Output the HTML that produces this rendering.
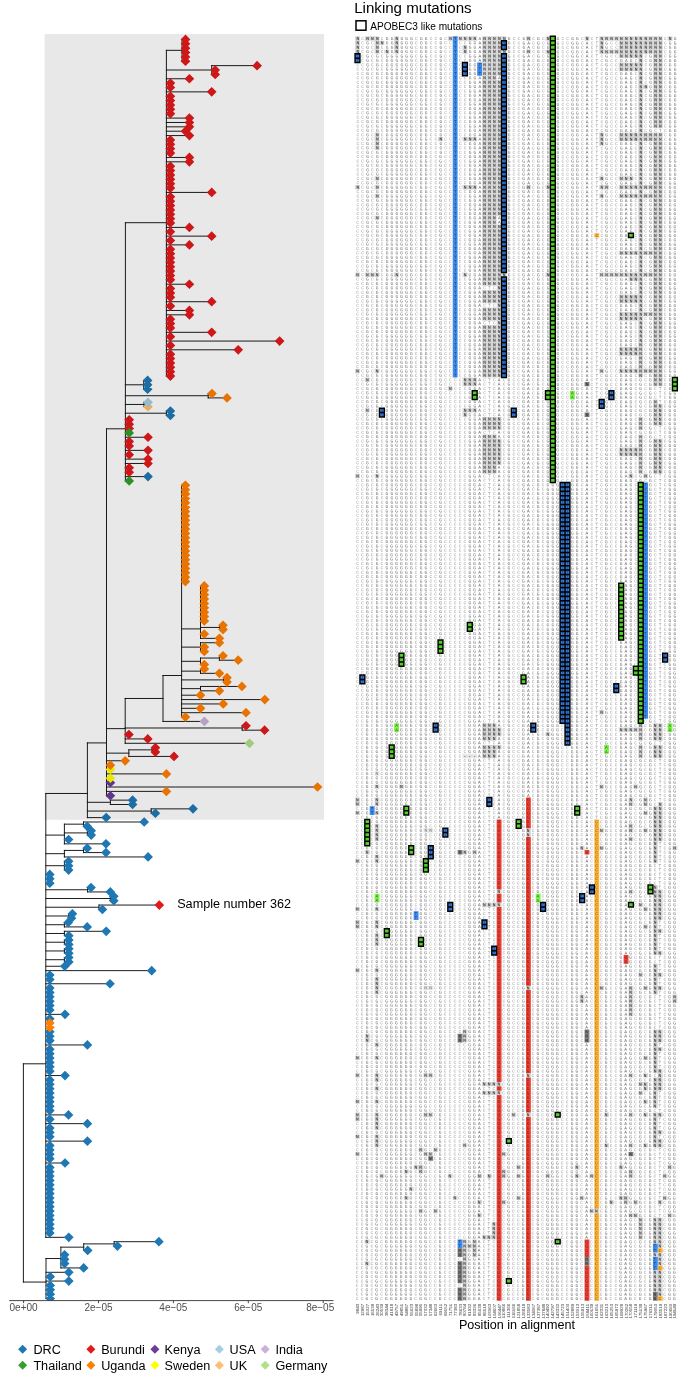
<!DOCTYPE html>
<html lang="en"><head><meta charset="utf-8"><title>Linking mutations</title>
<style>
html,body{margin:0;padding:0;background:#fff}
svg{display:block}
text{font-family:"Liberation Sans",Arial,sans-serif}
.ln{stroke:#111;stroke-width:.95;fill:none;stroke-linecap:square}
.ax{font-size:10px;fill:#4D4D4D;text-anchor:middle}
.lg{font-size:12.65px;fill:#000}
.m text{font-family:"Liberation Mono",monospace;font-size:4.5px;letter-spacing:2.18px;white-space:pre}
.b text{fill:#969696}
.b2 text{fill:#666}
.d text{fill:#333;stroke:#333;stroke-width:.09}
.e text{fill:#000;fill-opacity:.55}
.xl{font-size:4.4px;fill:#6a6a6a;stroke:#6a6a6a;stroke-width:.08;text-anchor:end}
.bc{stroke:#000;stroke-width:1.4}
</style></head><body>
<svg width="685" height="1382" viewBox="0 0 685 1382">
<rect width="685" height="1382" fill="#fff"/>
<g id="tree">
<path class="ln" d="M182 39.4V61.26M182 39.4H185.5M182 43.77H185.5M182 48.14H185.5M182 52.52H185.5M182 56.89H185.5M182 61.26H185.5M211.7 65.63V74.38M211.7 65.63H257.1M211.7 70H215.2M211.7 74.38H215.2M166.4 50.33V376.04M166.4 50.33H182M166.4 70H211.7M166.4 78.75H189.4M166.4 83.12H170.4M166.4 87.49H170.4M166.4 91.86H211.7M166.4 96.24H170.4M166.4 100.61H170.4M166.4 104.98H170.4M166.4 109.35H170.4M166.4 113.72H170.4M166.4 118.1H189.4M166.4 122.47H189.4M166.4 126.84H189.4M166.4 131.21H185.5M166.4 135.58H189.4M166.4 139.96H170.4M166.4 144.33H170.4M166.4 148.7H170.4M166.4 153.07H170.4M166.4 157.44H189.4M166.4 161.82H189.4M166.4 166.19H170.4M166.4 170.56H170.4M166.4 174.93H170.4M166.4 179.3H170.4M166.4 183.68H170.4M166.4 188.05H170.4M166.4 192.42H211.7M166.4 196.79H170.4M166.4 201.16H170.4M166.4 205.54H170.4M166.4 209.91H170.4M166.4 214.28H170.4M166.4 218.65H170.4M166.4 223.02H170.4M166.4 227.4H189.4M166.4 231.77H170.4M166.4 236.14H211.7M166.4 240.51H170.4M166.4 244.88H189.4M166.4 249.26H170.4M166.4 253.63H170.4M166.4 258H170.4M166.4 262.37H170.4M166.4 266.74H170.4M166.4 271.12H170.4M166.4 275.49H170.4M166.4 279.86H170.4M166.4 284.23H189.4M166.4 288.6H170.4M166.4 292.98H170.4M166.4 297.35H170.4M166.4 301.72H211.7M166.4 306.09H170.4M166.4 310.46H189.4M166.4 314.84H189.4M166.4 319.21H170.4M166.4 323.58H170.4M166.4 327.95H170.4M166.4 332.32H211.7M166.4 336.7H170.4M166.4 341.07H279.6M166.4 345.44H170.4M166.4 349.81H238.2M166.4 354.18H170.4M166.4 358.56H170.4M166.4 362.93H170.4M166.4 367.3H170.4M166.4 371.67H170.4M166.4 376.04H170.4M143.7 380.42V389.16M143.7 380.42H147.6M143.7 384.79H147.6M143.7 389.16H147.6M208.2 393.53V397.9M208.2 393.53H212M208.2 397.9H227M144 402.28V406.65M144 402.28H148M144 406.65H148M166.4 411.02V415.39M166.4 411.02H170.4M166.4 415.39H170.4M125.4 222.69V480.97M125.4 222.69H166.4M125.4 384.79H143.7M125.4 395.72H208.2M125.4 404.46H144M125.4 413.21H166.4M125.4 419.76H129.2M125.4 424.14H129.2M125.4 428.51H129.2M125.4 432.88H129.2M125.4 437.25H148M125.4 441.62H129.2M125.4 446H129.2M125.4 450.37H148M125.4 454.74H129.2M125.4 459.11H148M125.4 463.48H148M125.4 467.86H129.2M125.4 472.23H129.2M125.4 476.6H148M125.4 480.97H129.2M219.7 625.25V629.62M219.7 625.25H223M219.7 629.62H223M200.5 585.9V638.36M200.5 585.9H204.3M200.5 590.27H204.3M200.5 594.64H204.3M200.5 599.02H204.3M200.5 603.39H204.3M200.5 607.76H204.3M200.5 612.13H204.3M200.5 616.5H204.3M200.5 620.88H204.3M200.5 627.43H219.7M200.5 633.99H204.3M200.5 638.36H219.4M200.5 642.74V651.48M200.5 642.74H219.4M200.5 647.11H204.3M200.5 651.48H204.3M219.4 655.85V660.22M219.4 655.85H223M219.4 660.22H238.2M200.5 658.04V664.6M200.5 658.04H219.4M200.5 664.6H204.3M200.5 668.97V673.34M200.5 668.97H204.3M200.5 673.34H219.4M223.5 677.71V682.08M223.5 677.71H227M223.5 682.08H227M200.5 686.46V690.83M200.5 686.46H241.9M200.5 690.83H219.4M181.6 485.34V717.06M181.6 485.34H185.4M181.6 489.72H185.4M181.6 494.09H185.4M181.6 498.46H185.4M181.6 502.83H185.4M181.6 507.2H185.4M181.6 511.58H185.4M181.6 515.95H185.4M181.6 520.32H185.4M181.6 524.69H185.4M181.6 529.06H185.4M181.6 533.44H185.4M181.6 537.81H185.4M181.6 542.18H185.4M181.6 546.55H185.4M181.6 550.92H185.4M181.6 555.3H185.4M181.6 559.67H185.4M181.6 564.04H185.4M181.6 568.41H185.4M181.6 572.78H185.4M181.6 577.16H185.4M181.6 581.53H185.4M181.6 628.9H200.5M181.6 647.11H200.5M181.6 661.32H200.5M181.6 671.15H200.5M181.6 679.9H223.5M181.6 688.64H200.5M181.6 695.2H200.5M181.6 699.57H264.8M181.6 703.94H223.2M181.6 708.32H200.5M181.6 712.69H246M181.6 717.06H185.4M163 675.5V721.43M163 675.5H181.6M163 721.43H204.4M242.2 725.8V730.18M242.2 725.8H246M242.2 730.18H264.6M125.2 698.47V743.29M125.2 698.47H163M125.2 727.99H242.2M125.2 734.55H128.9M125.2 738.92H147.8M125.2 743.29H249.5M152.2 747.66V752.04M152.2 747.66H155.4M152.2 752.04H155.4M128.85 749.85V756.41M128.85 749.85H152.2M128.85 756.41H174M106.5 428.82V795.76M106.5 428.82H125.4M106.5 728.64H125.2M106.5 753.13H128.85M106.5 760.78H125.2M106.5 765.15H110.4M106.5 769.52H110.4M106.5 773.9H166.4M106.5 778.27H110.4M106.5 782.64H110.4M106.5 787.01H317.5M106.5 791.38H166.4M106.5 795.76H110.4M110.4 800.13V804.5M110.4 800.13H132.6M110.4 804.5H132.6M151.2 808.87V813.24M151.2 808.87H193M151.2 813.24H155.4M87.4 742.92V817.62M87.4 742.92H106.5M87.4 802.31H110.4M87.4 811.06H151.2M87.4 817.62H106.2M83.5 821.99V826.36M83.5 821.99H144.2M83.5 826.36H87.2M87.4 830.73V835.1M87.4 830.73H91.2M87.4 835.1H91.2M64.4 824.17V843.85M64.4 824.17H83.5M64.4 832.92H87.4M64.4 839.48H68.6M64.4 843.85H106M83.5 848.22V852.59M83.5 848.22H87.2M83.5 852.59H106M64.4 850.41V856.96M64.4 850.41H83.5M64.4 856.96H148.1M64.4 861.34V870.08M64.4 861.34H68.6M64.4 865.71H68.6M64.4 870.08H68.6M87.6 887.57V891.94M87.6 887.57H91M87.6 891.94H110.3M110.3 896.31V900.68M110.3 896.31H113.8M110.3 900.68H113.8M99 905.06V909.43M99 905.06H159.3M99 909.43H102.4M68.8 913.8V918.17M68.8 913.8H72.4M68.8 918.17H71.5M64.4 922.54V926.92M64.4 922.54H68.2M64.4 926.92H87.2M64.4 931.29V935.66M64.4 931.29H106.2M64.4 935.66H68.8M64.4 940.03V944.4M64.4 940.03H68.8M64.4 944.4H68.8M64.4 948.78V953.15M64.4 948.78H68.8M64.4 953.15H68.8M64.4 957.52V961.89M64.4 957.52H68.8M64.4 961.89H68.8M45.8 793.48V1237.33M45.8 793.48H87.4M45.8 835.1H64.4M45.8 853.68H64.4M45.8 865.71H64.4M45.8 874.45H49.8M45.8 878.82H49.8M45.8 883.2H49.8M45.8 889.75H87.6M45.8 898.5H110.3M45.8 907.24H99M45.8 915.99H68.8M45.8 924.73H64.4M45.8 933.47H64.4M45.8 942.22H64.4M45.8 950.96H64.4M45.8 959.71H64.4M45.8 966.26H64.8M45.8 970.64H151.7M45.8 975.01H49.8M45.8 979.38H49.8M45.8 983.75H110M45.8 988.12H49.8M45.8 992.5H49.8M45.8 996.87H49.8M45.8 1001.24H49.8M45.8 1005.61H49.8M45.8 1009.98H49.8M45.8 1014.36H65M45.8 1018.73H49.8M45.8 1023.1H49.8M45.8 1027.47H49.8M45.8 1031.84H49.8M45.8 1036.22H49.8M45.8 1040.59H49.8M45.8 1044.96H87.4M45.8 1049.33H49.8M45.8 1053.7H49.8M45.8 1058.08H49.8M45.8 1062.45H49.8M45.8 1066.82H49.8M45.8 1071.19H49.8M45.8 1075.56H65M45.8 1079.94H49.8M45.8 1084.31H49.8M45.8 1088.68H49.8M45.8 1093.05H49.8M45.8 1097.42H49.8M45.8 1101.8H49.8M45.8 1106.17H49.8M45.8 1110.54H49.8M45.8 1114.91H68.5M45.8 1119.28H49.8M45.8 1123.66H87.4M45.8 1128.03H49.8M45.8 1132.4H49.8M45.8 1136.77H49.8M45.8 1141.14H87.4M45.8 1145.52H49.8M45.8 1149.89H49.8M45.8 1154.26H49.8M45.8 1158.63H49.8M45.8 1163H65M45.8 1167.38H49.8M45.8 1171.75H49.8M45.8 1176.12H49.8M45.8 1180.49H49.8M45.8 1184.86H49.8M45.8 1189.24H49.8M45.8 1193.61H49.8M45.8 1197.98H49.8M45.8 1202.35H49.8M45.8 1206.72H49.8M45.8 1211.1H49.8M45.8 1215.47H49.8M45.8 1219.84H49.8M45.8 1224.21H49.8M45.8 1228.58H49.8M45.8 1232.96H49.8M45.8 1237.33H68.8M114.2 1241.7V1246.07M114.2 1241.7H158.9M114.2 1246.07H117.4M83.7 1243.89V1250.44M83.7 1243.89H114.2M83.7 1250.44H87.7M60.9 1247.16V1267.93M60.9 1247.16H83.7M60.9 1254.82H64.6M60.9 1259.19H64.6M60.9 1263.56H64.6M60.9 1267.93H83.7M46 1258.53V1298.54M46 1258.53H60.9M46 1272.3H68.8M46 1276.68H50.2M46 1281.05H68.8M46 1285.42H50.2M46 1289.79H50.2M46 1294.16H50.2M46 1298.54H50.2M23.4 1063.8V1282.06M23.4 1063.8H45.8M23.4 1282.06H46"/>
<clipPath id="cp"><rect x="0" y="0" width="685" height="1300.6"/></clipPath><g clip-path="url(#cp)">
<path fill="#1F78B4" d="M142.75 380.42l4.85 -4.85l4.85 4.85l-4.85 4.85zM142.75 384.79l4.85 -4.85l4.85 4.85l-4.85 4.85zM142.75 389.16l4.85 -4.85l4.85 4.85l-4.85 4.85zM165.55 411.02l4.85 -4.85l4.85 4.85l-4.85 4.85zM165.55 415.39l4.85 -4.85l4.85 4.85l-4.85 4.85zM143.15 476.6l4.85 -4.85l4.85 4.85l-4.85 4.85zM127.75 800.13l4.85 -4.85l4.85 4.85l-4.85 4.85zM127.75 804.5l4.85 -4.85l4.85 4.85l-4.85 4.85zM188.15 808.87l4.85 -4.85l4.85 4.85l-4.85 4.85zM150.55 813.24l4.85 -4.85l4.85 4.85l-4.85 4.85zM101.35 817.62l4.85 -4.85l4.85 4.85l-4.85 4.85zM139.35 821.99l4.85 -4.85l4.85 4.85l-4.85 4.85zM82.35 826.36l4.85 -4.85l4.85 4.85l-4.85 4.85zM86.35 830.73l4.85 -4.85l4.85 4.85l-4.85 4.85zM86.35 835.1l4.85 -4.85l4.85 4.85l-4.85 4.85zM63.75 839.48l4.85 -4.85l4.85 4.85l-4.85 4.85zM101.15 843.85l4.85 -4.85l4.85 4.85l-4.85 4.85zM82.35 848.22l4.85 -4.85l4.85 4.85l-4.85 4.85zM101.15 852.59l4.85 -4.85l4.85 4.85l-4.85 4.85zM143.25 856.96l4.85 -4.85l4.85 4.85l-4.85 4.85zM63.75 861.34l4.85 -4.85l4.85 4.85l-4.85 4.85zM63.75 865.71l4.85 -4.85l4.85 4.85l-4.85 4.85zM63.75 870.08l4.85 -4.85l4.85 4.85l-4.85 4.85zM44.95 874.45l4.85 -4.85l4.85 4.85l-4.85 4.85zM44.95 878.82l4.85 -4.85l4.85 4.85l-4.85 4.85zM44.95 883.2l4.85 -4.85l4.85 4.85l-4.85 4.85zM86.15 887.57l4.85 -4.85l4.85 4.85l-4.85 4.85zM105.45 891.94l4.85 -4.85l4.85 4.85l-4.85 4.85zM108.95 896.31l4.85 -4.85l4.85 4.85l-4.85 4.85zM108.95 900.68l4.85 -4.85l4.85 4.85l-4.85 4.85zM97.55 909.43l4.85 -4.85l4.85 4.85l-4.85 4.85zM67.55 913.8l4.85 -4.85l4.85 4.85l-4.85 4.85zM66.65 918.17l4.85 -4.85l4.85 4.85l-4.85 4.85zM63.35 922.54l4.85 -4.85l4.85 4.85l-4.85 4.85zM82.35 926.92l4.85 -4.85l4.85 4.85l-4.85 4.85zM101.35 931.29l4.85 -4.85l4.85 4.85l-4.85 4.85zM63.95 935.66l4.85 -4.85l4.85 4.85l-4.85 4.85zM63.95 940.03l4.85 -4.85l4.85 4.85l-4.85 4.85zM63.95 944.4l4.85 -4.85l4.85 4.85l-4.85 4.85zM63.95 948.78l4.85 -4.85l4.85 4.85l-4.85 4.85zM63.95 953.15l4.85 -4.85l4.85 4.85l-4.85 4.85zM63.95 957.52l4.85 -4.85l4.85 4.85l-4.85 4.85zM63.95 961.89l4.85 -4.85l4.85 4.85l-4.85 4.85zM59.95 966.26l4.85 -4.85l4.85 4.85l-4.85 4.85zM146.85 970.64l4.85 -4.85l4.85 4.85l-4.85 4.85zM44.95 975.01l4.85 -4.85l4.85 4.85l-4.85 4.85zM44.95 979.38l4.85 -4.85l4.85 4.85l-4.85 4.85zM105.15 983.75l4.85 -4.85l4.85 4.85l-4.85 4.85zM44.95 988.12l4.85 -4.85l4.85 4.85l-4.85 4.85zM44.95 992.5l4.85 -4.85l4.85 4.85l-4.85 4.85zM44.95 996.87l4.85 -4.85l4.85 4.85l-4.85 4.85zM44.95 1001.24l4.85 -4.85l4.85 4.85l-4.85 4.85zM44.95 1005.61l4.85 -4.85l4.85 4.85l-4.85 4.85zM44.95 1009.98l4.85 -4.85l4.85 4.85l-4.85 4.85zM60.15 1014.36l4.85 -4.85l4.85 4.85l-4.85 4.85zM44.95 1018.73l4.85 -4.85l4.85 4.85l-4.85 4.85zM44.95 1031.84l4.85 -4.85l4.85 4.85l-4.85 4.85zM44.95 1036.22l4.85 -4.85l4.85 4.85l-4.85 4.85zM44.95 1040.59l4.85 -4.85l4.85 4.85l-4.85 4.85zM82.55 1044.96l4.85 -4.85l4.85 4.85l-4.85 4.85zM44.95 1049.33l4.85 -4.85l4.85 4.85l-4.85 4.85zM44.95 1053.7l4.85 -4.85l4.85 4.85l-4.85 4.85zM44.95 1058.08l4.85 -4.85l4.85 4.85l-4.85 4.85zM44.95 1062.45l4.85 -4.85l4.85 4.85l-4.85 4.85zM44.95 1066.82l4.85 -4.85l4.85 4.85l-4.85 4.85zM44.95 1071.19l4.85 -4.85l4.85 4.85l-4.85 4.85zM60.15 1075.56l4.85 -4.85l4.85 4.85l-4.85 4.85zM44.95 1079.94l4.85 -4.85l4.85 4.85l-4.85 4.85zM44.95 1084.31l4.85 -4.85l4.85 4.85l-4.85 4.85zM44.95 1088.68l4.85 -4.85l4.85 4.85l-4.85 4.85zM44.95 1093.05l4.85 -4.85l4.85 4.85l-4.85 4.85zM44.95 1097.42l4.85 -4.85l4.85 4.85l-4.85 4.85zM44.95 1101.8l4.85 -4.85l4.85 4.85l-4.85 4.85zM44.95 1106.17l4.85 -4.85l4.85 4.85l-4.85 4.85zM44.95 1110.54l4.85 -4.85l4.85 4.85l-4.85 4.85zM63.65 1114.91l4.85 -4.85l4.85 4.85l-4.85 4.85zM44.95 1119.28l4.85 -4.85l4.85 4.85l-4.85 4.85zM82.55 1123.66l4.85 -4.85l4.85 4.85l-4.85 4.85zM44.95 1128.03l4.85 -4.85l4.85 4.85l-4.85 4.85zM44.95 1132.4l4.85 -4.85l4.85 4.85l-4.85 4.85zM44.95 1136.77l4.85 -4.85l4.85 4.85l-4.85 4.85zM82.55 1141.14l4.85 -4.85l4.85 4.85l-4.85 4.85zM44.95 1145.52l4.85 -4.85l4.85 4.85l-4.85 4.85zM44.95 1149.89l4.85 -4.85l4.85 4.85l-4.85 4.85zM44.95 1154.26l4.85 -4.85l4.85 4.85l-4.85 4.85zM44.95 1158.63l4.85 -4.85l4.85 4.85l-4.85 4.85zM60.15 1163l4.85 -4.85l4.85 4.85l-4.85 4.85zM44.95 1167.38l4.85 -4.85l4.85 4.85l-4.85 4.85zM44.95 1171.75l4.85 -4.85l4.85 4.85l-4.85 4.85zM44.95 1176.12l4.85 -4.85l4.85 4.85l-4.85 4.85zM44.95 1180.49l4.85 -4.85l4.85 4.85l-4.85 4.85zM44.95 1184.86l4.85 -4.85l4.85 4.85l-4.85 4.85zM44.95 1189.24l4.85 -4.85l4.85 4.85l-4.85 4.85zM44.95 1193.61l4.85 -4.85l4.85 4.85l-4.85 4.85zM44.95 1197.98l4.85 -4.85l4.85 4.85l-4.85 4.85zM44.95 1202.35l4.85 -4.85l4.85 4.85l-4.85 4.85zM44.95 1206.72l4.85 -4.85l4.85 4.85l-4.85 4.85zM44.95 1211.1l4.85 -4.85l4.85 4.85l-4.85 4.85zM44.95 1215.47l4.85 -4.85l4.85 4.85l-4.85 4.85zM44.95 1219.84l4.85 -4.85l4.85 4.85l-4.85 4.85zM44.95 1224.21l4.85 -4.85l4.85 4.85l-4.85 4.85zM44.95 1228.58l4.85 -4.85l4.85 4.85l-4.85 4.85zM44.95 1232.96l4.85 -4.85l4.85 4.85l-4.85 4.85zM63.95 1237.33l4.85 -4.85l4.85 4.85l-4.85 4.85zM154.05 1241.7l4.85 -4.85l4.85 4.85l-4.85 4.85zM112.55 1246.07l4.85 -4.85l4.85 4.85l-4.85 4.85zM82.85 1250.44l4.85 -4.85l4.85 4.85l-4.85 4.85zM59.75 1254.82l4.85 -4.85l4.85 4.85l-4.85 4.85zM59.75 1259.19l4.85 -4.85l4.85 4.85l-4.85 4.85zM59.75 1263.56l4.85 -4.85l4.85 4.85l-4.85 4.85zM78.85 1267.93l4.85 -4.85l4.85 4.85l-4.85 4.85zM63.95 1272.3l4.85 -4.85l4.85 4.85l-4.85 4.85zM45.35 1276.68l4.85 -4.85l4.85 4.85l-4.85 4.85zM63.95 1281.05l4.85 -4.85l4.85 4.85l-4.85 4.85zM45.35 1285.42l4.85 -4.85l4.85 4.85l-4.85 4.85zM45.35 1289.79l4.85 -4.85l4.85 4.85l-4.85 4.85zM45.35 1294.16l4.85 -4.85l4.85 4.85l-4.85 4.85zM45.35 1298.54l4.85 -4.85l4.85 4.85l-4.85 4.85z"/>
<path fill="#E31A1C" d="M180.65 39.4l4.85 -4.85l4.85 4.85l-4.85 4.85zM180.65 43.77l4.85 -4.85l4.85 4.85l-4.85 4.85zM180.65 48.14l4.85 -4.85l4.85 4.85l-4.85 4.85zM180.65 52.52l4.85 -4.85l4.85 4.85l-4.85 4.85zM180.65 56.89l4.85 -4.85l4.85 4.85l-4.85 4.85zM180.65 61.26l4.85 -4.85l4.85 4.85l-4.85 4.85zM252.25 65.63l4.85 -4.85l4.85 4.85l-4.85 4.85zM210.35 70l4.85 -4.85l4.85 4.85l-4.85 4.85zM210.35 74.38l4.85 -4.85l4.85 4.85l-4.85 4.85zM184.55 78.75l4.85 -4.85l4.85 4.85l-4.85 4.85zM165.55 83.12l4.85 -4.85l4.85 4.85l-4.85 4.85zM165.55 87.49l4.85 -4.85l4.85 4.85l-4.85 4.85zM206.85 91.86l4.85 -4.85l4.85 4.85l-4.85 4.85zM165.55 96.24l4.85 -4.85l4.85 4.85l-4.85 4.85zM165.55 100.61l4.85 -4.85l4.85 4.85l-4.85 4.85zM165.55 104.98l4.85 -4.85l4.85 4.85l-4.85 4.85zM165.55 109.35l4.85 -4.85l4.85 4.85l-4.85 4.85zM165.55 113.72l4.85 -4.85l4.85 4.85l-4.85 4.85zM184.55 118.1l4.85 -4.85l4.85 4.85l-4.85 4.85zM184.55 122.47l4.85 -4.85l4.85 4.85l-4.85 4.85zM184.55 126.84l4.85 -4.85l4.85 4.85l-4.85 4.85zM180.65 131.21l4.85 -4.85l4.85 4.85l-4.85 4.85zM184.55 135.58l4.85 -4.85l4.85 4.85l-4.85 4.85zM165.55 139.96l4.85 -4.85l4.85 4.85l-4.85 4.85zM165.55 144.33l4.85 -4.85l4.85 4.85l-4.85 4.85zM165.55 148.7l4.85 -4.85l4.85 4.85l-4.85 4.85zM165.55 153.07l4.85 -4.85l4.85 4.85l-4.85 4.85zM184.55 157.44l4.85 -4.85l4.85 4.85l-4.85 4.85zM184.55 161.82l4.85 -4.85l4.85 4.85l-4.85 4.85zM165.55 166.19l4.85 -4.85l4.85 4.85l-4.85 4.85zM165.55 170.56l4.85 -4.85l4.85 4.85l-4.85 4.85zM165.55 174.93l4.85 -4.85l4.85 4.85l-4.85 4.85zM165.55 179.3l4.85 -4.85l4.85 4.85l-4.85 4.85zM165.55 183.68l4.85 -4.85l4.85 4.85l-4.85 4.85zM165.55 188.05l4.85 -4.85l4.85 4.85l-4.85 4.85zM206.85 192.42l4.85 -4.85l4.85 4.85l-4.85 4.85zM165.55 196.79l4.85 -4.85l4.85 4.85l-4.85 4.85zM165.55 201.16l4.85 -4.85l4.85 4.85l-4.85 4.85zM165.55 205.54l4.85 -4.85l4.85 4.85l-4.85 4.85zM165.55 209.91l4.85 -4.85l4.85 4.85l-4.85 4.85zM165.55 214.28l4.85 -4.85l4.85 4.85l-4.85 4.85zM165.55 218.65l4.85 -4.85l4.85 4.85l-4.85 4.85zM165.55 223.02l4.85 -4.85l4.85 4.85l-4.85 4.85zM184.55 227.4l4.85 -4.85l4.85 4.85l-4.85 4.85zM165.55 231.77l4.85 -4.85l4.85 4.85l-4.85 4.85zM206.85 236.14l4.85 -4.85l4.85 4.85l-4.85 4.85zM165.55 240.51l4.85 -4.85l4.85 4.85l-4.85 4.85zM184.55 244.88l4.85 -4.85l4.85 4.85l-4.85 4.85zM165.55 249.26l4.85 -4.85l4.85 4.85l-4.85 4.85zM165.55 253.63l4.85 -4.85l4.85 4.85l-4.85 4.85zM165.55 258l4.85 -4.85l4.85 4.85l-4.85 4.85zM165.55 262.37l4.85 -4.85l4.85 4.85l-4.85 4.85zM165.55 266.74l4.85 -4.85l4.85 4.85l-4.85 4.85zM165.55 271.12l4.85 -4.85l4.85 4.85l-4.85 4.85zM165.55 275.49l4.85 -4.85l4.85 4.85l-4.85 4.85zM165.55 279.86l4.85 -4.85l4.85 4.85l-4.85 4.85zM184.55 284.23l4.85 -4.85l4.85 4.85l-4.85 4.85zM165.55 288.6l4.85 -4.85l4.85 4.85l-4.85 4.85zM165.55 292.98l4.85 -4.85l4.85 4.85l-4.85 4.85zM165.55 297.35l4.85 -4.85l4.85 4.85l-4.85 4.85zM206.85 301.72l4.85 -4.85l4.85 4.85l-4.85 4.85zM165.55 306.09l4.85 -4.85l4.85 4.85l-4.85 4.85zM184.55 310.46l4.85 -4.85l4.85 4.85l-4.85 4.85zM184.55 314.84l4.85 -4.85l4.85 4.85l-4.85 4.85zM165.55 319.21l4.85 -4.85l4.85 4.85l-4.85 4.85zM165.55 323.58l4.85 -4.85l4.85 4.85l-4.85 4.85zM165.55 327.95l4.85 -4.85l4.85 4.85l-4.85 4.85zM206.85 332.32l4.85 -4.85l4.85 4.85l-4.85 4.85zM165.55 336.7l4.85 -4.85l4.85 4.85l-4.85 4.85zM274.75 341.07l4.85 -4.85l4.85 4.85l-4.85 4.85zM165.55 345.44l4.85 -4.85l4.85 4.85l-4.85 4.85zM233.35 349.81l4.85 -4.85l4.85 4.85l-4.85 4.85zM165.55 354.18l4.85 -4.85l4.85 4.85l-4.85 4.85zM165.55 358.56l4.85 -4.85l4.85 4.85l-4.85 4.85zM165.55 362.93l4.85 -4.85l4.85 4.85l-4.85 4.85zM165.55 367.3l4.85 -4.85l4.85 4.85l-4.85 4.85zM165.55 371.67l4.85 -4.85l4.85 4.85l-4.85 4.85zM165.55 376.04l4.85 -4.85l4.85 4.85l-4.85 4.85zM124.35 419.76l4.85 -4.85l4.85 4.85l-4.85 4.85zM124.35 424.14l4.85 -4.85l4.85 4.85l-4.85 4.85zM124.35 428.51l4.85 -4.85l4.85 4.85l-4.85 4.85zM143.15 437.25l4.85 -4.85l4.85 4.85l-4.85 4.85zM124.35 441.62l4.85 -4.85l4.85 4.85l-4.85 4.85zM124.35 446l4.85 -4.85l4.85 4.85l-4.85 4.85zM143.15 450.37l4.85 -4.85l4.85 4.85l-4.85 4.85zM124.35 454.74l4.85 -4.85l4.85 4.85l-4.85 4.85zM143.15 459.11l4.85 -4.85l4.85 4.85l-4.85 4.85zM143.15 463.48l4.85 -4.85l4.85 4.85l-4.85 4.85zM124.35 467.86l4.85 -4.85l4.85 4.85l-4.85 4.85zM124.35 472.23l4.85 -4.85l4.85 4.85l-4.85 4.85zM241.15 725.8l4.85 -4.85l4.85 4.85l-4.85 4.85zM259.75 730.18l4.85 -4.85l4.85 4.85l-4.85 4.85zM124.05 734.55l4.85 -4.85l4.85 4.85l-4.85 4.85zM142.95 738.92l4.85 -4.85l4.85 4.85l-4.85 4.85zM150.55 747.66l4.85 -4.85l4.85 4.85l-4.85 4.85zM150.55 752.04l4.85 -4.85l4.85 4.85l-4.85 4.85zM169.15 756.41l4.85 -4.85l4.85 4.85l-4.85 4.85zM154.45 905.06l4.85 -4.85l4.85 4.85l-4.85 4.85z"/>
<path fill="#6A3D9A" d="M105.55 782.64l4.85 -4.85l4.85 4.85l-4.85 4.85zM105.55 795.76l4.85 -4.85l4.85 4.85l-4.85 4.85z"/>
<path fill="#FDBF6F" d="M143.15 406.65l4.85 -4.85l4.85 4.85l-4.85 4.85z"/>
<path fill="#FFFF00" d="M105.55 769.52l4.85 -4.85l4.85 4.85l-4.85 4.85zM105.55 778.27l4.85 -4.85l4.85 4.85l-4.85 4.85z"/>
<path fill="#A6CEE3" d="M143.15 402.28l4.85 -4.85l4.85 4.85l-4.85 4.85z"/>
<path fill="#CAB2D6" d="M199.55 721.43l4.85 -4.85l4.85 4.85l-4.85 4.85z"/>
<path fill="#B2DF8A" d="M244.65 743.29l4.85 -4.85l4.85 4.85l-4.85 4.85z"/>
<path fill="#33A02C" d="M124.35 432.88l4.85 -4.85l4.85 4.85l-4.85 4.85zM124.35 480.97l4.85 -4.85l4.85 4.85l-4.85 4.85z"/>
<path fill="#FF7F00" d="M207.15 393.53l4.85 -4.85l4.85 4.85l-4.85 4.85zM222.15 397.9l4.85 -4.85l4.85 4.85l-4.85 4.85zM180.55 485.34l4.85 -4.85l4.85 4.85l-4.85 4.85zM180.55 489.72l4.85 -4.85l4.85 4.85l-4.85 4.85zM180.55 494.09l4.85 -4.85l4.85 4.85l-4.85 4.85zM180.55 498.46l4.85 -4.85l4.85 4.85l-4.85 4.85zM180.55 502.83l4.85 -4.85l4.85 4.85l-4.85 4.85zM180.55 507.2l4.85 -4.85l4.85 4.85l-4.85 4.85zM180.55 511.58l4.85 -4.85l4.85 4.85l-4.85 4.85zM180.55 515.95l4.85 -4.85l4.85 4.85l-4.85 4.85zM180.55 520.32l4.85 -4.85l4.85 4.85l-4.85 4.85zM180.55 524.69l4.85 -4.85l4.85 4.85l-4.85 4.85zM180.55 529.06l4.85 -4.85l4.85 4.85l-4.85 4.85zM180.55 533.44l4.85 -4.85l4.85 4.85l-4.85 4.85zM180.55 537.81l4.85 -4.85l4.85 4.85l-4.85 4.85zM180.55 542.18l4.85 -4.85l4.85 4.85l-4.85 4.85zM180.55 546.55l4.85 -4.85l4.85 4.85l-4.85 4.85zM180.55 550.92l4.85 -4.85l4.85 4.85l-4.85 4.85zM180.55 555.3l4.85 -4.85l4.85 4.85l-4.85 4.85zM180.55 559.67l4.85 -4.85l4.85 4.85l-4.85 4.85zM180.55 564.04l4.85 -4.85l4.85 4.85l-4.85 4.85zM180.55 568.41l4.85 -4.85l4.85 4.85l-4.85 4.85zM180.55 572.78l4.85 -4.85l4.85 4.85l-4.85 4.85zM180.55 577.16l4.85 -4.85l4.85 4.85l-4.85 4.85zM180.55 581.53l4.85 -4.85l4.85 4.85l-4.85 4.85zM199.45 585.9l4.85 -4.85l4.85 4.85l-4.85 4.85zM199.45 590.27l4.85 -4.85l4.85 4.85l-4.85 4.85zM199.45 594.64l4.85 -4.85l4.85 4.85l-4.85 4.85zM199.45 599.02l4.85 -4.85l4.85 4.85l-4.85 4.85zM199.45 603.39l4.85 -4.85l4.85 4.85l-4.85 4.85zM199.45 607.76l4.85 -4.85l4.85 4.85l-4.85 4.85zM199.45 612.13l4.85 -4.85l4.85 4.85l-4.85 4.85zM199.45 616.5l4.85 -4.85l4.85 4.85l-4.85 4.85zM199.45 620.88l4.85 -4.85l4.85 4.85l-4.85 4.85zM218.15 625.25l4.85 -4.85l4.85 4.85l-4.85 4.85zM218.15 629.62l4.85 -4.85l4.85 4.85l-4.85 4.85zM199.45 633.99l4.85 -4.85l4.85 4.85l-4.85 4.85zM214.55 638.36l4.85 -4.85l4.85 4.85l-4.85 4.85zM214.55 642.74l4.85 -4.85l4.85 4.85l-4.85 4.85zM199.45 647.11l4.85 -4.85l4.85 4.85l-4.85 4.85zM199.45 651.48l4.85 -4.85l4.85 4.85l-4.85 4.85zM218.15 655.85l4.85 -4.85l4.85 4.85l-4.85 4.85zM233.35 660.22l4.85 -4.85l4.85 4.85l-4.85 4.85zM199.45 664.6l4.85 -4.85l4.85 4.85l-4.85 4.85zM199.45 668.97l4.85 -4.85l4.85 4.85l-4.85 4.85zM214.55 673.34l4.85 -4.85l4.85 4.85l-4.85 4.85zM222.15 677.71l4.85 -4.85l4.85 4.85l-4.85 4.85zM222.15 682.08l4.85 -4.85l4.85 4.85l-4.85 4.85zM237.05 686.46l4.85 -4.85l4.85 4.85l-4.85 4.85zM214.55 690.83l4.85 -4.85l4.85 4.85l-4.85 4.85zM195.65 695.2l4.85 -4.85l4.85 4.85l-4.85 4.85zM259.95 699.57l4.85 -4.85l4.85 4.85l-4.85 4.85zM218.35 703.94l4.85 -4.85l4.85 4.85l-4.85 4.85zM195.65 708.32l4.85 -4.85l4.85 4.85l-4.85 4.85zM241.15 712.69l4.85 -4.85l4.85 4.85l-4.85 4.85zM180.55 717.06l4.85 -4.85l4.85 4.85l-4.85 4.85zM120.35 760.78l4.85 -4.85l4.85 4.85l-4.85 4.85zM105.55 765.15l4.85 -4.85l4.85 4.85l-4.85 4.85zM161.55 773.9l4.85 -4.85l4.85 4.85l-4.85 4.85zM312.65 787.01l4.85 -4.85l4.85 4.85l-4.85 4.85zM161.55 791.38l4.85 -4.85l4.85 4.85l-4.85 4.85zM44.95 1023.1l4.85 -4.85l4.85 4.85l-4.85 4.85zM44.95 1027.47l4.85 -4.85l4.85 4.85l-4.85 4.85z"/>
</g>
<rect x="44.6" y="34" width="279.4" height="785.8" fill="#000" fill-opacity=".09"/>
<path d="M9.2 1300.6H333.5" stroke="#333" stroke-width=".9" fill="none"/>
<path d="M23.6 1300.6v2.6M98.5 1300.6v2.6M173.4 1300.6v2.6M248.3 1300.6v2.6M323.2 1300.6v2.6" stroke="#333" stroke-width=".9" fill="none"/>
<text class="ax" x="23.6" y="1311.3">0e+00</text>
<text class="ax" x="98.5" y="1311.3">2e−05</text>
<text class="ax" x="173.4" y="1311.3">4e−05</text>
<text class="ax" x="248.3" y="1311.3">6e−05</text>
<text class="ax" x="320.2" y="1311.3">8e−05</text>
<text class="lg" x="177.2" y="908.4">Sample number 362</text>
<path fill="#1F78B4" d="M18.1 1349.2l4.5 -4.5l4.5 4.5l-4.5 4.5z"/><text class="lg" x="33.4" y="1353.7">DRC</text>
<path fill="#E31A1C" d="M86.4 1349.2l4.5 -4.5l4.5 4.5l-4.5 4.5z"/><text class="lg" x="101.2" y="1353.7">Burundi</text>
<path fill="#6A3D9A" d="M150.4 1349.2l4.5 -4.5l4.5 4.5l-4.5 4.5z"/><text class="lg" x="164.6" y="1353.7">Kenya</text>
<path fill="#A6CEE3" d="M214.9 1349.2l4.5 -4.5l4.5 4.5l-4.5 4.5z"/><text class="lg" x="229.6" y="1353.7">USA</text>
<path fill="#CAB2D6" d="M260.7 1349.2l4.5 -4.5l4.5 4.5l-4.5 4.5z"/><text class="lg" x="275.4" y="1353.7">India</text>
<path fill="#33A02C" d="M18.1 1365.3l4.5 -4.5l4.5 4.5l-4.5 4.5z"/><text class="lg" x="33.4" y="1369.6">Thailand</text>
<path fill="#FF7F00" d="M86.4 1365.3l4.5 -4.5l4.5 4.5l-4.5 4.5z"/><text class="lg" x="101.2" y="1369.6">Uganda</text>
<path fill="#FFFF00" d="M150.4 1365.3l4.5 -4.5l4.5 4.5l-4.5 4.5z"/><text class="lg" x="164.6" y="1369.6">Sweden</text>
<path fill="#FDBF6F" d="M214.9 1365.3l4.5 -4.5l4.5 4.5l-4.5 4.5z"/><text class="lg" x="229.6" y="1369.6">UK</text>
<path fill="#B2DF8A" d="M260.7 1365.3l4.5 -4.5l4.5 4.5l-4.5 4.5z"/><text class="lg" x="275.4" y="1369.6">Germany</text>
</g>
<g id="aln">
<path fill="#D8D8D8" d="M355.06 36.31h4.88v17.5h-4.88zM355.06 185.06h4.88v4.38h-4.88zM355.06 272.56h4.88v4.38h-4.88zM355.06 368.81h4.88v4.38h-4.88zM355.06 473.81h4.88v4.38h-4.88zM355.06 797.56h4.88v8.75h-4.88zM355.06 810.69h4.88v4.38h-4.88zM355.06 858.81h4.88v4.38h-4.88zM355.06 906.94h4.88v4.38h-4.88zM355.06 920.06h4.88v8.75h-4.88zM355.06 968.19h4.88v4.38h-4.88zM355.06 1055.69h4.88v4.38h-4.88zM355.06 1073.19h4.88v4.38h-4.88zM355.06 1099.44h4.88v4.38h-4.88zM355.06 1112.56h4.88v8.75h-4.88zM355.06 1134.44h4.88v4.38h-4.88zM355.06 1151.94h4.88v4.38h-4.88zM364.82 36.31h4.88v4.38h-4.88zM364.82 272.56h4.88v4.38h-4.88zM364.82 377.56h4.88v4.38h-4.88zM364.82 408.19h4.88v4.38h-4.88zM364.82 850.06h4.88v4.38h-4.88zM364.82 1033.81h4.88v8.75h-4.88zM364.82 1239.44h4.88v4.38h-4.88zM364.82 1261.31h4.88v4.38h-4.88zM369.71 36.31h4.88v4.38h-4.88zM369.71 272.56h4.88v4.38h-4.88zM374.59 36.31h4.88v17.5h-4.88zM374.59 132.56h4.88v17.5h-4.88zM374.59 176.31h4.88v4.38h-4.88zM374.59 185.06h4.88v4.38h-4.88zM374.59 193.81h4.88v4.38h-4.88zM374.59 215.69h4.88v4.38h-4.88zM374.59 272.56h4.88v4.38h-4.88zM374.59 368.81h4.88v4.38h-4.88zM374.59 473.81h4.88v4.38h-4.88zM374.59 784.44h4.88v4.38h-4.88zM374.59 797.56h4.88v8.75h-4.88zM374.59 810.69h4.88v4.38h-4.88zM374.59 823.81h4.88v17.5h-4.88zM374.59 854.44h4.88v8.75h-4.88zM374.59 906.94h4.88v4.38h-4.88zM374.59 920.06h4.88v8.75h-4.88zM374.59 933.19h4.88v13.12h-4.88zM374.59 968.19h4.88v4.38h-4.88zM374.59 976.94h4.88v17.5h-4.88zM374.59 1042.56h4.88v4.38h-4.88zM374.59 1055.69h4.88v4.38h-4.88zM374.59 1073.19h4.88v8.75h-4.88zM374.59 1086.31h4.88v4.38h-4.88zM374.59 1099.44h4.88v4.38h-4.88zM374.59 1112.56h4.88v17.5h-4.88zM374.59 1134.44h4.88v13.12h-4.88zM379.47 40.69h4.88v4.38h-4.88zM379.47 1173.81h4.88v4.38h-4.88zM384.36 49.44h4.88v4.38h-4.88zM394.12 36.31h4.88v17.5h-4.88zM394.12 272.56h4.88v4.38h-4.88zM399.01 784.44h4.88v4.38h-4.88zM403.89 1169.44h4.88v4.38h-4.88zM403.89 1195.69h4.88v4.38h-4.88zM408.77 1186.94h4.88v4.38h-4.88zM413.65 1165.06h4.88v4.38h-4.88zM418.54 1147.56h4.88v4.38h-4.88zM418.54 1165.06h4.88v8.75h-4.88zM418.54 1208.81h4.88v4.38h-4.88zM423.42 1073.19h4.88v4.38h-4.88zM423.42 1112.56h4.88v4.38h-4.88zM423.42 1151.94h4.88v4.38h-4.88zM428.3 1073.19h4.88v4.38h-4.88zM428.3 1112.56h4.88v4.38h-4.88zM428.3 1151.94h4.88v4.38h-4.88zM433.19 1147.56h4.88v4.38h-4.88zM433.19 1208.81h4.88v4.38h-4.88zM438.07 136.94h4.88v4.38h-4.88zM447.84 36.31h4.88v4.38h-4.88zM447.84 386.31h4.88v4.38h-4.88zM447.84 1173.81h4.88v4.38h-4.88zM452.72 1195.69h4.88v4.38h-4.88zM457.6 36.31h4.88v4.38h-4.88zM462.48 36.31h4.88v4.38h-4.88zM462.48 45.06h4.88v8.75h-4.88zM462.48 136.94h4.88v4.38h-4.88zM462.48 185.06h4.88v4.38h-4.88zM462.48 272.56h4.88v4.38h-4.88zM462.48 377.56h4.88v8.75h-4.88zM462.48 408.19h4.88v8.75h-4.88zM462.48 850.06h4.88v4.38h-4.88zM462.48 1029.44h4.88v13.12h-4.88zM462.48 1143.19h4.88v4.38h-4.88zM462.48 1239.44h4.88v61.25h-4.88zM467.37 36.31h4.88v4.38h-4.88zM467.37 136.94h4.88v4.38h-4.88zM467.37 185.06h4.88v4.38h-4.88zM467.37 377.56h4.88v8.75h-4.88zM467.37 408.19h4.88v4.38h-4.88zM467.37 1243.81h4.88v4.38h-4.88zM472.25 36.31h4.88v4.38h-4.88zM472.25 136.94h4.88v4.38h-4.88zM472.25 185.06h4.88v4.38h-4.88zM472.25 377.56h4.88v8.75h-4.88zM472.25 408.19h4.88v4.38h-4.88zM472.25 850.06h4.88v4.38h-4.88zM472.25 1239.44h4.88v17.5h-4.88zM477.13 1173.81h4.88v4.38h-4.88zM477.13 1200.06h4.88v4.38h-4.88zM477.13 1213.19h4.88v4.38h-4.88zM482.02 36.31h4.88v249.38h-4.88zM482.02 290.06h4.88v13.12h-4.88zM482.02 307.56h4.88v13.12h-4.88zM482.02 325.06h4.88v52.5h-4.88zM482.02 416.94h4.88v13.12h-4.88zM482.02 434.44h4.88v39.38h-4.88zM482.02 723.19h4.88v17.5h-4.88zM482.02 745.06h4.88v13.12h-4.88zM482.02 902.56h4.88v4.38h-4.88zM482.02 1081.94h4.88v4.38h-4.88zM482.02 1090.69h4.88v4.38h-4.88zM482.02 1235.06h4.88v4.38h-4.88zM486.9 36.31h4.88v249.38h-4.88zM486.9 290.06h4.88v13.12h-4.88zM486.9 307.56h4.88v13.12h-4.88zM486.9 325.06h4.88v52.5h-4.88zM486.9 416.94h4.88v13.12h-4.88zM486.9 434.44h4.88v39.38h-4.88zM486.9 723.19h4.88v17.5h-4.88zM486.9 745.06h4.88v13.12h-4.88zM486.9 902.56h4.88v4.38h-4.88zM486.9 1081.94h4.88v4.38h-4.88zM486.9 1090.69h4.88v4.38h-4.88zM486.9 1173.81h4.88v4.38h-4.88zM486.9 1235.06h4.88v4.38h-4.88zM491.78 36.31h4.88v249.38h-4.88zM491.78 290.06h4.88v13.12h-4.88zM491.78 307.56h4.88v13.12h-4.88zM491.78 325.06h4.88v52.5h-4.88zM491.78 416.94h4.88v13.12h-4.88zM491.78 434.44h4.88v39.38h-4.88zM491.78 723.19h4.88v17.5h-4.88zM491.78 745.06h4.88v13.12h-4.88zM491.78 902.56h4.88v4.38h-4.88zM491.78 1081.94h4.88v4.38h-4.88zM491.78 1090.69h4.88v4.38h-4.88zM491.78 1221.94h4.88v17.5h-4.88zM496.67 36.31h4.88v39.38h-4.88zM496.67 80.06h4.88v135.62h-4.88zM496.67 224.44h4.88v153.12h-4.88zM496.67 416.94h4.88v13.12h-4.88zM496.67 438.81h4.88v26.25h-4.88zM496.67 727.56h4.88v8.75h-4.88zM496.67 745.06h4.88v4.38h-4.88zM496.67 889.44h4.88v4.38h-4.88zM496.67 902.56h4.88v4.38h-4.88zM496.67 1081.94h4.88v4.38h-4.88zM496.67 1090.69h4.88v4.38h-4.88zM501.55 36.31h4.88v4.38h-4.88zM501.55 49.44h4.88v4.38h-4.88zM501.55 272.56h4.88v4.38h-4.88zM501.55 1151.94h4.88v4.38h-4.88zM501.55 1169.44h4.88v8.75h-4.88zM501.55 1200.06h4.88v4.38h-4.88zM511.31 1112.56h4.88v4.38h-4.88zM516.2 1165.06h4.88v4.38h-4.88zM516.2 1173.81h4.88v4.38h-4.88zM516.2 1195.69h4.88v4.38h-4.88zM525.96 36.31h4.88v4.38h-4.88zM525.96 49.44h4.88v4.38h-4.88zM525.96 185.06h4.88v4.38h-4.88zM525.96 828.19h4.88v8.75h-4.88zM525.96 985.69h4.88v4.38h-4.88zM525.96 1073.19h4.88v4.38h-4.88zM525.96 1112.56h4.88v4.38h-4.88zM545.5 36.31h4.88v4.38h-4.88zM545.5 49.44h4.88v4.38h-4.88zM545.5 185.06h4.88v4.38h-4.88zM545.5 272.56h4.88v4.38h-4.88zM545.5 731.94h4.88v4.38h-4.88zM545.5 1173.81h4.88v4.38h-4.88zM574.79 1165.06h4.88v4.38h-4.88zM574.79 1173.81h4.88v4.38h-4.88zM579.68 845.69h4.88v4.38h-4.88zM579.68 994.44h4.88v8.75h-4.88zM579.68 1195.69h4.88v4.38h-4.88zM584.56 36.31h4.88v4.38h-4.88zM589.44 1173.81h4.88v4.38h-4.88zM589.44 1208.81h4.88v4.38h-4.88zM594.33 1208.81h4.88v4.38h-4.88zM599.21 36.31h4.88v17.5h-4.88zM599.21 132.56h4.88v13.12h-4.88zM599.21 176.31h4.88v4.38h-4.88zM599.21 185.06h4.88v4.38h-4.88zM599.21 193.81h4.88v4.38h-4.88zM599.21 272.56h4.88v4.38h-4.88zM599.21 368.81h4.88v4.38h-4.88zM599.21 710.06h4.88v4.38h-4.88zM599.21 784.44h4.88v4.38h-4.88zM599.21 828.19h4.88v4.38h-4.88zM599.21 845.69h4.88v4.38h-4.88zM599.21 985.69h4.88v4.38h-4.88zM604.09 36.31h4.88v4.38h-4.88zM604.09 49.44h4.88v4.38h-4.88zM604.09 185.06h4.88v4.38h-4.88zM604.09 272.56h4.88v4.38h-4.88zM604.09 1112.56h4.88v4.38h-4.88zM604.09 1143.19h4.88v4.38h-4.88zM608.97 36.31h4.88v4.38h-4.88zM608.97 49.44h4.88v4.38h-4.88zM608.97 272.56h4.88v4.38h-4.88zM608.97 1200.06h4.88v4.38h-4.88zM613.86 36.31h4.88v4.38h-4.88zM613.86 49.44h4.88v4.38h-4.88zM613.86 272.56h4.88v4.38h-4.88zM618.74 36.31h4.88v21.88h-4.88zM618.74 62.56h4.88v8.75h-4.88zM618.74 132.56h4.88v8.75h-4.88zM618.74 176.31h4.88v4.38h-4.88zM618.74 185.06h4.88v4.38h-4.88zM618.74 193.81h4.88v4.38h-4.88zM618.74 250.69h4.88v4.38h-4.88zM618.74 272.56h4.88v4.38h-4.88zM618.74 294.44h4.88v8.75h-4.88zM618.74 311.94h4.88v8.75h-4.88zM618.74 346.94h4.88v8.75h-4.88zM618.74 368.81h4.88v4.38h-4.88zM618.74 447.56h4.88v8.75h-4.88zM618.74 727.56h4.88v4.38h-4.88zM618.74 1165.06h4.88v4.38h-4.88zM618.74 1195.69h4.88v4.38h-4.88zM623.62 36.31h4.88v21.88h-4.88zM623.62 62.56h4.88v8.75h-4.88zM623.62 132.56h4.88v8.75h-4.88zM623.62 176.31h4.88v4.38h-4.88zM623.62 185.06h4.88v4.38h-4.88zM623.62 193.81h4.88v4.38h-4.88zM623.62 250.69h4.88v4.38h-4.88zM623.62 272.56h4.88v4.38h-4.88zM623.62 294.44h4.88v8.75h-4.88zM623.62 311.94h4.88v8.75h-4.88zM623.62 346.94h4.88v8.75h-4.88zM623.62 368.81h4.88v4.38h-4.88zM623.62 447.56h4.88v8.75h-4.88zM623.62 727.56h4.88v4.38h-4.88zM623.62 1195.69h4.88v8.75h-4.88zM628.51 36.31h4.88v21.88h-4.88zM628.51 62.56h4.88v8.75h-4.88zM628.51 132.56h4.88v8.75h-4.88zM628.51 176.31h4.88v4.38h-4.88zM628.51 185.06h4.88v4.38h-4.88zM628.51 193.81h4.88v4.38h-4.88zM628.51 250.69h4.88v4.38h-4.88zM628.51 272.56h4.88v8.75h-4.88zM628.51 294.44h4.88v8.75h-4.88zM628.51 311.94h4.88v8.75h-4.88zM628.51 346.94h4.88v8.75h-4.88zM628.51 368.81h4.88v4.38h-4.88zM628.51 447.56h4.88v8.75h-4.88zM628.51 473.81h4.88v4.38h-4.88zM628.51 727.56h4.88v4.38h-4.88zM628.51 797.56h4.88v8.75h-4.88zM628.51 823.81h4.88v8.75h-4.88zM628.51 836.94h4.88v4.38h-4.88zM628.51 889.44h4.88v4.38h-4.88zM628.51 985.69h4.88v30.62h-4.88zM628.51 1073.19h4.88v4.38h-4.88zM628.51 1112.56h4.88v4.38h-4.88zM628.51 1143.19h4.88v4.38h-4.88zM628.51 1169.44h4.88v8.75h-4.88zM628.51 1213.19h4.88v4.38h-4.88zM633.39 36.31h4.88v21.88h-4.88zM633.39 62.56h4.88v8.75h-4.88zM633.39 132.56h4.88v8.75h-4.88zM633.39 185.06h4.88v4.38h-4.88zM633.39 193.81h4.88v4.38h-4.88zM633.39 250.69h4.88v4.38h-4.88zM633.39 272.56h4.88v8.75h-4.88zM633.39 294.44h4.88v8.75h-4.88zM633.39 311.94h4.88v8.75h-4.88zM633.39 346.94h4.88v8.75h-4.88zM633.39 368.81h4.88v4.38h-4.88zM633.39 447.56h4.88v8.75h-4.88zM633.39 727.56h4.88v4.38h-4.88zM633.39 784.44h4.88v4.38h-4.88zM633.39 1200.06h4.88v4.38h-4.88zM633.39 1213.19h4.88v4.38h-4.88zM638.27 36.31h4.88v341.25h-4.88zM638.27 416.94h4.88v13.12h-4.88zM638.27 434.44h4.88v39.38h-4.88zM638.27 723.19h4.88v17.5h-4.88zM638.27 745.06h4.88v13.12h-4.88zM638.27 902.56h4.88v4.38h-4.88zM638.27 972.56h4.88v4.38h-4.88zM638.27 1081.94h4.88v4.38h-4.88zM638.27 1090.69h4.88v4.38h-4.88zM638.27 1217.56h4.88v21.88h-4.88zM643.16 36.31h4.88v17.5h-4.88zM643.16 84.44h4.88v4.38h-4.88zM643.16 132.56h4.88v8.75h-4.88zM643.16 185.06h4.88v4.38h-4.88zM643.16 193.81h4.88v4.38h-4.88zM643.16 250.69h4.88v4.38h-4.88zM643.16 272.56h4.88v4.38h-4.88zM643.16 311.94h4.88v4.38h-4.88zM643.16 368.81h4.88v4.38h-4.88zM643.16 473.81h4.88v4.38h-4.88zM643.16 797.56h4.88v8.75h-4.88zM643.16 810.69h4.88v4.38h-4.88zM643.16 828.19h4.88v4.38h-4.88zM643.16 906.94h4.88v4.38h-4.88zM643.16 924.44h4.88v4.38h-4.88zM643.16 985.69h4.88v4.38h-4.88zM643.16 1055.69h4.88v4.38h-4.88zM643.16 1073.19h4.88v4.38h-4.88zM643.16 1081.94h4.88v8.75h-4.88zM643.16 1099.44h4.88v4.38h-4.88zM643.16 1112.56h4.88v4.38h-4.88zM643.16 1143.19h4.88v4.38h-4.88zM648.04 36.31h4.88v17.5h-4.88zM648.04 132.56h4.88v8.75h-4.88zM648.04 185.06h4.88v4.38h-4.88zM648.04 193.81h4.88v4.38h-4.88zM648.04 250.69h4.88v4.38h-4.88zM648.04 272.56h4.88v4.38h-4.88zM648.04 311.94h4.88v4.38h-4.88zM648.04 368.81h4.88v4.38h-4.88zM652.92 36.31h4.88v91.88h-4.88zM652.92 132.56h4.88v253.75h-4.88zM652.92 399.44h4.88v26.25h-4.88zM652.92 438.81h4.88v35h-4.88zM652.92 723.19h4.88v17.5h-4.88zM652.92 745.06h4.88v13.12h-4.88zM652.92 806.31h4.88v56.88h-4.88zM652.92 885.06h4.88v70h-4.88zM652.92 963.81h4.88v30.62h-4.88zM652.92 1029.44h4.88v43.75h-4.88zM652.92 1077.56h4.88v30.62h-4.88zM652.92 1112.56h4.88v35h-4.88zM652.92 1217.56h4.88v26.25h-4.88zM652.92 1252.56h4.88v4.38h-4.88zM652.92 1270.06h4.88v21.88h-4.88zM657.8 36.31h4.88v91.88h-4.88zM657.8 132.56h4.88v253.75h-4.88zM657.8 403.81h4.88v21.88h-4.88zM657.8 438.81h4.88v35h-4.88zM657.8 723.19h4.88v17.5h-4.88zM657.8 745.06h4.88v13.12h-4.88zM657.8 801.94h4.88v39.38h-4.88zM657.8 889.44h4.88v30.62h-4.88zM657.8 928.81h4.88v4.38h-4.88zM657.8 950.69h4.88v4.38h-4.88zM657.8 972.56h4.88v4.38h-4.88zM657.8 985.69h4.88v4.38h-4.88zM657.8 1029.44h4.88v13.12h-4.88zM657.8 1046.94h4.88v4.38h-4.88zM657.8 1068.81h4.88v21.88h-4.88zM657.8 1112.56h4.88v4.38h-4.88zM657.8 1130.06h4.88v4.38h-4.88zM657.8 1138.81h4.88v8.75h-4.88zM657.8 1200.06h4.88v4.38h-4.88zM657.8 1217.56h4.88v30.62h-4.88zM657.8 1252.56h4.88v13.12h-4.88zM657.8 1270.06h4.88v26.25h-4.88zM662.69 1173.81h4.88v4.38h-4.88zM662.69 1195.69h4.88v4.38h-4.88zM667.57 36.31h4.88v4.38h-4.88zM667.57 1165.06h4.88v4.38h-4.88zM667.57 1213.19h4.88v4.38h-4.88zM672.45 845.69h4.88v4.38h-4.88zM672.45 994.44h4.88v8.75h-4.88z"/>
<path fill="#E6E6E6" d="M374.59 771.31h4.88v4.38h-4.88zM423.42 828.19h4.88v4.38h-4.88zM423.42 985.69h4.88v4.38h-4.88zM428.3 828.19h4.88v4.38h-4.88zM428.3 985.69h4.88v4.38h-4.88zM462.48 753.81h4.88v4.38h-4.88zM467.37 753.81h4.88v4.38h-4.88zM472.25 753.81h4.88v4.38h-4.88z"/>
<path fill="#808080" d="M428.3 1156.31h4.88v4.38h-4.88zM457.6 850.06h4.88v4.38h-4.88zM457.6 1033.81h4.88v8.75h-4.88zM457.6 1248.19h4.88v8.75h-4.88zM457.6 1261.31h4.88v21.88h-4.88zM457.6 1287.56h4.88v13.12h-4.88zM584.56 381.94h4.88v4.38h-4.88zM584.56 412.56h4.88v4.38h-4.88zM584.56 1029.44h4.88v13.12h-4.88zM584.56 1256.94h4.88v8.75h-4.88zM628.51 1151.94h4.88v4.38h-4.88zM652.92 1291.94h4.88v8.75h-4.88z"/>
<path fill="#3E8BEF" d="M369.71 806.31h4.88v8.75h-4.88zM413.65 911.31h4.88v8.75h-4.88zM452.72 36.31h4.88v341.25h-4.88zM457.6 1239.44h4.88v8.75h-4.88zM477.13 62.56h4.88v13.12h-4.88zM643.16 482.56h4.88v236.25h-4.88zM652.92 1243.81h4.88v8.75h-4.88zM652.92 1256.94h4.88v13.12h-4.88z"/>
<path fill="#7CF24A" d="M374.59 893.81h4.88v8.75h-4.88zM394.12 723.19h4.88v8.75h-4.88zM535.73 893.81h4.88v8.75h-4.88zM569.91 390.69h4.88v8.75h-4.88zM604.09 745.06h4.88v8.75h-4.88zM667.57 723.19h4.88v8.75h-4.88z"/>
<path fill="#EE4035" d="M496.67 819.44h4.88v70h-4.88zM496.67 893.81h4.88v8.75h-4.88zM496.67 906.94h4.88v175h-4.88zM496.67 1086.31h4.88v4.38h-4.88zM496.67 1095.06h4.88v205.62h-4.88zM525.96 797.56h4.88v30.62h-4.88zM525.96 836.94h4.88v148.75h-4.88zM525.96 990.06h4.88v83.12h-4.88zM525.96 1077.56h4.88v35h-4.88zM525.96 1116.94h4.88v183.75h-4.88zM584.56 850.06h4.88v4.38h-4.88zM584.56 1239.44h4.88v17.5h-4.88zM584.56 1265.69h4.88v35h-4.88zM623.62 955.06h4.88v8.75h-4.88z"/>
<path fill="#FDB338" d="M594.33 233.19h4.88v4.38h-4.88zM594.33 819.44h4.88v389.38h-4.88zM594.33 1213.19h4.88v87.5h-4.88zM657.8 1248.19h4.88v4.38h-4.88zM657.8 1265.69h4.88v4.38h-4.88zM657.8 1296.31h4.88v4.38h-4.88z"/>
<path class="bc" fill="#4FD022" d="M550.38 36.31h4.88v4.38h-4.88zM550.38 40.69h4.88v4.38h-4.88zM550.38 45.06h4.88v4.38h-4.88zM550.38 49.44h4.88v4.38h-4.88zM550.38 53.81h4.88v4.38h-4.88zM550.38 58.19h4.88v4.38h-4.88zM550.38 62.56h4.88v4.38h-4.88zM550.38 66.94h4.88v4.38h-4.88zM550.38 71.31h4.88v4.38h-4.88zM550.38 75.69h4.88v4.38h-4.88zM550.38 80.06h4.88v4.38h-4.88zM550.38 84.44h4.88v4.38h-4.88zM550.38 88.81h4.88v4.38h-4.88zM550.38 93.19h4.88v4.38h-4.88zM550.38 97.56h4.88v4.38h-4.88zM550.38 101.94h4.88v4.38h-4.88zM550.38 106.31h4.88v4.38h-4.88zM550.38 110.69h4.88v4.38h-4.88zM550.38 115.06h4.88v4.38h-4.88zM550.38 119.44h4.88v4.38h-4.88zM550.38 123.81h4.88v4.38h-4.88zM550.38 128.19h4.88v4.38h-4.88zM550.38 132.56h4.88v4.38h-4.88zM550.38 136.94h4.88v4.38h-4.88zM550.38 141.31h4.88v4.38h-4.88zM550.38 145.69h4.88v4.38h-4.88zM550.38 150.06h4.88v4.38h-4.88zM550.38 154.44h4.88v4.38h-4.88zM550.38 158.81h4.88v4.38h-4.88zM550.38 163.19h4.88v4.38h-4.88zM550.38 167.56h4.88v4.38h-4.88zM550.38 171.94h4.88v4.38h-4.88zM550.38 176.31h4.88v4.38h-4.88zM550.38 180.69h4.88v4.38h-4.88zM550.38 185.06h4.88v4.38h-4.88zM550.38 189.44h4.88v4.38h-4.88zM550.38 193.81h4.88v4.38h-4.88zM550.38 198.19h4.88v4.38h-4.88zM550.38 202.56h4.88v4.38h-4.88zM550.38 206.94h4.88v4.38h-4.88zM550.38 211.31h4.88v4.38h-4.88zM550.38 215.69h4.88v4.38h-4.88zM550.38 220.06h4.88v4.38h-4.88zM550.38 224.44h4.88v4.38h-4.88zM550.38 228.81h4.88v4.38h-4.88zM550.38 233.19h4.88v4.38h-4.88zM628.51 233.19h4.88v4.38h-4.88zM550.38 237.56h4.88v4.38h-4.88zM550.38 241.94h4.88v4.38h-4.88zM550.38 246.31h4.88v4.38h-4.88zM550.38 250.69h4.88v4.38h-4.88zM550.38 255.06h4.88v4.38h-4.88zM550.38 259.44h4.88v4.38h-4.88zM550.38 263.81h4.88v4.38h-4.88zM550.38 268.19h4.88v4.38h-4.88zM550.38 272.56h4.88v4.38h-4.88zM550.38 276.94h4.88v4.38h-4.88zM550.38 281.31h4.88v4.38h-4.88zM550.38 285.69h4.88v4.38h-4.88zM550.38 290.06h4.88v4.38h-4.88zM550.38 294.44h4.88v4.38h-4.88zM550.38 298.81h4.88v4.38h-4.88zM550.38 303.19h4.88v4.38h-4.88zM550.38 307.56h4.88v4.38h-4.88zM550.38 311.94h4.88v4.38h-4.88zM550.38 316.31h4.88v4.38h-4.88zM550.38 320.69h4.88v4.38h-4.88zM550.38 325.06h4.88v4.38h-4.88zM550.38 329.44h4.88v4.38h-4.88zM550.38 333.81h4.88v4.38h-4.88zM550.38 338.19h4.88v4.38h-4.88zM550.38 342.56h4.88v4.38h-4.88zM550.38 346.94h4.88v4.38h-4.88zM550.38 351.31h4.88v4.38h-4.88zM550.38 355.69h4.88v4.38h-4.88zM550.38 360.06h4.88v4.38h-4.88zM550.38 364.44h4.88v4.38h-4.88zM550.38 368.81h4.88v4.38h-4.88zM550.38 373.19h4.88v4.38h-4.88zM550.38 377.56h4.88v4.38h-4.88zM672.45 377.56h4.88v4.38h-4.88zM550.38 381.94h4.88v4.38h-4.88zM672.45 381.94h4.88v4.38h-4.88zM550.38 386.31h4.88v4.38h-4.88zM672.45 386.31h4.88v4.38h-4.88zM472.25 390.69h4.88v4.38h-4.88zM545.5 390.69h4.88v4.38h-4.88zM550.38 390.69h4.88v4.38h-4.88zM472.25 395.06h4.88v4.38h-4.88zM545.5 395.06h4.88v4.38h-4.88zM550.38 395.06h4.88v4.38h-4.88zM550.38 399.44h4.88v4.38h-4.88zM550.38 403.81h4.88v4.38h-4.88zM550.38 408.19h4.88v4.38h-4.88zM550.38 412.56h4.88v4.38h-4.88zM550.38 416.94h4.88v4.38h-4.88zM550.38 421.31h4.88v4.38h-4.88zM550.38 425.69h4.88v4.38h-4.88zM550.38 430.06h4.88v4.38h-4.88zM550.38 434.44h4.88v4.38h-4.88zM550.38 438.81h4.88v4.38h-4.88zM550.38 443.19h4.88v4.38h-4.88zM550.38 447.56h4.88v4.38h-4.88zM550.38 451.94h4.88v4.38h-4.88zM550.38 456.31h4.88v4.38h-4.88zM550.38 460.69h4.88v4.38h-4.88zM550.38 465.06h4.88v4.38h-4.88zM550.38 469.44h4.88v4.38h-4.88zM550.38 473.81h4.88v4.38h-4.88zM550.38 478.19h4.88v4.38h-4.88zM638.27 482.56h4.88v4.38h-4.88zM638.27 486.94h4.88v4.38h-4.88zM638.27 491.31h4.88v4.38h-4.88zM638.27 495.69h4.88v4.38h-4.88zM638.27 500.06h4.88v4.38h-4.88zM638.27 504.44h4.88v4.38h-4.88zM638.27 508.81h4.88v4.38h-4.88zM638.27 513.19h4.88v4.38h-4.88zM638.27 517.56h4.88v4.38h-4.88zM638.27 521.94h4.88v4.38h-4.88zM638.27 526.31h4.88v4.38h-4.88zM638.27 530.69h4.88v4.38h-4.88zM638.27 535.06h4.88v4.38h-4.88zM638.27 539.44h4.88v4.38h-4.88zM638.27 543.81h4.88v4.38h-4.88zM638.27 548.19h4.88v4.38h-4.88zM638.27 552.56h4.88v4.38h-4.88zM638.27 556.94h4.88v4.38h-4.88zM638.27 561.31h4.88v4.38h-4.88zM638.27 565.69h4.88v4.38h-4.88zM638.27 570.06h4.88v4.38h-4.88zM638.27 574.44h4.88v4.38h-4.88zM638.27 578.81h4.88v4.38h-4.88zM618.74 583.19h4.88v4.38h-4.88zM638.27 583.19h4.88v4.38h-4.88zM618.74 587.56h4.88v4.38h-4.88zM638.27 587.56h4.88v4.38h-4.88zM618.74 591.94h4.88v4.38h-4.88zM638.27 591.94h4.88v4.38h-4.88zM618.74 596.31h4.88v4.38h-4.88zM638.27 596.31h4.88v4.38h-4.88zM618.74 600.69h4.88v4.38h-4.88zM638.27 600.69h4.88v4.38h-4.88zM618.74 605.06h4.88v4.38h-4.88zM638.27 605.06h4.88v4.38h-4.88zM618.74 609.44h4.88v4.38h-4.88zM638.27 609.44h4.88v4.38h-4.88zM618.74 613.81h4.88v4.38h-4.88zM638.27 613.81h4.88v4.38h-4.88zM618.74 618.19h4.88v4.38h-4.88zM638.27 618.19h4.88v4.38h-4.88zM467.37 622.56h4.88v4.38h-4.88zM618.74 622.56h4.88v4.38h-4.88zM638.27 622.56h4.88v4.38h-4.88zM467.37 626.94h4.88v4.38h-4.88zM618.74 626.94h4.88v4.38h-4.88zM638.27 626.94h4.88v4.38h-4.88zM618.74 631.31h4.88v4.38h-4.88zM638.27 631.31h4.88v4.38h-4.88zM618.74 635.69h4.88v4.38h-4.88zM638.27 635.69h4.88v4.38h-4.88zM438.07 640.06h4.88v4.38h-4.88zM638.27 640.06h4.88v4.38h-4.88zM438.07 644.44h4.88v4.38h-4.88zM638.27 644.44h4.88v4.38h-4.88zM438.07 648.81h4.88v4.38h-4.88zM638.27 648.81h4.88v4.38h-4.88zM399.01 653.19h4.88v4.38h-4.88zM638.27 653.19h4.88v4.38h-4.88zM399.01 657.56h4.88v4.38h-4.88zM638.27 657.56h4.88v4.38h-4.88zM399.01 661.94h4.88v4.38h-4.88zM638.27 661.94h4.88v4.38h-4.88zM633.39 666.31h4.88v4.38h-4.88zM638.27 666.31h4.88v4.38h-4.88zM633.39 670.69h4.88v4.38h-4.88zM638.27 670.69h4.88v4.38h-4.88zM521.08 675.06h4.88v4.38h-4.88zM638.27 675.06h4.88v4.38h-4.88zM521.08 679.44h4.88v4.38h-4.88zM638.27 679.44h4.88v4.38h-4.88zM638.27 683.81h4.88v4.38h-4.88zM638.27 688.19h4.88v4.38h-4.88zM638.27 692.56h4.88v4.38h-4.88zM638.27 696.94h4.88v4.38h-4.88zM638.27 701.31h4.88v4.38h-4.88zM638.27 705.69h4.88v4.38h-4.88zM638.27 710.06h4.88v4.38h-4.88zM638.27 714.44h4.88v4.38h-4.88zM638.27 718.81h4.88v4.38h-4.88zM389.24 745.06h4.88v4.38h-4.88zM389.24 749.44h4.88v4.38h-4.88zM389.24 753.81h4.88v4.38h-4.88zM403.89 806.31h4.88v4.38h-4.88zM574.79 806.31h4.88v4.38h-4.88zM403.89 810.69h4.88v4.38h-4.88zM574.79 810.69h4.88v4.38h-4.88zM364.82 819.44h4.88v4.38h-4.88zM516.2 819.44h4.88v4.38h-4.88zM364.82 823.81h4.88v4.38h-4.88zM516.2 823.81h4.88v4.38h-4.88zM364.82 828.19h4.88v4.38h-4.88zM364.82 832.56h4.88v4.38h-4.88zM364.82 836.94h4.88v4.38h-4.88zM364.82 841.31h4.88v4.38h-4.88zM408.77 845.69h4.88v4.38h-4.88zM408.77 850.06h4.88v4.38h-4.88zM423.42 858.81h4.88v4.38h-4.88zM423.42 863.19h4.88v4.38h-4.88zM423.42 867.56h4.88v4.38h-4.88zM648.04 885.06h4.88v4.38h-4.88zM648.04 889.44h4.88v4.38h-4.88zM628.51 902.56h4.88v4.38h-4.88zM384.36 928.81h4.88v4.38h-4.88zM384.36 933.19h4.88v4.38h-4.88zM418.54 937.56h4.88v4.38h-4.88zM418.54 941.94h4.88v4.38h-4.88zM555.26 1112.56h4.88v4.38h-4.88zM506.43 1138.81h4.88v4.38h-4.88zM555.26 1239.44h4.88v4.38h-4.88zM506.43 1278.81h4.88v4.38h-4.88z"/>
<path class="bc" fill="#3079DE" d="M501.55 40.69h4.88v4.38h-4.88zM501.55 45.06h4.88v4.38h-4.88zM355.06 53.81h4.88v4.38h-4.88zM501.55 53.81h4.88v4.38h-4.88zM355.06 58.19h4.88v4.38h-4.88zM501.55 58.19h4.88v4.38h-4.88zM462.48 62.56h4.88v4.38h-4.88zM501.55 62.56h4.88v4.38h-4.88zM462.48 66.94h4.88v4.38h-4.88zM501.55 66.94h4.88v4.38h-4.88zM462.48 71.31h4.88v4.38h-4.88zM501.55 71.31h4.88v4.38h-4.88zM501.55 75.69h4.88v4.38h-4.88zM501.55 80.06h4.88v4.38h-4.88zM501.55 84.44h4.88v4.38h-4.88zM501.55 88.81h4.88v4.38h-4.88zM501.55 93.19h4.88v4.38h-4.88zM501.55 97.56h4.88v4.38h-4.88zM501.55 101.94h4.88v4.38h-4.88zM501.55 106.31h4.88v4.38h-4.88zM501.55 110.69h4.88v4.38h-4.88zM501.55 115.06h4.88v4.38h-4.88zM501.55 119.44h4.88v4.38h-4.88zM501.55 123.81h4.88v4.38h-4.88zM501.55 128.19h4.88v4.38h-4.88zM501.55 132.56h4.88v4.38h-4.88zM501.55 136.94h4.88v4.38h-4.88zM501.55 141.31h4.88v4.38h-4.88zM501.55 145.69h4.88v4.38h-4.88zM501.55 150.06h4.88v4.38h-4.88zM501.55 154.44h4.88v4.38h-4.88zM501.55 158.81h4.88v4.38h-4.88zM501.55 163.19h4.88v4.38h-4.88zM501.55 167.56h4.88v4.38h-4.88zM501.55 171.94h4.88v4.38h-4.88zM501.55 176.31h4.88v4.38h-4.88zM501.55 180.69h4.88v4.38h-4.88zM501.55 185.06h4.88v4.38h-4.88zM501.55 189.44h4.88v4.38h-4.88zM501.55 193.81h4.88v4.38h-4.88zM501.55 198.19h4.88v4.38h-4.88zM501.55 202.56h4.88v4.38h-4.88zM501.55 206.94h4.88v4.38h-4.88zM501.55 211.31h4.88v4.38h-4.88zM501.55 215.69h4.88v4.38h-4.88zM501.55 220.06h4.88v4.38h-4.88zM501.55 224.44h4.88v4.38h-4.88zM501.55 228.81h4.88v4.38h-4.88zM501.55 233.19h4.88v4.38h-4.88zM501.55 237.56h4.88v4.38h-4.88zM501.55 241.94h4.88v4.38h-4.88zM501.55 246.31h4.88v4.38h-4.88zM501.55 250.69h4.88v4.38h-4.88zM501.55 255.06h4.88v4.38h-4.88zM501.55 259.44h4.88v4.38h-4.88zM501.55 263.81h4.88v4.38h-4.88zM501.55 268.19h4.88v4.38h-4.88zM501.55 276.94h4.88v4.38h-4.88zM501.55 281.31h4.88v4.38h-4.88zM501.55 285.69h4.88v4.38h-4.88zM501.55 290.06h4.88v4.38h-4.88zM501.55 294.44h4.88v4.38h-4.88zM501.55 298.81h4.88v4.38h-4.88zM501.55 303.19h4.88v4.38h-4.88zM501.55 307.56h4.88v4.38h-4.88zM501.55 311.94h4.88v4.38h-4.88zM501.55 316.31h4.88v4.38h-4.88zM501.55 320.69h4.88v4.38h-4.88zM501.55 325.06h4.88v4.38h-4.88zM501.55 329.44h4.88v4.38h-4.88zM501.55 333.81h4.88v4.38h-4.88zM501.55 338.19h4.88v4.38h-4.88zM501.55 342.56h4.88v4.38h-4.88zM501.55 346.94h4.88v4.38h-4.88zM501.55 351.31h4.88v4.38h-4.88zM501.55 355.69h4.88v4.38h-4.88zM501.55 360.06h4.88v4.38h-4.88zM501.55 364.44h4.88v4.38h-4.88zM501.55 368.81h4.88v4.38h-4.88zM501.55 373.19h4.88v4.38h-4.88zM608.97 390.69h4.88v4.38h-4.88zM608.97 395.06h4.88v4.38h-4.88zM599.21 399.44h4.88v4.38h-4.88zM599.21 403.81h4.88v4.38h-4.88zM379.47 408.19h4.88v4.38h-4.88zM511.31 408.19h4.88v4.38h-4.88zM379.47 412.56h4.88v4.38h-4.88zM511.31 412.56h4.88v4.38h-4.88zM560.14 482.56h4.88v4.38h-4.88zM565.03 482.56h4.88v4.38h-4.88zM560.14 486.94h4.88v4.38h-4.88zM565.03 486.94h4.88v4.38h-4.88zM560.14 491.31h4.88v4.38h-4.88zM565.03 491.31h4.88v4.38h-4.88zM560.14 495.69h4.88v4.38h-4.88zM565.03 495.69h4.88v4.38h-4.88zM560.14 500.06h4.88v4.38h-4.88zM565.03 500.06h4.88v4.38h-4.88zM560.14 504.44h4.88v4.38h-4.88zM565.03 504.44h4.88v4.38h-4.88zM560.14 508.81h4.88v4.38h-4.88zM565.03 508.81h4.88v4.38h-4.88zM560.14 513.19h4.88v4.38h-4.88zM565.03 513.19h4.88v4.38h-4.88zM560.14 517.56h4.88v4.38h-4.88zM565.03 517.56h4.88v4.38h-4.88zM560.14 521.94h4.88v4.38h-4.88zM565.03 521.94h4.88v4.38h-4.88zM560.14 526.31h4.88v4.38h-4.88zM565.03 526.31h4.88v4.38h-4.88zM560.14 530.69h4.88v4.38h-4.88zM565.03 530.69h4.88v4.38h-4.88zM560.14 535.06h4.88v4.38h-4.88zM565.03 535.06h4.88v4.38h-4.88zM560.14 539.44h4.88v4.38h-4.88zM565.03 539.44h4.88v4.38h-4.88zM560.14 543.81h4.88v4.38h-4.88zM565.03 543.81h4.88v4.38h-4.88zM560.14 548.19h4.88v4.38h-4.88zM565.03 548.19h4.88v4.38h-4.88zM560.14 552.56h4.88v4.38h-4.88zM565.03 552.56h4.88v4.38h-4.88zM560.14 556.94h4.88v4.38h-4.88zM565.03 556.94h4.88v4.38h-4.88zM560.14 561.31h4.88v4.38h-4.88zM565.03 561.31h4.88v4.38h-4.88zM560.14 565.69h4.88v4.38h-4.88zM565.03 565.69h4.88v4.38h-4.88zM560.14 570.06h4.88v4.38h-4.88zM565.03 570.06h4.88v4.38h-4.88zM560.14 574.44h4.88v4.38h-4.88zM565.03 574.44h4.88v4.38h-4.88zM560.14 578.81h4.88v4.38h-4.88zM565.03 578.81h4.88v4.38h-4.88zM560.14 583.19h4.88v4.38h-4.88zM565.03 583.19h4.88v4.38h-4.88zM560.14 587.56h4.88v4.38h-4.88zM565.03 587.56h4.88v4.38h-4.88zM560.14 591.94h4.88v4.38h-4.88zM565.03 591.94h4.88v4.38h-4.88zM560.14 596.31h4.88v4.38h-4.88zM565.03 596.31h4.88v4.38h-4.88zM560.14 600.69h4.88v4.38h-4.88zM565.03 600.69h4.88v4.38h-4.88zM560.14 605.06h4.88v4.38h-4.88zM565.03 605.06h4.88v4.38h-4.88zM560.14 609.44h4.88v4.38h-4.88zM565.03 609.44h4.88v4.38h-4.88zM560.14 613.81h4.88v4.38h-4.88zM565.03 613.81h4.88v4.38h-4.88zM560.14 618.19h4.88v4.38h-4.88zM565.03 618.19h4.88v4.38h-4.88zM560.14 622.56h4.88v4.38h-4.88zM565.03 622.56h4.88v4.38h-4.88zM560.14 626.94h4.88v4.38h-4.88zM565.03 626.94h4.88v4.38h-4.88zM560.14 631.31h4.88v4.38h-4.88zM565.03 631.31h4.88v4.38h-4.88zM560.14 635.69h4.88v4.38h-4.88zM565.03 635.69h4.88v4.38h-4.88zM560.14 640.06h4.88v4.38h-4.88zM565.03 640.06h4.88v4.38h-4.88zM560.14 644.44h4.88v4.38h-4.88zM565.03 644.44h4.88v4.38h-4.88zM560.14 648.81h4.88v4.38h-4.88zM565.03 648.81h4.88v4.38h-4.88zM560.14 653.19h4.88v4.38h-4.88zM565.03 653.19h4.88v4.38h-4.88zM662.69 653.19h4.88v4.38h-4.88zM560.14 657.56h4.88v4.38h-4.88zM565.03 657.56h4.88v4.38h-4.88zM662.69 657.56h4.88v4.38h-4.88zM560.14 661.94h4.88v4.38h-4.88zM565.03 661.94h4.88v4.38h-4.88zM560.14 666.31h4.88v4.38h-4.88zM565.03 666.31h4.88v4.38h-4.88zM560.14 670.69h4.88v4.38h-4.88zM565.03 670.69h4.88v4.38h-4.88zM359.94 675.06h4.88v4.38h-4.88zM560.14 675.06h4.88v4.38h-4.88zM565.03 675.06h4.88v4.38h-4.88zM359.94 679.44h4.88v4.38h-4.88zM560.14 679.44h4.88v4.38h-4.88zM565.03 679.44h4.88v4.38h-4.88zM560.14 683.81h4.88v4.38h-4.88zM565.03 683.81h4.88v4.38h-4.88zM613.86 683.81h4.88v4.38h-4.88zM560.14 688.19h4.88v4.38h-4.88zM565.03 688.19h4.88v4.38h-4.88zM613.86 688.19h4.88v4.38h-4.88zM560.14 692.56h4.88v4.38h-4.88zM565.03 692.56h4.88v4.38h-4.88zM560.14 696.94h4.88v4.38h-4.88zM565.03 696.94h4.88v4.38h-4.88zM560.14 701.31h4.88v4.38h-4.88zM565.03 701.31h4.88v4.38h-4.88zM560.14 705.69h4.88v4.38h-4.88zM565.03 705.69h4.88v4.38h-4.88zM560.14 710.06h4.88v4.38h-4.88zM565.03 710.06h4.88v4.38h-4.88zM560.14 714.44h4.88v4.38h-4.88zM565.03 714.44h4.88v4.38h-4.88zM560.14 718.81h4.88v4.38h-4.88zM565.03 718.81h4.88v4.38h-4.88zM433.19 723.19h4.88v4.38h-4.88zM530.85 723.19h4.88v4.38h-4.88zM565.03 723.19h4.88v4.38h-4.88zM433.19 727.56h4.88v4.38h-4.88zM530.85 727.56h4.88v4.38h-4.88zM565.03 727.56h4.88v4.38h-4.88zM565.03 731.94h4.88v4.38h-4.88zM565.03 736.31h4.88v4.38h-4.88zM565.03 740.69h4.88v4.38h-4.88zM486.9 797.56h4.88v4.38h-4.88zM486.9 801.94h4.88v4.38h-4.88zM442.95 828.19h4.88v4.38h-4.88zM442.95 832.56h4.88v4.38h-4.88zM428.3 845.69h4.88v4.38h-4.88zM428.3 850.06h4.88v4.38h-4.88zM428.3 854.44h4.88v4.38h-4.88zM589.44 885.06h4.88v4.38h-4.88zM589.44 889.44h4.88v4.38h-4.88zM579.68 893.81h4.88v4.38h-4.88zM579.68 898.19h4.88v4.38h-4.88zM447.84 902.56h4.88v4.38h-4.88zM540.61 902.56h4.88v4.38h-4.88zM447.84 906.94h4.88v4.38h-4.88zM540.61 906.94h4.88v4.38h-4.88zM482.02 920.06h4.88v4.38h-4.88zM482.02 924.44h4.88v4.38h-4.88zM491.78 946.31h4.88v4.38h-4.88zM491.78 950.69h4.88v4.38h-4.88z"/>
<g class="m b" transform="rotate(0.03 516 668)">
<text x="356.15" y="40"> C   C      C  CC C             CC  C C   CC  C CT             C</text>
<text x="356.15" y="44.38"> C C        C  CC CC CC         CC  C C   CC  C CT  CC         C</text>
<text x="356.15" y="48.75"> C C C      C  CC CC C          CC  C C   CC  C CT  CC         C</text>
<text x="356.15" y="53.12"> C C C      C  CC CC C          CC  C C   CC  C CT             C</text>
<text x="356.15" y="57.5"> C C C      C  CC CC CC         CC  C C   CC  C CTC CC     C   C</text>
<text x="356.15" y="61.88"> C C C      C  CC CC CC         CC  C C   CC  C CTC CC   C C   C</text>
<text x="356.15" y="66.25">CC C C      C  CC CC C          CC  C C   CC  C CTC CC     C   C</text>
<text x="356.15" y="70.62">CC C C      C  CC CC C          CC  C C   CC  C CTC CC     C   C</text>
<text x="356.15" y="75">CC C C      C  CC CC C          CC  C C   CC  C CTC CC   C C   C</text>
<text x="356.15" y="79.38">CC C C      C  CC CC CC         CC  C C   CC  C CTC CC   C C   C</text>
<text x="356.15" y="83.75">CC C C      C  CC CC CC         CC  C C   CC  C CTC CC   C C   C</text>
<text x="356.15" y="88.12">CC C C      C  CC CC CC         CC  C C   CC  C CTC CC   C     C</text>
<text x="356.15" y="92.5">CC C C      C  CC CC CC         CC  C C   CC  C CTC CC   C C   C</text>
<text x="356.15" y="96.88">CC C C      C  CC CC CC         CC  C C   CC  C CTC CC   C C   C</text>
<text x="356.15" y="101.25">CC C C      C  CC CC CC         CC  C C   CC  C CTC CC   C C   C</text>
<text x="356.15" y="105.62">CC C C      C  CC CC CC         CC  C C   CC  C CTC CC   C C   C</text>
<text x="356.15" y="110">CC C C      C  CC CC CC         CC  C C   CC  C CTC CC   C C   C</text>
<text x="356.15" y="114.38">CC C C      C  CC CC CC         CC  C C   CC  C CTC CC   C C   C</text>
<text x="356.15" y="118.75">CC C C      C  CC CC CC         CC  C C   CC  C CTC CC   C C   C</text>
<text x="356.15" y="123.12">CC C C      C  CC CC CC         CC  C C   CC  C CTC CC   C C   C</text>
<text x="356.15" y="127.5">CC C C      C  CC CC CC         CC  C C   CC  C CTC CC   C C   C</text>
<text x="356.15" y="131.88">CC C C      C  CC CC CC         CC  C C   CC  C CTC CC   C C CTC</text>
<text x="356.15" y="136.25">CC C C      C  CC CC CC         CC  C C   CC  C CT  CC         C</text>
<text x="356.15" y="140.62">CC C C      C  CC CC C          CC  C C   CC  C CT  CC         C</text>
<text x="356.15" y="145">CC C C      C  CC CC CC         CC  C C   CC  C CT  CC   C C   C</text>
<text x="356.15" y="149.38">CC C C      C  CC CC CC         CC  C C   CC  C CTC CC   C C   C</text>
<text x="356.15" y="153.75">CC C C      C  CC CC CC         CC  C C   CC  C CTC CC   C C   C</text>
<text x="356.15" y="158.12">CC C C      C  CC CC CC         CC  C C   CC  C CTC CC   C C   C</text>
<text x="356.15" y="162.5">CC C C      C  CC CC CC         CC  C C   CC  C CTC CC   C C   C</text>
<text x="356.15" y="166.88">CC C C      C  CC CC CC         CC  C C   CC  C CTC CC   C C   C</text>
<text x="356.15" y="171.25">CC C C      C  CC CC CC         CC  C C   CC  C CTC CC   C C   C</text>
<text x="356.15" y="175.62">CC C C      C  CC CC CC         CC  C C   CC  C CTC CC   C C   C</text>
<text x="356.15" y="180">CC C C      C  CC CC CC         CC  C C   CC  C CT  CC   C C   C</text>
<text x="356.15" y="184.38">CC C C      C  CC CC CC         CC  C C   CC  C CTC CC   C C   C</text>
<text x="356.15" y="188.75"> C C C      C  CC CC C          CC  C C   CC  C CT  CC         C</text>
<text x="356.15" y="193.12">CC C C      C  CC CC CC         CC  C C   CC  C CTC CC   C C   C</text>
<text x="356.15" y="197.5">CC C C      C  CC CC CC         CC  C C   CC  C CT  CC         C</text>
<text x="356.15" y="201.88">CC C C      C  CC CC CC         CC  C C   CC  C CTC CC   C C   C</text>
<text x="356.15" y="206.25">CC C C      C  CC CC CC         CC  C C   CC  C CTC CC   C C   C</text>
<text x="356.15" y="210.62">CC C C      C  CC CC CC         CC  C C   CC  C CTC CC   C C   C</text>
<text x="356.15" y="215">CC C C      C  CC CC CC         CC  C C   CC  C CTC CC   C C   C</text>
<text x="356.15" y="219.38">CC C C      C  CC CC CC         CC  C C   CC  C CTC CC   C C   C</text>
<text x="356.15" y="223.75">CC C C      C  CC CC CC         CC  C C   CC  C CTC CC   C C   C</text>
<text x="356.15" y="228.12">CC C C      C  CC CC CC         CC  C C   CC  C CTC CC   C C   C</text>
<text x="356.15" y="232.5">CC C C      C  CC CC CC         CC  C C   CC  C CTC CC   C C   C</text>
<text x="356.15" y="236.88">CC C C      C  CC CC CC         CC  C C   CC  C C C CC   C C   C</text>
<text x="356.15" y="241.25">CC C C      C  CC CC CC         CC  C C   CC  C CTC CC   C C   C</text>
<text x="356.15" y="245.62">CC C C      C  CC CC CC         CC  C C   CC  C CTC CC   C C   C</text>
<text x="356.15" y="250">CC C C      C  CC CC CC         CC  C C   CC  C CTC CC   C C   C</text>
<text x="356.15" y="254.38">CC C C      C  CC CC CC         CC  C C   CC  C CTC CC         C</text>
<text x="356.15" y="258.75">CC C C      C  CC CC CC         CC  C C   CC  C CTC CC   C C   C</text>
<text x="356.15" y="263.12">CC C C      C  CC CC CC         CC  C C   CC  C CTC CC   C C   C</text>
<text x="356.15" y="267.5">CC C C      C  CC CC CC         CC  C C   CC  C CTC CC   C C   C</text>
<text x="356.15" y="271.88">CC C C      C  CC CC CC         CC  C C   CC  C CTC CC   C C   C</text>
<text x="356.15" y="276.25"> C   C      C  CC CC C          CC  C C   CC  C CT             C</text>
<text x="356.15" y="280.62">CC C C      C  CC CC CC         CC  C C   CC  C CTC CC     C   C</text>
<text x="356.15" y="285">CC C C      C  CC CC CC         CC  C C   CC  C CTC CC   C C   C</text>
<text x="356.15" y="289.38">CC C C      C  CC CC CC   CTC   CC  C C   CC  C CTC CC   C C   C</text>
<text x="356.15" y="293.75">CC C C      C  CC CC CC         CC  C C   CC  C CTC CC   C C   C</text>
<text x="356.15" y="298.12">CC C C      C  CC CC CC         CC  C C   CC  C CTC CC     C   C</text>
<text x="356.15" y="302.5">CC C C      C  CC CC CC         CC  C C   CC  C CTC CC     C   C</text>
<text x="356.15" y="306.88">CC C C      C  CC CC CC   CTC   CC  C C   CC  C CTC CC   C C   C</text>
<text x="356.15" y="311.25">CC C C      C  CC CC CC         CC  C C   CC  C CTC CC   C C   C</text>
<text x="356.15" y="315.62">CC C C      C  CC CC CC         CC  C C   CC  C CTC CC         C</text>
<text x="356.15" y="320">CC C C      C  CC CC CC         CC  C C   CC  C CTC CC     C   C</text>
<text x="356.15" y="324.38">CC C C      C  CC CC CC   CTC   CC  C C   CC  C CTC CC   C C   C</text>
<text x="356.15" y="328.75">CC C C      C  CC CC CC         CC  C C   CC  C CTC CC   C C   C</text>
<text x="356.15" y="333.12">CC C C      C  CC CC CC         CC  C C   CC  C CTC CC   C C   C</text>
<text x="356.15" y="337.5">CC C C      C  CC CC CC         CC  C C   CC  C CTC CC   C C   C</text>
<text x="356.15" y="341.88">CC C C      C  CC CC CC         CC  C C   CC  C CTC CC   C C   C</text>
<text x="356.15" y="346.25">CC C C      C  CC CC CC         CC  C C   CC  C CTC CC   C C   C</text>
<text x="356.15" y="350.62">CC C C      C  CC CC CC         CC  C C   CC  C CTC CC     C   C</text>
<text x="356.15" y="355">CC C C      C  CC CC CC         CC  C C   CC  C CTC CC     C   C</text>
<text x="356.15" y="359.38">CC C C      C  CC CC CC         CC  C C   CC  C CTC CC   C C   C</text>
<text x="356.15" y="363.75">CC C C      C  CC CC CC         CC  C C   CC  C CTC CC   C C   C</text>
<text x="356.15" y="368.12">CC C C      C  CC CC CC         CC  C C   CC  C CTC CC   C C   C</text>
<text x="356.15" y="372.5"> C C C      C  CC CC CC         CC  C C   CC  C CT  CC         C</text>
<text x="356.15" y="376.88">CC C C      C  CC CC CC         CC  C C   CC  C CTC CC   C C   C</text>
<text x="356.15" y="381.25">CC C C      C  CC CCCC    CTC C CC  C C   CC  C CTC CC   C C   C</text>
<text x="356.15" y="385.62">CC C C      C  CC CCCC    CTC C CC  C C   CC  C CTC CC   C C   C</text>
<text x="356.15" y="390">CC C C      C  CC C CCC   CTC C CC  C C   CC  C CTC CC   C C CTC</text>
<text x="356.15" y="394.38">CC C C      C  CC CCCCC   CTC C CC  C C   CC  C CTC  C   C C CTC</text>
<text x="356.15" y="398.75">CC C C      C  CC CCCCC   CTC C CC  C C   CC  C CTC  C   C C CTC</text>
<text x="356.15" y="403.12">CC C C      C  CC CCCCC   CTC C CC  C C   CC  C CT  CC   C C  TC</text>
<text x="356.15" y="407.5">CC C C      C  CC CCCCC   CTC C CC  C C   CC  C CT  CC   C C   C</text>
<text x="356.15" y="411.88">CC C        C  CC CCCC    CTC C  C  C C   CC  C CTC CC   C C   C</text>
<text x="356.15" y="416.25">CC C        C  CC CCCC    CTC C  C  C C   CC  C CTC CC   C C   C</text>
<text x="356.15" y="420.62">CC C C      C  CC CCCCC       C CC  C C   CC  C CTC CC   C C   C</text>
<text x="356.15" y="425">CC C C      C  CC CCCCC       C CC  C C   CC  C CTC CC   C C   C</text>
<text x="356.15" y="429.38">CC C C      C  CC CCCCC       C CC  C C   CC  C CTC CC   C C CTC</text>
<text x="356.15" y="433.75">CC C C      C  CC CCCCC   CTC C CC  C C   CC  C CTC CC   C C CTC</text>
<text x="356.15" y="438.12">CC C C      C  CC CCCCC       C CC  C C   CC  C CTC CC   C C CTC</text>
<text x="356.15" y="442.5">CC C C      C  CC CCCCC       C CC  C C   CC  C CTC CC   C C   C</text>
<text x="356.15" y="446.88">CC C C      C  CC CCCCC       C CC  C C   CC  C CTC CC   C C   C</text>
<text x="356.15" y="451.25">CC C C      C  CC CCCCC       C CC  C C   CC  C CTC CC     C   C</text>
<text x="356.15" y="455.62">CC C C      C  CC CCCCC       C CC  C C   CC  C CTC CC     C   C</text>
<text x="356.15" y="460">CC C C      C  CC CCCCC       C CC  C C   CC  C CTC CC   C C   C</text>
<text x="356.15" y="464.38">CC C C      C  CC CCCCC       C CC  C C   CC  C CTC CC   C C   C</text>
<text x="356.15" y="468.75">CC C C      C  CC CCCCC       C CC  C C   CC  C CTC CC   C C   C</text>
<text x="356.15" y="473.12">CC C C      C  CC CCCCC       C CC  C C   CC  C CTC CC   C C   C</text>
<text x="356.15" y="477.5"> C C C      C  CC CCCCC   CTC C CC  C C   CC  C CTC CC   C   CTC</text>
<text x="356.15" y="481.88">CC C C      C  CC CCCCC   CTC C CC  C C   CC  C CTC CC   C C CTC</text>
<text x="356.15" y="486.25">CC C C      C  CC CCCCC   CTC C CC  C C       C CTC CC   C   CTC</text>
<text x="356.15" y="490.62">CC C C      C  CC CCCCC   CTC C CC  C C       C CTC CC   C   CTC</text>
<text x="356.15" y="495">CC C C      C  CC CCCCC   CTC C CC  C C       C CTC CC   C   CTC</text>
<text x="356.15" y="499.38">CC C C      C  CC CCCCC   CTC C CC  C C       C CTC CC   C   CTC</text>
<text x="356.15" y="503.75">CC C C      C  CC CCCCC   CTC C CC  C C       C CTC CC   C   CTC</text>
<text x="356.15" y="508.12">CC C C      C  CC CCCCC   CTC C CC  C C       C CTC CC   C   CTC</text>
<text x="356.15" y="512.5">CC C C      C  CC CCCCC   CTC C CC  C C       C CTC CC   C   CTC</text>
<text x="356.15" y="516.88">CC C C      C  CC CCCCC   CTC C CC  C C       C CTC CC   C   CTC</text>
<text x="356.15" y="521.25">CC C C      C  CC CCCCC   CTC C CC  C C       C CTC CC   C   CTC</text>
<text x="356.15" y="525.62">CC C C      C  CC CCCCC   CTC C CC  C C       C CTC CC   C   CTC</text>
<text x="356.15" y="530">CC C C      C  CC CCCCC   CTC C CC  C C       C CTC CC   C   CTC</text>
<text x="356.15" y="534.38">CC C C      C  CC CCCCC   CTC C CC  C C       C CTC CC   C   CTC</text>
<text x="356.15" y="538.75">CC C C      C  CC CCCCC   CTC C CC  C C       C CTC CC   C   CTC</text>
<text x="356.15" y="543.12">CC C C      C  CC CCCCC   CTC C CC  C C       C CTC CC   C   CTC</text>
<text x="356.15" y="547.5">CC C C      C  CC CCCCC   CTC C CC  C C       C CTC CC   C   CTC</text>
<text x="356.15" y="551.88">CC C C      C  CC CCCCC   CTC C CC  C C       C CTC CC   C   CTC</text>
<text x="356.15" y="556.25">CC C C      C  CC CCCCC   CTC C CC  C C       C CTC CC   C   CTC</text>
<text x="356.15" y="560.62">CC C C      C  CC CCCCC   CTC C CC  C C       C CTC CC   C   CTC</text>
<text x="356.15" y="565">CC C C      C  CC CCCCC   CTC C CC  C C       C CTC CC   C   CTC</text>
<text x="356.15" y="569.38">CC C C      C  CC CCCCC   CTC C CC  C C       C CTC CC   C   CTC</text>
<text x="356.15" y="573.75">CC C C      C  CC CCCCC   CTC C CC  C C       C CTC CC   C   CTC</text>
<text x="356.15" y="578.12">CC C C      C  CC CCCCC   CTC C CC  C C       C CTC CC   C   CTC</text>
<text x="356.15" y="582.5">CC C C      C  CC CCCCC   CTC C CC  C C       C CTC CC   C   CTC</text>
<text x="356.15" y="586.88">CC C C      C  CC CCCCC   CTC C CC  C C       C CTC CC   C   CTC</text>
<text x="356.15" y="591.25">CC C C      C  CC CCCCC   CTC C CC  C C       C CTC CC   C   CTC</text>
<text x="356.15" y="595.62">CC C C      C  CC CCCCC   CTC C CC  C C       C CTC CC   C   CTC</text>
<text x="356.15" y="600">CC C C      C  CC CCCCC   CTC C CC  C C       C CTC CC   C   CTC</text>
<text x="356.15" y="604.38">CC C C      C  CC CCCCC   CTC C CC  C C       C CTC CC   C   CTC</text>
<text x="356.15" y="608.75">CC C C      C  CC CCCCC   CTC C CC  C C       C CTC CC   C   CTC</text>
<text x="356.15" y="613.12">CC C C      C  CC CCCCC   CTC C CC  C C       C CTC CC   C   CTC</text>
<text x="356.15" y="617.5">CC C C      C  CC CCCCC   CTC C CC  C C       C CTC CC   C   CTC</text>
<text x="356.15" y="621.88">CC C C      C  CC CCCCC   CTC C CC  C C       C CTC CC   C   CTC</text>
<text x="356.15" y="626.25">CC C C      C  CC CCCCC   CTC C CC  C C       C CTC CC   C   CTC</text>
<text x="356.15" y="630.62">CC C C      C  CC CCCCC   CTC C CC  C C       C CTC CC   C   CTC</text>
<text x="356.15" y="635">CC C C      C  CC CCCCC   CTC C CC  C C       C CTC CC   C   CTC</text>
<text x="356.15" y="639.38">CC C C      C  CC CCCCC   CTC C CC  C C       C CTC CC   C   CTC</text>
<text x="356.15" y="643.75">CC C C      C  CC CCCCC   CTC C CC  C C       C CTC CC   C   CTC</text>
<text x="356.15" y="648.12">CC C C      C  CC CCCCC   CTC C CC  C C       C CTC CC   C   CTC</text>
<text x="356.15" y="652.5">CC C C      C  CC CCCCC   CTC C CC  C C       C CTC CC   C   CTC</text>
<text x="356.15" y="656.88">CC C C      C  CC CCCCC   CTC C CC  C C       C CTC CC   C   CT</text>
<text x="356.15" y="661.25">CC C C      C  CC CCCCC   CTC C CC  C C       C CTC CC   C   CT</text>
<text x="356.15" y="665.62">CC C C      C  CC CCCCC   CTC C CC  C C       C CTC CC   C   CTC</text>
<text x="356.15" y="670">CC C C      C  CC CCCCC   CTC C CC  C C       C CTC CC       CTC</text>
<text x="356.15" y="674.38">CC C C      C  CC CCCCC   CTC C CC  C C       C CTC CC       CTC</text>
<text x="356.15" y="678.75">C  C C      C  CC CCCCC   CTC C CC  C C       C CTC CC   C   CTC</text>
<text x="356.15" y="683.12">C  C C      C  CC CCCCC   CTC C CC  C C       C CTC CC   C   CTC</text>
<text x="356.15" y="687.5">CC C C      C  CC CCCCC   CTC C CC  C C       C CTC C    C   CTC</text>
<text x="356.15" y="691.88">CC C C      C  CC CCCCC   CTC C CC  C C       C CTC C    C   CTC</text>
<text x="356.15" y="696.25">CC C C      C  CC CCCCC   CTC C CC  C C       C CTC CC   C   CTC</text>
<text x="356.15" y="700.62">CC C C      C  CC CCCCC   CTC C CC  C C       C CTC CC   C   CTC</text>
<text x="356.15" y="705">CC C C      C  CC CCCCC   CTC C CC  C C       C CTC CC   C   CTC</text>
<text x="356.15" y="709.38">CC C C      C  CC CCCCC   CTC C CC  C C       C CTC CC   C   CTC</text>
<text x="356.15" y="713.75">CC C C      C  CC CCCCC   CTC C CC  C C       C CT  CC   C   CTC</text>
<text x="356.15" y="718.12">CC C C      C  CC CCCCC   CTC C CC  C C       C CTC CC   C   CTC</text>
<text x="356.15" y="722.5">CC C C      C  CC CCCCC   CTC C CC  C C       C CTC CC   C C CTC</text>
<text x="356.15" y="726.88">CC C C      C  C  CCCCC       C CC    C   C   C CTC CC   C C   C</text>
<text x="356.15" y="731.25">CC C C      C  C  CCCCC       C CC    C   C   C CTC CC     C   C</text>
<text x="356.15" y="735.62">CC C C      C  CC CCCCC       C CC  C C   C   C CTC CC   C C   C</text>
<text x="356.15" y="740">CC C C      C  CC CCCCC       C CC  C C   C   C CTC CC   C C   C</text>
<text x="356.15" y="744.38">CC C C      C  CC CCCCC   CTC C CC  C C   C   C CTC CC   C C CTC</text>
<text x="356.15" y="748.75">CC C C      C  CC CCCCC       C CC  C C   CC  C CTC CC   C C   C</text>
<text x="356.15" y="753.12">CC C C      C  CC CCCCC       C CC  C C   CC  C CTC CC   C C   C</text>
<text x="356.15" y="757.5">CC C C      C  CC CCCC        C CC  C C   CC  C CTC CC   C C   C</text>
<text x="356.15" y="761.88">CC C C      C  CC CCCCC   CTC C CC  C C   CC  C CTC CC   C C CTC</text>
<text x="356.15" y="766.25">CC C C      C  CC CCCCC   CTC C CC  C C   CC  C CTC CC   C C CTC</text>
<text x="356.15" y="770.62">CC C C      C  CC CCCCC   CTC C CC  C C   CC  C CTC CC   C C CTC</text>
<text x="356.15" y="775">CC C C      C  CC CCCCC   CTC C CC  C C   CC  C CTC CC   C C CTC</text>
<text x="356.15" y="779.38">CC C C      C  CC CCCCC   CTC C CC  C C   CC  C CTC CC   C C CTC</text>
<text x="356.15" y="783.75">CC C C      C  CC CCCCC   CTC C CC  C C   CC  C CTC CC   C C CTC</text>
<text x="356.15" y="788.12">CC C C      C  CC CCCCC   CTC C CC  C C   CC  C CT  CC     C CTC</text>
<text x="356.15" y="792.5">CC C C      C  CC CCCCC   CTC C CC  C C   CC  C CTC CC   C C CTC</text>
<text x="356.15" y="796.88">CC C C      C  CC CCCCC   CTC C CC  C C   CC  C CTC CC   C C CTC</text>
<text x="356.15" y="801.25"> C C C      C  CC CCCCC   C C C CC  C C   CC  C CTC CC   C   CTC</text>
<text x="356.15" y="805.62"> C C C      C  CC CCCCC   C C C CC  C C   CC  C CTC CC   C   C C</text>
<text x="356.15" y="810">CC   C      C  CC CCCCC   CTC C CC  C C   CC  C CTC CC   C C   C</text>
<text x="356.15" y="814.38"> C   C      C  CC CCCCC   CTC C CC  C C   CC  C CTC CC   C     C</text>
<text x="356.15" y="818.75">CC C C      C  CC CCCCC   CTC C CC  C C   CC  C CTC CC   C C   C</text>
<text x="356.15" y="823.12">CC C C      C  CC CCCCC   CTC C C   C C   CC  C C C CC   C C   C</text>
<text x="356.15" y="827.5">CC C C      C  CC CCCCC   CTC C C   C C   CC  C C C CC   C C   C</text>
<text x="356.15" y="831.88">CC C C      C   C  CCCC   CTC C CC  C C   CC  C C   CC   C     C</text>
<text x="356.15" y="836.25">CC C C      C  CC  CCCC   CTC C CC  C C   CC  C C C CC   C C   C</text>
<text x="356.15" y="840.62">CC C C      C  CC CCCCC   CTC C CC  C C   CC  C C C CC   C C   C</text>
<text x="356.15" y="845">CC C C      C  CC CCCCC   CTC C CC  C C   CC  C C C CC   C C  TC</text>
<text x="356.15" y="849.38">CC C C      C   C CCCCC   CTC C CC  C C   CC    C   CC   C C  TC</text>
<text x="356.15" y="853.75">CC C C      C   C CCC     CTC C CC  C C   CC  C C C CC   C C  TC</text>
<text x="356.15" y="858.12">CC C C      C   C CCCCC   CTC C CC  C C   CC  C C C CC   C C  TC</text>
<text x="356.15" y="862.5"> C C C      C  CC CCCCC   CTC C CC  C C   CC  C C C CC   C C  TC</text>
<text x="356.15" y="866.88">CC C C      C  CC CCCCC   CTC C CC  C C   CC  C C C CC   C C CTC</text>
<text x="356.15" y="871.25">CC C C      C  CC CCCCC   CTC C CC  C C   CC  C C C CC   C C CTC</text>
<text x="356.15" y="875.62">CC C C      C  CC CCCCC   CTC C CC  C C   CC  C C C CC   C C CTC</text>
<text x="356.15" y="880">CC C C      C  CC CCCCC   CTC C CC  C C   CC  C C C CC   C C CTC</text>
<text x="356.15" y="884.38">CC C C      C  CC CCCCC   CTC C CC  C C   CC  C C C CC   C C CTC</text>
<text x="356.15" y="888.75">CC C C      C  CC CCCCC   CTC C CC  C C   CC  C   C CC   C C  TC</text>
<text x="356.15" y="893.12">CC C C      C  CC CCCCC   CTC C CC  C C   CC  C   C CC   C C   C</text>
<text x="356.15" y="897.5">CC C C      C  CC CCCCC   CTC C CC  C C   CC    C C CC   C C   C</text>
<text x="356.15" y="901.88">CC C C      C  CC CCCCC   CTC C CC  C C   CC    C C CC   C C   C</text>
<text x="356.15" y="906.25">CC C C      C  CC C CCC       C CC  C     CC  C C C CC   C C   C</text>
<text x="356.15" y="910.62"> C C C      C  CC C CCC   CTC C CC  C     CC  C C C CC   C     C</text>
<text x="356.15" y="915">CC C C         CC CCCCC   CTC C CC  C C   CC  C C C CC   C C   C</text>
<text x="356.15" y="919.38">CC C C         CC CCCCC   CTC C CC  C C   CC  C C C CC   C C   C</text>
<text x="356.15" y="923.75"> C C C      C  CC CCCCC    TC C CC  C C   CC  C C C CC   C C  TC</text>
<text x="356.15" y="928.12"> C C C      C  CC CCCCC    TC C CC  C C   CC  C C C CC   C    TC</text>
<text x="356.15" y="932.5">CC C C      C  CC CCCCC   CTC C CC  C C   CC  C C C CC   C C   C</text>
<text x="356.15" y="936.88">CC C C      C  CC CCCCC   CTC C CC  C C   CC  C C C CC   C C  TC</text>
<text x="356.15" y="941.25">CC C C      C  CC CCCCC   CTC C CC  C C   CC  C C C CC   C C  TC</text>
<text x="356.15" y="945.62">CC C C      C  CC CCCCC   CTC C CC  C C   CC  C C C CC   C C  TC</text>
<text x="356.15" y="950">CC C C      C  CC CCCCC   CT  C CC  C C   CC  C C C CC   C C  TC</text>
<text x="356.15" y="954.38">CC C C      C  CC CCCCC   CT  C CC  C C   CC  C C C CC   C C   C</text>
<text x="356.15" y="958.75">CC C C      C  CC CCCCC   CTC C CC  C C   CC  C C C CC   C C CTC</text>
<text x="356.15" y="963.12">CC C C      C  CC CCCCC   CTC C CC  C C   CC  C C C CC   C C CTC</text>
<text x="356.15" y="967.5">CC C C      C  CC CCCCC   CTC C CC  C C   CC  C C C CC   C C  TC</text>
<text x="356.15" y="971.88"> C C C      C  CC CCCCC   CTC C CC  C C   CC  C C C CC   C C  TC</text>
<text x="356.15" y="976.25">CC C C      C  CC CCCCC   CTC C CC  C C   CC  C C C CC   C C   C</text>
<text x="356.15" y="980.62">CC C C      C  CC CCCCC   CTC C CC  C C   CC  C C C CC   C C  TC</text>
<text x="356.15" y="985">CC C C      C  CC CCCCC   CTC C CC  C C   CC  C C C CC   C C  TC</text>
<text x="356.15" y="989.38">CC C C      C   C CCCCC   CTC C CC  C C   CC  C C   CC   C     C</text>
<text x="356.15" y="993.75">CC C C      C  CC CCCCC   CTC C CC  C C   CC  C C C CC   C C  TC</text>
<text x="356.15" y="998.12">CC C C      C  CC CCCCC   CTC C CC  C C   CC    C C CC   C C CTC</text>
<text x="356.15" y="1002.5">CC C C      C  CC CCCCC   CTC C CC  C C   CC    C C CC   C C CTC</text>
<text x="356.15" y="1006.88">CC C C      C  CC CCCCC   CTC C CC  C C   CC  C C C CC   C C CTC</text>
<text x="356.15" y="1011.25">CC C C      C  CC CCCCC   CTC C CC  C C   CC  C C C CC   C C CTC</text>
<text x="356.15" y="1015.62">CC C C      C  CC CCCCC   CTC C CC  C C   CC  C C C CC   C C CTC</text>
<text x="356.15" y="1020">CC C C      C  CC CCCCC   CTC C CC  C C   CC  C C C CC   C C CTC</text>
<text x="356.15" y="1024.38">CC C C      C  CC CCCCC   CTC C CC  C C   CC  C C C CC   C C CTC</text>
<text x="356.15" y="1028.75">CC C C      C  CC CCCCC   CTC C CC  C C   CC  C C C CC   C C CTC</text>
<text x="356.15" y="1033.12">CC C C      C  CC CCCC    CTC C CC  C C   CC  C C C CC   C C   C</text>
<text x="356.15" y="1037.5">CC C C      C  CC CCC     CTC C CC  C C   CC  C C C CC   C C   C</text>
<text x="356.15" y="1041.88">CC C C      C  CC CCC     CTC C CC  C C   CC  C C C CC   C C   C</text>
<text x="356.15" y="1046.25">CC C C      C  CC CCCCC   CTC C CC  C C   CC  C C C CC   C C  TC</text>
<text x="356.15" y="1050.62">CC C C      C  CC CCCCC   CTC C CC  C C   CC  C C C CC   C C   C</text>
<text x="356.15" y="1055">CC C C      C  CC CCCCC   CTC C CC  C C   CC  C C C CC   C C  TC</text>
<text x="356.15" y="1059.38"> C C C      C  CC CCCCC   CTC C CC  C C   CC  C C C CC   C    TC</text>
<text x="356.15" y="1063.75">CC C C      C  CC CCCCC   CTC C CC  C C   CC  C C C CC   C C  TC</text>
<text x="356.15" y="1068.12">CC C C      C  CC CCCCC   CTC C CC  C C   CC  C C C CC   C C  TC</text>
<text x="356.15" y="1072.5">CC C C      C  CC CCCCC   CTC C CC  C C   CC  C C C CC   C C   C</text>
<text x="356.15" y="1076.88"> C C C      C   C CCCCC   CTC C CC  C C   CC  C C C CC   C   C C</text>
<text x="356.15" y="1081.25">CC C C      C  CC CCCCC   CTC C CC  C C   CC  C C C CC   C C   C</text>
<text x="356.15" y="1085.62">CC C C      C  CC CCCCC       C CC  C C   CC  C C C CC   C     C</text>
<text x="356.15" y="1090">CC C C      C  CC CCCCC   CTC C CC  C C   CC  C C C CC   C     C</text>
<text x="356.15" y="1094.38">CC C C      C  CC CCCCC       C CC  C C   CC  C C C CC   C C  TC</text>
<text x="356.15" y="1098.75">CC C C      C  CC CCCCC   CTC C CC  C C   CC  C C C CC   C C  TC</text>
<text x="356.15" y="1103.12"> C C C      C  CC CCCCC   CTC C CC  C C   CC  C C C CC   C    TC</text>
<text x="356.15" y="1107.5">CC C C      C  CC CCCCC   CTC C CC  C C   CC  C C C CC   C C  TC</text>
<text x="356.15" y="1111.88">CC C C      C  CC CCCCC   CTC C CC  C C   CC  C C C CC   C C CTC</text>
<text x="356.15" y="1116.25"> C C C      C   C CCCCC   CTC C  C  C C   CC  C C C CC   C     C</text>
<text x="356.15" y="1120.62"> C C C      C  CC CCCCC   CTC C CC  C C   CC  C C C CC   C C  TC</text>
<text x="356.15" y="1125">CC C C      C  CC CCCCC   CTC C CC  C C   CC  C C C CC   C C  TC</text>
<text x="356.15" y="1129.38">CC C C      C  CC CCCCC   CTC C CC  C C   CC  C C C CC   C C  TC</text>
<text x="356.15" y="1133.75">CC C C      C  CC CCCCC   CTC C CC  C C   CC  C C C CC   C C   C</text>
<text x="356.15" y="1138.12"> C C C      C  CC CCCCC   CTC C CC  C C   CC  C C C CC   C C  TC</text>
<text x="356.15" y="1142.5">CC C C      C  CC CCCCC   CTC C CC  C C   CC  C C C CC   C C   C</text>
<text x="356.15" y="1146.88">CC C C      C  CC CCCC    CTC C CC  C C   CC  C C C CC   C     C</text>
<text x="356.15" y="1151.25">CC C C      C  C  CCCCC   CTC C CC  C C   CC  C C C CC   C C CTC</text>
<text x="356.15" y="1155.62"> C C C      C   C CCCCC   CTC   CC  C C   CC  C C C CC   C C CTC</text>
<text x="356.15" y="1160">CC C C      C   C CCCCC   CTC C CC  C C   CC  C C C CC   C C CTC</text>
<text x="356.15" y="1164.38">CC C C      C  CC CCCCC   CTC C CC  C C   CC  C C C CC   C C CTC</text>
<text x="356.15" y="1168.75">CC C C         CC CCCCC   CTC C C   C C   CC  C C C CC   C C CTC</text>
<text x="356.15" y="1173.12">CC C C      C  CC CCCCC   CTC   CC  C C   CC  C C C CC   C C CTC</text>
<text x="356.15" y="1177.5">CC C        C  CC C CCC   C C   C   C C   CC  C   C CC   C C CT</text>
<text x="356.15" y="1181.88">CC C C      C  CC CCCCC   CTC C CC  C C   CC  C C C CC   C C CTC</text>
<text x="356.15" y="1186.25">CC C C      C  CC CCCCC   CTC C CC  C C   CC  C C C CC   C C CTC</text>
<text x="356.15" y="1190.62">CC C C      C  CC CCCCC   CTC C CC  C C   CC  C C C CC   C C CTC</text>
<text x="356.15" y="1195">CC C C      C  CC CCCCC   CTC C CC  C C   CC  C C C CC   C C CTC</text>
<text x="356.15" y="1199.38">CC C C      C  CC CC CC   CTC C C   C C   CC    C C CC   C C CT</text>
<text x="356.15" y="1203.75">CC C C      C  CC CCCCC   CTC   CC  C C   CC  C C C  C     C C C</text>
<text x="356.15" y="1208.12">CC C C      C  CC CCCCC   CTC C CC  C C   CC  C C C CC   C C CTC</text>
<text x="356.15" y="1212.5">CC C C      C  C  CCCCC   CTC C CC  C C   CC  C   C CC   C C CTC</text>
<text x="356.15" y="1216.88">CC C C      C  CC CCCCC   CTC C CC  C C   CC  C C C CC     C CTC</text>
<text x="356.15" y="1221.25">CC C C      C  CC CCCCC   CTC C CC  C C   CC  C C C CC   C C   C</text>
<text x="356.15" y="1225.62">CC C C      C  CC CCCCC   CT  C CC  C C   CC  C C C CC   C C   C</text>
<text x="356.15" y="1230">CC C C      C  CC CCCCC   CT  C CC  C C   CC  C C C CC   C C   C</text>
<text x="356.15" y="1234.38">CC C C      C  CC CCCCC   CT  C CC  C C   CC  C C C CC   C C   C</text>
<text x="356.15" y="1238.75">CC C C      C  CC CCCCC       C CC  C C   CC  C C C CC   C C   C</text>
<text x="356.15" y="1243.12">CC C C      C  CC CCC     CTC C CC  C C   CC  C C C CC   C C   C</text>
<text x="356.15" y="1247.5">CC C C      C  CC CCC     CTC C CC  C C   CC  C C C CC   C C   C</text>
<text x="356.15" y="1251.88">CC C C      C  CC CCC     CTC C CC  C C   CC  C C C CC   C C   C</text>
<text x="356.15" y="1256.25">CC C C      C  CC CCC     CTC C CC  C C   CC  C C C CC   C C   C</text>
<text x="356.15" y="1260.62">CC C C      C  CC CCCC    CTC C CC  C C   CC  C C C CC   C C   C</text>
<text x="356.15" y="1265">CC C C      C  CC CCC     CTC C CC  C C   CC  C C C CC   C C   C</text>
<text x="356.15" y="1269.38">CC C C      C  CC CCC     CTC C CC  C C   CC  C C C CC   C C   C</text>
<text x="356.15" y="1273.75">CC C C      C  CC CCC     CTC C CC  C C   CC  C C C CC   C C   C</text>
<text x="356.15" y="1278.12">CC C C      C  CC CCC     CTC C CC  C C   CC  C C C CC   C C   C</text>
<text x="356.15" y="1282.5">CC C C      C  CC CCC     CTC C CC  C C   CC  C C C CC   C C   C</text>
<text x="356.15" y="1286.88">CC C C      C  CC CCCC    CTC C CC  C C   CC  C C C CC   C C   C</text>
<text x="356.15" y="1291.25">CC C C      C  CC CCC     CTC C CC  C C   CC  C C C CC   C C   C</text>
<text x="356.15" y="1295.62">CC C C      C  CC CCC     CTC C CC  C C   CC  C C C CC   C C   C</text>
<text x="356.15" y="1300">CC C C      C  CC CCC     CTC C CC  C C   CC  C C C CC   C C   C</text>
</g>
<g class="m b2" transform="rotate(0.03 516 668)">
<text x="356.15" y="40">      GG GGG GG  G       A     G  G  G   G  GG                   G</text>
<text x="356.15" y="44.38">  G   GG GGG GG  G     GGA     G  GA G G G  GG A   G            GG</text>
<text x="356.15" y="48.75">  G   GG GGG GG  G     GGA     G  GA G G G  GG A   G            GG</text>
<text x="356.15" y="53.12">  G    G GGG GG  G     GGA     G  G  G   G  GG A                GG</text>
<text x="356.15" y="57.5">  G G GGGGGG GG  G     GGA     G  GA G G G  GG A   G        G   GG</text>
<text x="356.15" y="61.88">  G G GGGGGG GG  G     GGA     G  GA G G G  GG A   G  GAG   G   GG</text>
<text x="356.15" y="66.25">  G G GGGGGG GG  G     GG      G  GA G G G  GG A   G        G   GG</text>
<text x="356.15" y="70.62">  G G GGGGGG GG  G     GG      G  GA G G G  GG A   G        G   GG</text>
<text x="356.15" y="75">  G G GGGGGG GG  G     GG      G  GA G G G  GG A   G  GAG   G   GG</text>
<text x="356.15" y="79.38">  G G GGGGGG GG  G     GGA   A G  GA G G G  GG A   G  GAG   G   GG</text>
<text x="356.15" y="83.75">  G G GGGGGG GG  G     GGA     G  GA G G G  GG A   G  GAG   G   GG</text>
<text x="356.15" y="88.12">  G G GGGGGG GG  G     GGA     G  GA G G G  GG A   G  GAG   G   GG</text>
<text x="356.15" y="92.5">  G G GGGGGG GG  G     GGA     G  GA G G G  GG A   G  GAG   G   GG</text>
<text x="356.15" y="96.88">  G G GGGGGG GG  G     GGA     G  GA G G G  GG A   G  GAG   G   GG</text>
<text x="356.15" y="101.25">  G G GGGGGG GG  G     GGA     G  GA G G G  GG A   G  GAG   G   GG</text>
<text x="356.15" y="105.62">  G G GGGGGG GG  G     GGA     G  GA G G G  GG A   G  GAG   G   GG</text>
<text x="356.15" y="110">  G G GGGGGG GG  G     GGA     G  GA G G G  GG A   G  GAG   G   GG</text>
<text x="356.15" y="114.38">  G G GGGGGG GG  G     GGA     G  GA G G G  GG A   G  GAG   G   GG</text>
<text x="356.15" y="118.75">  G G GGGGGG GG  G     GGA     G  GA G G G  GG A   G  GAG   G   GG</text>
<text x="356.15" y="123.12">  G G GGGGGG GG  G     GGA     G  GA G G G  GG A   G  GAG   G   GG</text>
<text x="356.15" y="127.5">  G G GGGGGG GG  G     GGA     G  GA G G G  GG A   G  GAG   G   GG</text>
<text x="356.15" y="131.88">  G G GGGGGG GG  G     GGA     G  GA G G G  GG A   G  GAG   G   GG</text>
<text x="356.15" y="136.25">  G   GGGGGG GG  G     GGA     G  GA G G G  GG A   G            GG</text>
<text x="356.15" y="140.62">  G   GGGGGG GG          A     G  GA G G G  GG A   G            GG</text>
<text x="356.15" y="145">  G   GGGGGG GG  G     GGA     G  GA G G G  GG A   G  GAG   G   GG</text>
<text x="356.15" y="149.38">  G   GGGGGG GG  G     GGA     G  GA G G G  GG A   G  GAG   G   GG</text>
<text x="356.15" y="153.75">  G G GGGGGG GG  G     GGA     G  GA G G G  GG A   G  GAG   G   GG</text>
<text x="356.15" y="158.12">  G G GGGGGG GG  G     GGA     G  GA G G G  GG A   G  GAG   G   GG</text>
<text x="356.15" y="162.5">  G G GGGGGG GG  G     GGA     G  GA G G G  GG A   G  GAG   G   GG</text>
<text x="356.15" y="166.88">  G G GGGGGG GG  G     GGA     G  GA G G G  GG A   G  GAG   G   GG</text>
<text x="356.15" y="171.25">  G G GGGGGG GG  G     GGA     G  GA G G G  GG A   G  GAG   G   GG</text>
<text x="356.15" y="175.62">  G G GGGGGG GG  G     GGA     G  GA G G G  GG A   G  GAG   G   GG</text>
<text x="356.15" y="180">  G   GGGGGG GG  G     GGA     G  GA G G G  GG A   G        G   GG</text>
<text x="356.15" y="184.38">  G G GGGGGG GG  G     GGA     G  GA G G G  GG A   G  GAG   G   GG</text>
<text x="356.15" y="188.75">  G   GGGGGG GG  G       A     G  G  G   G  GG A                GG</text>
<text x="356.15" y="193.12">  G G GGGGGG GG  G     GGA     G  GA G G G  GG A   G  GAG   G   GG</text>
<text x="356.15" y="197.5">  G   GGGGGG GG  G     GGA     G  GA G G G  GG A   G            GG</text>
<text x="356.15" y="201.88">  G G GGGGGG GG  G     GGA     G  GA G G G  GG A   G  GAG   G   GG</text>
<text x="356.15" y="206.25">  G G GGGGGG GG  G     GGA     G  GA G G G  GG A   G  GAG   G   GG</text>
<text x="356.15" y="210.62">  G G GGGGGG GG  G     GGA     G  GA G G G  GG A   G  GAG   G   GG</text>
<text x="356.15" y="215">  G G GGGGGG GG  G     GGA     G  GA G G G  GG A   G  GAG   G   GG</text>
<text x="356.15" y="219.38">  G   GGGGGG GG  G     GGA   A G  GA G G G  GG A   G  GAG   G   GG</text>
<text x="356.15" y="223.75">  G G GGGGGG GG  G     GGA   A G  GA G G G  GG A   G  GAG   G   GG</text>
<text x="356.15" y="228.12">  G G GGGGGG GG  G     GGA     G  GA G G G  GG A   G  GAG   G   GG</text>
<text x="356.15" y="232.5">  G G GGGGGG GG  G     GGA     G  GA G G G  GG A   G  GAG   G   GG</text>
<text x="356.15" y="236.88">  G G GGGGGG GG  G     GGA     G  GA G G G  GG A   G  GA    G   GG</text>
<text x="356.15" y="241.25">  G G GGGGGG GG  G     GGA     G  GA G G G  GG A   G  GAG   G   GG</text>
<text x="356.15" y="245.62">  G G GGGGGG GG  G     GGA     G  GA G G G  GG A   G  GAG   G   GG</text>
<text x="356.15" y="250">  G G GGGGGG GG  G     GGA     G  GA G G G  GG A   G  GAG   G   GG</text>
<text x="356.15" y="254.38">  G G GGGGGG GG  G     GGA     G  GA G G G  GG A   G            GG</text>
<text x="356.15" y="258.75">  G G GGGGGG GG  G     GGA     G  GA G G G  GG A   G  GAG   G   GG</text>
<text x="356.15" y="263.12">  G G GGGGGG GG  G     GGA     G  GA G G G  GG A   G  GAG   G   GG</text>
<text x="356.15" y="267.5">  G G GGGGGG GG  G     GGA     G  GA G G G  GG A   G  GAG   G   GG</text>
<text x="356.15" y="271.88">  G G GGGGGG GG  G     GGA     G  GA G G G  GG A   G  GAG   G   GG</text>
<text x="356.15" y="276.25">      GG GGG GG  G     GGA     G  GA G   G  GG A                GG</text>
<text x="356.15" y="280.62">  G G GGGGGG GG  G     GGA     G  GA G G G  GG A   G  GA    G   GG</text>
<text x="356.15" y="285">  G G GGGGGG GG  G     GGA     G  GA G G G  GG A   G  GAG   G   GG</text>
<text x="356.15" y="289.38">  G G GGGGGG GG  G     GGA     G  GA G G G  GG A   G  GAG   G   GG</text>
<text x="356.15" y="293.75">  G G GGGGGG GG  G     GGA     G  GA G G G  GG A   G  GAG   G   GG</text>
<text x="356.15" y="298.12">  G G GGGGGG GG  G     GGA     G  GA G G G  GG A   G        G   GG</text>
<text x="356.15" y="302.5">  G G GGGGGG GG  G     GGA     G  GA G G G  GG A   G        G   GG</text>
<text x="356.15" y="306.88">  G G GGGGGG GG  G     GGA     G  GA G G G  GG A   G  GAG   G   GG</text>
<text x="356.15" y="311.25">  G G GGGGGG GG  G     GGA     G  GA G G G  GG A   G  GAG   G   GG</text>
<text x="356.15" y="315.62">  G G GGGGGG GG  G     GGA     G  GA G G G  GG A   G            GG</text>
<text x="356.15" y="320">  G G GGGGGG GG  G     GGA     G  GA G G G  GG A   G        G   GG</text>
<text x="356.15" y="324.38">  G G GGGGGG GG  G     GGA     G  GA G G G  GG A   G  GAG   G   GG</text>
<text x="356.15" y="328.75">  G G GGGGGG GG  G     GGA     G  GA G G G  GG A   G  GAG   G   GG</text>
<text x="356.15" y="333.12">  G G GGGGGG GG  G     GGA     G  GA G G G  GG A   G  GAG   G   GG</text>
<text x="356.15" y="337.5">  G G GGGGGG GG  G     GGA     G  GA G G G  GG A   G  GAG   G   GG</text>
<text x="356.15" y="341.88">  G G GGGGGG GG  G     GGA     G  GA G G G  GG A   G  GAG   G   GG</text>
<text x="356.15" y="346.25">  G G GGGGGG GG  G     GGA     G  GA G G G  GG A   G  GAG   G   GG</text>
<text x="356.15" y="350.62">  G G GGGGGG GG  G     GGA     G  GA G G G  GG A   G        G   GG</text>
<text x="356.15" y="355">  G G GGGGGG GG  G     GGA     G  GA G G G  GG A   G        G   GG</text>
<text x="356.15" y="359.38">  G G GGGGGG GG  G     GGA     G  GA G G G  GG A   G  GAG   G   GG</text>
<text x="356.15" y="363.75">  G G GGGGGG GG  G     GGA     G  GA G G G  GG A   G  GAG   G   GG</text>
<text x="356.15" y="368.12">  G G GGGGGG GG  G     GGA     G  GA G G G  GG A   G  GAG   G   GG</text>
<text x="356.15" y="372.5">  G   GGGGGG GG  G     GGA     G  GA G G G  GG A   G            GG</text>
<text x="356.15" y="376.88">  G G GGGGGG GG  G     GGA     G  GA G G G  GG A   G  GAG   G   GG</text>
<text x="356.15" y="381.25">    G GGGGGG GG  G       A   A G  GA G G G  GG A   G  GAG G G   G</text>
<text x="356.15" y="385.62">  G G GGGGGG GG  G       A   A G  GA G G G  GG     G  GAG G G   G</text>
<text x="356.15" y="390">  G G GGGGGG GG  G     GGA   A G  GA G G G  GG A   G  GAG G G   G</text>
<text x="356.15" y="394.38">  G G GGGGGG GG  G     G A   A G  GA G   G   G A   G  GAG G G   GG</text>
<text x="356.15" y="398.75">  G G GGGGGG GG  G     G A   A G  GA G   G   G A   G  GAG G G   GG</text>
<text x="356.15" y="403.12">  G G GGGGGG GG  G     GGA   A G  GA G G G  GG A   G  GAG G G   GG</text>
<text x="356.15" y="407.5">  G G GGGGGG GG  G     GGA   A G  GA G G G  GG A   G  GAG G G   GG</text>
<text x="356.15" y="411.88">    G GGGGGG GG  G       A   A G  GA G G G  GG A   G  GAG G G   GG</text>
<text x="356.15" y="416.25">  G G GGGGGG GG  G     GGA   A G  GA G G G  GG     G  GAG G G   GG</text>
<text x="356.15" y="420.62">  G G GGGGGG GG  G     GGA     G  GA G G G  GG A   G  GAG   G   GG</text>
<text x="356.15" y="425">  G G GGGGGG GG  G     GGA     G  GA G G G  GG A   G  GAG   G   GG</text>
<text x="356.15" y="429.38">  G G GGGGGG GG  G     GGA     G  GA G G G  GG A   G  GAG   G   GG</text>
<text x="356.15" y="433.75">  G G GGGGGG GG  G     GGA   A G  GA G G G  GG A   G  GAG G G   GG</text>
<text x="356.15" y="438.12">  G G GGGGGG GG  G     GGA   A G  GA G G G  GG A   G  GAG   G   GG</text>
<text x="356.15" y="442.5">  G G GGGGGG GG  G     GGA     G  GA G G G  GG A   G  GAG   G   GG</text>
<text x="356.15" y="446.88">  G G GGGGGG GG  G     GGA     G  GA G G G  GG A   G  GAG   G   GG</text>
<text x="356.15" y="451.25">  G G GGGGGG GG  G     GGA     G  GA G G G  GG A   G        G   GG</text>
<text x="356.15" y="455.62">  G G GGGGGG GG  G     GGA     G  GA G G G  GG A   G        G   GG</text>
<text x="356.15" y="460">  G G GGGGGG GG  G     GGA     G  GA G G G  GG A   G  GAG   G   GG</text>
<text x="356.15" y="464.38">  G G GGGGGG GG  G     GGA     G  GA G G G  GG A   G  GAG   G   GG</text>
<text x="356.15" y="468.75">  G G GGGGGG GG  G     GGA   A G  GA G G G  GG A   G  GAG   G   GG</text>
<text x="356.15" y="473.12">  G G GGGGGG GG  G     GGA   A G  GA G G G  GG A   G  GAG   G   GG</text>
<text x="356.15" y="477.5">  G   GGGGGG GG  G     GGA   A G  GA G G G  GG A   G  GA  G G   GG</text>
<text x="356.15" y="481.88">  G G GGGGGG GG  G     GGA   A G  GA G G G  GG A   G  GAG G G   GG</text>
<text x="356.15" y="486.25">  G G GGGGGG GG  G     GGA   A G  GA G GGG  GG A   G  GAG   G   GG</text>
<text x="356.15" y="490.62">  G G GGGGGG GG  G     GGA   A G  GA G GGG  GG A   G  GAG   G   GG</text>
<text x="356.15" y="495">  G G GGGGGG GG  G     GGA   A G  GA G GGG  GG A   G  GAG   G   GG</text>
<text x="356.15" y="499.38">  G G GGGGGG GG  G     GGA   A G  GA G GGG  GG A   G  GAG   G   GG</text>
<text x="356.15" y="503.75">  G G GGGGGG GG  G     GGA   A G  GA G GGG  GG A   G  GAG   G   GG</text>
<text x="356.15" y="508.12">  G G GGGGGG GG  G     GGA   A G  GA G GGG  GG A   G  GAG   G   GG</text>
<text x="356.15" y="512.5">  G G GGGGGG GG  G     GGA   A G  GA G GGG  GG A   G  GAG   G   GG</text>
<text x="356.15" y="516.88">  G G GGGGGG GG  G     GGA   A G  GA G GGG  GG A   G  GAG   G   GG</text>
<text x="356.15" y="521.25">  G G GGGGGG GG  G     GGA   A G  GA G GGG  GG A   G  GAG   G   GG</text>
<text x="356.15" y="525.62">  G G GGGGGG GG  G     GGA   A G  GA G GGG  GG A   G  GAG   G   GG</text>
<text x="356.15" y="530">  G G GGGGGG GG  G     GGA   A G  GA G GGG  GG A   G  GAG   G   GG</text>
<text x="356.15" y="534.38">  G G GGGGGG GG  G     GGA   A G  GA G GGG  GG A   G  GAG   G   GG</text>
<text x="356.15" y="538.75">  G G GGGGGG GG  G     GGA   A G  GA G GGG  GG A   G  GAG   G   GG</text>
<text x="356.15" y="543.12">  G G GGGGGG GG  G     GGA   A G  GA G GGG  GG A   G  GAG   G   GG</text>
<text x="356.15" y="547.5">  G G GGGGGG GG  G     GGA   A G  GA G GGG  GG A   G  GAG   G   GG</text>
<text x="356.15" y="551.88">  G G GGGGGG GG  G     GGA   A G  GA G GGG  GG A   G  GAG   G   GG</text>
<text x="356.15" y="556.25">  G G GGGGGG GG  G     GGA   A G  GA G GGG  GG A   G  GAG   G   GG</text>
<text x="356.15" y="560.62">  G G GGGGGG GG  G     GGA   A G  GA G GGG  GG A   G  GAG   G   GG</text>
<text x="356.15" y="565">  G G GGGGGG GG  G     GGA   A G  GA G GGG  GG A   G  GAG   G   GG</text>
<text x="356.15" y="569.38">  G G GGGGGG GG  G     GGA   A G  GA G GGG  GG A   G  GAG   G   GG</text>
<text x="356.15" y="573.75">  G G GGGGGG GG  G     GGA   A G  GA G GGG  GG A   G  GAG   G   GG</text>
<text x="356.15" y="578.12">  G G GGGGGG GG  G     GGA   A G  GA G GGG  GG A   G  GAG   G   GG</text>
<text x="356.15" y="582.5">  G G GGGGGG GG  G     GGA   A G  GA G GGG  GG A   G  GAG   G   GG</text>
<text x="356.15" y="586.88">  G G GGGGGG GG  G     GGA   A G  GA G GGG  GG A   G   AG   G   GG</text>
<text x="356.15" y="591.25">  G G GGGGGG GG  G     GGA   A G  GA G GGG  GG A   G   AG   G   GG</text>
<text x="356.15" y="595.62">  G G GGGGGG GG  G     GGA   A G  GA G GGG  GG A   G   AG   G   GG</text>
<text x="356.15" y="600">  G G GGGGGG GG  G     GGA   A G  GA G GGG  GG A   G   AG   G   GG</text>
<text x="356.15" y="604.38">  G G GGGGGG GG  G     GGA   A G  GA G GGG  GG A   G   AG   G   GG</text>
<text x="356.15" y="608.75">  G G GGGGGG GG  G     GGA   A G  GA G GGG  GG A   G   AG   G   GG</text>
<text x="356.15" y="613.12">  G G GGGGGG GG  G     GGA   A G  GA G GGG  GG A   G   AG   G   GG</text>
<text x="356.15" y="617.5">  G G GGGGGG GG  G     GGA   A G  GA G GGG  GG A   G   AG   G   GG</text>
<text x="356.15" y="621.88">  G G GGGGGG GG  G     GGA   A G  GA G GGG  GG A   G   AG   G   GG</text>
<text x="356.15" y="626.25">  G G GGGGGG GG  G      GA   A G  GA G GGG  GG A   G   AG   G   GG</text>
<text x="356.15" y="630.62">  G G GGGGGG GG  G      GA   A G  GA G GGG  GG A   G   AG   G   GG</text>
<text x="356.15" y="635">  G G GGGGGG GG  G     GGA   A G  GA G GGG  GG A   G   AG   G   GG</text>
<text x="356.15" y="639.38">  G G GGGGGG GG  G     GGA   A G  GA G GGG  GG A   G   AG   G   GG</text>
<text x="356.15" y="643.75">  G G GGGGGG GG        GGA   A G  GA G GGG  GG A   G  GAG   G   GG</text>
<text x="356.15" y="648.12">  G G GGGGGG GG        GGA   A G  GA G GGG  GG A   G  GAG   G   GG</text>
<text x="356.15" y="652.5">  G G GGGGGG GG        GGA   A G  GA G GGG  GG A   G  GAG   G   GG</text>
<text x="356.15" y="656.88">  G G GGG GG GG  G     GGA   A G  GA G GGG  GG A   G  GAG   G   GG</text>
<text x="356.15" y="661.25">  G G GGG GG GG  G     GGA   A G  GA G GGG  GG A   G  GAG   G   GG</text>
<text x="356.15" y="665.62">  G G GGG GG GG  G     GGA   A G  GA G GGG  GG A   G  GAG   G   GG</text>
<text x="356.15" y="670">  G G GGGGGG GG  G     GGA   A G  GA G GGG  GG A   G  GAG   G   GG</text>
<text x="356.15" y="674.38">  G G GGGGGG GG  G     GGA   A G  GA G GGG  GG A   G  GAG   G   GG</text>
<text x="356.15" y="678.75">  G G GGGGGG GG  G     GGA   A G   A G GGG  GG A   G  GAG   G   GG</text>
<text x="356.15" y="683.12">  G G GGGGGG GG  G     GGA   A G   A G GGG  GG A   G  GAG   G   GG</text>
<text x="356.15" y="687.5">  G G GGGGGG GG  G     GGA   A G  GA G GGG  GG A   G  GAG   G   GG</text>
<text x="356.15" y="691.88">  G G GGGGGG GG  G     GGA   A G  GA G GGG  GG A   G  GAG   G   GG</text>
<text x="356.15" y="696.25">  G G GGGGGG GG  G     GGA   A G  GA G GGG  GG A   G  GAG   G   GG</text>
<text x="356.15" y="700.62">  G G GGGGGG GG  G     GGA   A G  GA G GGG  GG A   G  GAG   G   GG</text>
<text x="356.15" y="705">  G G GGGGGG GG  G     GGA   A G  GA G GGG  GG A   G  GAG   G   GG</text>
<text x="356.15" y="709.38">  G G GGGGGG GG  G     GGA   A G  GA G GGG  GG A   G  GAG   G   GG</text>
<text x="356.15" y="713.75">  G G GGGGGG GG  G     GGA   A G  GA G GGG  GG A   G  GAG   G   GG</text>
<text x="356.15" y="718.12">  G G GGGGGG GG  G     GGA   A G  GA G GGG  GG A   G  GAG   G   GG</text>
<text x="356.15" y="722.5">  G G GGGGGG GG  G     GGA   A G  GA G GGG  GG A   G  GAG   G   GG</text>
<text x="356.15" y="726.88">  G G GG GGG GG  G     GGA   A G  GA G GGG  GG A   G  GAG   G    G</text>
<text x="356.15" y="731.25">  G G GG GGG GG  G     GGA     G  GA G GGG  GG A   G        G    G</text>
<text x="356.15" y="735.62">  G G GGGGGG GG  G     GGA     G  GA G  GG  GG A   G  GAG   G   GG</text>
<text x="356.15" y="740">  G G GGGGGG GG  G     GGA   A G  GA G GGG  GG A   G  GAG   G   GG</text>
<text x="356.15" y="744.38">  G G GGGGGG GG  G     GGA   A G  GA G GGG  GG A   G  GAG G G   GG</text>
<text x="356.15" y="748.75">  G G G GGGG GG  G     GGA     G  GA G GGG  GG A      GAG   G   GG</text>
<text x="356.15" y="753.12">  G G G GGGG GG  G     GGA   A G  GA G GGG  GG A      GAG   G   GG</text>
<text x="356.15" y="757.5">  G G G GGGG GG  G       A   A G  GA G GGG  GG A   G  GAG   G   GG</text>
<text x="356.15" y="761.88">  G G GGGGGG GG  G     GGA   A G  GA G GGG  GG A   G  GAG G G   GG</text>
<text x="356.15" y="766.25">  G G GGGGGG GG  G     GGA   A G  GA G GGG  GG A   G  GAG G G   GG</text>
<text x="356.15" y="770.62">  G G GGGGGG GG  G     GGA   A G  GA G GGG  GG A   G  GAG G G   GG</text>
<text x="356.15" y="775">  G   GGGGGG GG  G     GGA   A G  GA G GGG  GG A   G  GAG G G   GG</text>
<text x="356.15" y="779.38">  G G GGGGGG GG  G     GGA   A G  GA G GGG  GG A   G  GAG G G   GG</text>
<text x="356.15" y="783.75">  G G GGGGGG GG  G     GGA   A G  GA G GGG  GG A   G  GAG G G   GG</text>
<text x="356.15" y="788.12">  G   GGG GG GG  G     GGA   A G  GA G GGG  GG A   G  GAG G G   GG</text>
<text x="356.15" y="792.5">  G G GGGGGG GG  G     GGA   A G  GA G GGG  GG A   G  GAG G G   GG</text>
<text x="356.15" y="796.88">  G G GGGGGG GG  G     GGA   A G  GA G GGG  GG A   G  GAG G G   GG</text>
<text x="356.15" y="801.25">  G   GGGGGG GG  G     GGA   A G  G  G GGG  GG A   G  GA  G G   GG</text>
<text x="356.15" y="805.62">  G   GGGGGG GG  G     GGA   A G  G  G GGG  GG A   G  GA  G G   GG</text>
<text x="356.15" y="810">  G G GGGG G GG  G     GGA   A G  G  G GGG  G  A   G  GAG G G   GG</text>
<text x="356.15" y="814.38">  G   GGGG G GG  G     GGA   A G  G  G GGG  G  A   G  GAG G G   GG</text>
<text x="356.15" y="818.75">  G G GGGGGG GG  G     GGA   A G  G  G GGG  GG A   G  GAG G G   GG</text>
<text x="356.15" y="823.12">    G GGGGGG GG  G     GGA     G  G  G GGG  GG A   G  GAG G G   GG</text>
<text x="356.15" y="827.5">      GGGGGG GG  G     GGA     G  G  G GGG  GG A   G  GA  G G   GG</text>
<text x="356.15" y="831.88">      GGGGGG G   G     GGA     G  G  G GGG  GG A   G  GA  G G   GG</text>
<text x="356.15" y="836.25">      GGGGGG GG  G     GGA     G  G  G GGG  GG A   G  GAG G G   GG</text>
<text x="356.15" y="840.62">      GGGGGG GG  G     GGA     G  G  G GGG  GG A   G  GA  G G   GG</text>
<text x="356.15" y="845">    G GGGGGG GG  G     GGA     G  G  G GGG  GG A   G  GAG G G   GG</text>
<text x="356.15" y="849.38">  G G GGGGG  GG  G     GGA     G  G  G GGG  GG A   G  GAG G G   G</text>
<text x="356.15" y="853.75">    G GGGGG  GG  G     G A     G  G  G GGG  GG     G  GAG G G   GG</text>
<text x="356.15" y="858.12">  G   GGGGGG GG  G     GGA     G  G  G GGG  GG A   G  GAG G G   GG</text>
<text x="356.15" y="862.5">  G   GGGGGG G   G     GGA     G  G  G GGG  GG A   G  GAG G G   GG</text>
<text x="356.15" y="866.88">  G G GGGGGG G   G     GGA     G  G  G GGG  GG A   G  GAG G G   GG</text>
<text x="356.15" y="871.25">  G G GGGGGG G   G     GGA     G  G  G GGG  GG A   G  GAG G G   GG</text>
<text x="356.15" y="875.62">  G G GGGGGG GG  G     GGA     G  G  G GGG  GG A   G  GAG G G   GG</text>
<text x="356.15" y="880">  G G GGGGGG GG  G     GGA     G  G  G GGG  GG A   G  GAG G G   GG</text>
<text x="356.15" y="884.38">  G G GGGGGG GG  G     GGA     G  G  G GGG  GG A   G  GAG G G   GG</text>
<text x="356.15" y="888.75">  G G GGGGGG GG  G     GGA     G  G  G GGG  GG A   G  GAG G     GG</text>
<text x="356.15" y="893.12">  G G GGGGGG GG  G     GGA     G  G  G GGG  GG A   G  GA  G     GG</text>
<text x="356.15" y="897.5">  G   GGGGGG GG  G     GGA     G  G    GGG  GG A   G  GAG G G   GG</text>
<text x="356.15" y="901.88">  G   GGGGGG GG  G     GGA     G  G    GGG  GG A   G  GAG G G   GG</text>
<text x="356.15" y="906.25">  G G GGGGGG GG  G     GGA     G  G  G GGG  GG A   G  GA    G   GG</text>
<text x="356.15" y="910.62">  G   GGGGGG GG  G     GGA     G  G  G GGG  GG A   G  GAG G G   GG</text>
<text x="356.15" y="915">  G G GGGGGG GG  G     GGA     G  G  G GGG  GG A   G  GAG G G   GG</text>
<text x="356.15" y="919.38">  G G GGGGGG GG  G     GGA     G  G  G GGG  GG A   G  GAG G G   GG</text>
<text x="356.15" y="923.75">  G   GGGGGG GG  G     GGA     G  G  G GGG  GG A   G  GAG G G   GG</text>
<text x="356.15" y="928.12">  G   GGGGGG GG  G     GGA     G  G  G GGG  GG A   G  GAG G G   GG</text>
<text x="356.15" y="932.5">  G G  GGGGG GG  G     GGA     G  G  G GGG  GG A   G  GAG G G   GG</text>
<text x="356.15" y="936.88">  G    GGGGG GG  G     GGA     G  G  G GGG  GG A   G  GAG G G   GG</text>
<text x="356.15" y="941.25">  G   GGGGGG  G  G     GGA     G  G  G GGG  GG A   G  GAG G G   GG</text>
<text x="356.15" y="945.62">  G   GGGGGG  G  G     GGA     G  G  G GGG  GG A   G  GAG G G   GG</text>
<text x="356.15" y="950">  G G GGGGGG GG  G     GGA     G  G  G GGG  GG A   G  GAG G G   GG</text>
<text x="356.15" y="954.38">  G G GGGGGG GG  G     GGA     G  G  G GGG  GG A   G  GAG G G   GG</text>
<text x="356.15" y="958.75">  G G GGGGGG GG  G     GGA     G  G  G GGG  GG A   G  G G G G   GG</text>
<text x="356.15" y="963.12">  G G GGGGGG GG  G     GGA     G  G  G GGG  GG A   G  G G G G   GG</text>
<text x="356.15" y="967.5">  G G GGGGGG GG  G     GGA     G  G  G GGG  GG A   G  GAG G G   GG</text>
<text x="356.15" y="971.88">  G   GGGGGG GG  G     GGA     G  G  G GGG  GG A   G  GAG G G   GG</text>
<text x="356.15" y="976.25">  G G GGGGGG GG  G     GGA     G  G  G GGG  GG A   G  GAG   G   GG</text>
<text x="356.15" y="980.62">  G   GGGGGG GG  G     GGA     G  G  G GGG  GG A   G  GAG G G   GG</text>
<text x="356.15" y="985">  G   GGGGGG GG  G     GGA     G  G  G GGG  GG A   G  GAG G G   GG</text>
<text x="356.15" y="989.38">  G   GGGGGG G   G     GGA     G  G  G GGG  GG A   G  GA  G G   GG</text>
<text x="356.15" y="993.75">  G   GGGGGG GG  G     GGA     G  G  G GGG  GG A   G  GA  G G   GG</text>
<text x="356.15" y="998.12">  G G GGGGGG GG  G     GGA     G  G  G GGG  GG A   G  GA  G G   G</text>
<text x="356.15" y="1002.5">  G G GGGGGG GG  G     GGA     G  G  G GGG  GG A   G  GA  G G   G</text>
<text x="356.15" y="1006.88">  G G GGGGGG GG  G     GGA     G  G  G GGG  GG A   G  GA  G G   GG</text>
<text x="356.15" y="1011.25">  G G GGGGGG GG  G     GGA     G  G  G GGG  GG A   G  GA  G G   GG</text>
<text x="356.15" y="1015.62">  G G GGGGGG GG  G     GGA     G  G  G GGG  GG A   G  GA  G G   GG</text>
<text x="356.15" y="1020">  G G GGGGGG GG  G     GGA     G  G  G GGG  GG A   G  GAG G G   GG</text>
<text x="356.15" y="1024.38">  G G GGGGGG GG  G     GGA     G  G  G GGG  GG A   G  GAG G G   GG</text>
<text x="356.15" y="1028.75">  G G GGGGGG GG  G     GGA     G  G  G GGG  GG A   G  GAG G G   GG</text>
<text x="356.15" y="1033.12">  G G GGGGGG GG  G     GGA     G  G  G GGG  GG     G  GAG G G   GG</text>
<text x="356.15" y="1037.5">    G GGGGGG GG  G     GGA     G  G  G GGG  GG     G  GAG G G   GG</text>
<text x="356.15" y="1041.88">    G GGGGGG GG  G     GGA     G  G  G GGG  GG     G  GAG G G   GG</text>
<text x="356.15" y="1046.25">  G   GGGGGG GG  G     GGA     G  G  G GGG  GG A   G  GAG G G   GG</text>
<text x="356.15" y="1050.62">  G G GGGGGG GG  G     GGA     G  G  G GGG  GG A   G  GAG G G   GG</text>
<text x="356.15" y="1055">  G G GGGGGG GG  G     GGA     G  G  G GGG  GG A   G  GAG G G   GG</text>
<text x="356.15" y="1059.38">  G   GGGGGG GG  G     GGA     G  G  G GGG  GG A   G  GAG G G   GG</text>
<text x="356.15" y="1063.75">  G G GGGGGG GG  G     GGA     G  G  G GGG  GG A   G  GAG G G   GG</text>
<text x="356.15" y="1068.12">  G G GGGGGG GG  G     GGA     G  G  G GGG  GG A   G  GAG G G   GG</text>
<text x="356.15" y="1072.5">  G G GGGGGG GG  G     GGA     G  G  G GGG  GG A   G  GAG G G   GG</text>
<text x="356.15" y="1076.88">  G   GGGGGG G   G     GGA     G  G  G GGG  GG A   G  GA  G G   GG</text>
<text x="356.15" y="1081.25">  G   GGGGGG GG  G     GGA     G  G  G GGG  GG A   G  GAG G G   GG</text>
<text x="356.15" y="1085.62">  G G GGGGGG GG  G     GGA     G  G  G GGG  GG A   G  GAG   G   GG</text>
<text x="356.15" y="1090">  G   GGGGGG GG  G     GGA     G  G  G GGG  GG A   G  GAG G G   GG</text>
<text x="356.15" y="1094.38">  G G GGGGGG GG  G     GGA     G  G  G GGG  GG A   G  GAG   G   GG</text>
<text x="356.15" y="1098.75">  G G GGGGGG GG  G     GGA     G  G  G GGG  GG A   G  GAG G G   GG</text>
<text x="356.15" y="1103.12">  G   GGGGGG GG  G     GGA     G  G  G GGG  GG A   G  GAG G G   GG</text>
<text x="356.15" y="1107.5">  G G GGGGGG GG  G     GGA     G  G  G GGG  GG A   G  GAG G G   GG</text>
<text x="356.15" y="1111.88">  G G GGGGGG GG  G     GGA     G  G  G GGG  GG A   G  GAG G G   GG</text>
<text x="356.15" y="1116.25">  G   GGGGGG G   G     GGA     G  G  G GG   GG A      GA  G G   GG</text>
<text x="356.15" y="1120.62">  G   GGGGGG GG  G     GGA     G  G  G GGG  GG A   G  GAG G G   GG</text>
<text x="356.15" y="1125">  G   GGGGGG GG  G     GGA     G  G  G GGG  GG A   G  GAG G G   GG</text>
<text x="356.15" y="1129.38">  G   GGGGGG GG  G     GGA     G  G  G GGG  GG A   G  GAG G G   GG</text>
<text x="356.15" y="1133.75">  G G GGGGGG GG  G     GGA     G  G  G GGG  GG A   G  GAG G G   GG</text>
<text x="356.15" y="1138.12">  G   GGGGGG GG  G     GGA     G  G  G GGG  GG A   G  GAG G G   GG</text>
<text x="356.15" y="1142.5">  G   GGGGGG GG  G     GGA        G  G GGG  GG A   G  GAG G G   GG</text>
<text x="356.15" y="1146.88">  G   GGGGGG GG  G     GGA     G  G  G GGG  GG A      GA  G G   GG</text>
<text x="356.15" y="1151.25">  G G GGGGGG  G  G     GGA     G  G  G GGG  GG A   G  GAG G G   GG</text>
<text x="356.15" y="1155.62">  G G GGGGGG G   G     GGA     G  G  G GGG  GG A   G  GA  G G   GG</text>
<text x="356.15" y="1160">  G G GGGGGG GG  G     GGA     G  G  G GGG  GG A   G  GAG G G   GG</text>
<text x="356.15" y="1164.38">  G G GGGGGG GG  G     GGA     G  G  G GGG  GG A   G  GAG G G   GG</text>
<text x="356.15" y="1168.75">  G G GGGGGG  G  G     GGA     G  G  G GGG  G  A   G   AG G G    G</text>
<text x="356.15" y="1173.12">  G G GGGG G  G  G     GGA     G  G  G GGG  GG A   G  GA  G G   GG</text>
<text x="356.15" y="1177.5">  G G GGGGGG GG  G     GG      G  G  G  GG  G  A   G  GA  G G   GG</text>
<text x="356.15" y="1181.88">  G G GGGGGG GG  G     GGA     G  G  G GGG  GG A   G  GAG G G   GG</text>
<text x="356.15" y="1186.25">  G G GGGGGG GG  G     GGA     G  G  G GGG  GG A   G  GAG G G   GG</text>
<text x="356.15" y="1190.62">  G G GGGGG  GG  G     GGA     G  G  G GGG  GG A   G  GAG G G   GG</text>
<text x="356.15" y="1195">  G G GGGGGG GG  G     GGA     G  G  G GGG  GG A   G  GAG G G   GG</text>
<text x="356.15" y="1199.38">  G G GGGG G GG  G     GGA     G  G  G GGG  GG A   G    G G G   GG</text>
<text x="356.15" y="1203.75">  G G GGGGGG GG  G     GG      G  G  G GGG  GG A   G  G G G G   GG</text>
<text x="356.15" y="1208.12">  G G GGGGGG GG  G     GGA     G  G  G GGG  GG A   G  GAG G G   GG</text>
<text x="356.15" y="1212.5">  G G GGGGGG  G  G     GGA     G  G  G GGG  GG A   G  GAG G G   GG</text>
<text x="356.15" y="1216.88">  G G GGGGGG GG  G     GG      G  G  G GGG  GG A   G  GA  G G    G</text>
<text x="356.15" y="1221.25">  G G GGGGGG GG  G     GGA     G  G  G GGG  GG A   G  GAG   G   GG</text>
<text x="356.15" y="1225.62">  G G GGGGGG GG  G     GGA     G  G  G GGG  GG A   G  GAG   G   GG</text>
<text x="356.15" y="1230">  G G GGGGGG GG  G     GGA     G  G  G GGG  GG A   G  GAG   G   GG</text>
<text x="356.15" y="1234.38">  G G GGGGGG GG  G     GGA     G  G  G GGG  GG A   G  GAG   G   GG</text>
<text x="356.15" y="1238.75">  G G GGGGGG GG  G     GGA     G  G  G GGG  GG A   G  GAG   G   GG</text>
<text x="356.15" y="1243.12">    G GGGGGG GG  G     G A     G  G  G GG   GG     G  GAG G G   GG</text>
<text x="356.15" y="1247.5">  G G GGGGGG GG  G       A     G  G  G GGG  GG     G  GAG G G   GG</text>
<text x="356.15" y="1251.88">  G G GGGGGG GG  G     G A     G  G  G GGG  GG     G  GAG G G   GG</text>
<text x="356.15" y="1256.25">  G G GGGGGG GG  G     G A     G  G  G GGG  GG     G  GAG G G   GG</text>
<text x="356.15" y="1260.62">  G G GGGGGG GG  G     GGA     G  G  G GGG  GG     G  GAG G G   GG</text>
<text x="356.15" y="1265">    G GGGGGG GG  G     GGA     G  G  G GGG  GG     G  GAG G G   GG</text>
<text x="356.15" y="1269.38">  G G GGGGGG GG  G     GGA     G  G  G GGG  GG     G  GAG G G   GG</text>
<text x="356.15" y="1273.75">  G G GGGGGG GG  G     GGA     G  G  G GGG  GG     G  GAG G G   GG</text>
<text x="356.15" y="1278.12">  G G GGGGGG GG  G     GGA     G  G  G GGG  GG     G  GAG G G   GG</text>
<text x="356.15" y="1282.5">  G G GGGGGG GG  G     GGA        G  G GGG  GG     G  GAG G G   GG</text>
<text x="356.15" y="1286.88">  G G GGGGGG GG  G     GGA     G  G  G GGG  GG     G  GAG G G   GG</text>
<text x="356.15" y="1291.25">  G G GGGGGG GG  G     GGA     G  G  G GGG  GG     G  GAG G G   GG</text>
<text x="356.15" y="1295.62">  G G GGGGGG GG  G     GGA     G  G  G GGG  GG     G  GAG G G   GG</text>
<text x="356.15" y="1300">  G G GGGGGG GG  G     GGA     G  G  G GGG  GG     G  GAG G G   GG</text>
</g>
<g class="m d" transform="rotate(0.03 516 668)">
<text x="356.15" y="40">N NNN   N          N NNNN NNNNN    N   N       N  NNNNNNNNNNNNN N</text>
<text x="356.15" y="44.38">N   NN  N                 NNNN                    N   NNNNNNNNN</text>
<text x="356.15" y="48.75">N   N   N             N   NNNN                    N   NNNNNNNNN</text>
<text x="356.15" y="53.12">N   N N N             N   NNNNN    N   N          NNNNNNNNNNNNN</text>
<text x="356.15" y="57.5">                          NNNN                        NNNNN  NN</text>
<text x="356.15" y="61.88">                          NNNN                            N  NN</text>
<text x="356.15" y="66.25">                          NNNN                        NNNNN  NN</text>
<text x="356.15" y="70.62">                          NNNN                        NNNNN  NN</text>
<text x="356.15" y="75">                          NNNN                            N  NN</text>
<text x="356.15" y="79.38">                          NNN                             N  NN</text>
<text x="356.15" y="83.75">                          NNNN                            N  NN</text>
<text x="356.15" y="88.12">                          NNNN                            NN NN</text>
<text x="356.15" y="92.5">                          NNNN                            N  NN</text>
<text x="356.15" y="96.88">                          NNNN                            N  NN</text>
<text x="356.15" y="101.25">                          NNNN                            N  NN</text>
<text x="356.15" y="105.62">                          NNNN                            N  NN</text>
<text x="356.15" y="110">                          NNNN                            N  NN</text>
<text x="356.15" y="114.38">                          NNNN                            N  NN</text>
<text x="356.15" y="118.75">                          NNNN                            N  NN</text>
<text x="356.15" y="123.12">                          NNNN                            N  NN</text>
<text x="356.15" y="127.5">                          NNNN                            N  NN</text>
<text x="356.15" y="131.88">                          NNNN                            N</text>
<text x="356.15" y="136.25">    N                     NNNN                    N   NNNNNNNNN</text>
<text x="356.15" y="140.62">    N            N    NNN NNNN                    N   NNNNNNNNN</text>
<text x="356.15" y="145">    N                     NNNN                    N       N  NN</text>
<text x="356.15" y="149.38">    N                     NNNN                            N  NN</text>
<text x="356.15" y="153.75">                          NNNN                            N  NN</text>
<text x="356.15" y="158.12">                          NNNN                            N  NN</text>
<text x="356.15" y="162.5">                          NNNN                            N  NN</text>
<text x="356.15" y="166.88">                          NNNN                            N  NN</text>
<text x="356.15" y="171.25">                          NNNN                            N  NN</text>
<text x="356.15" y="175.62">                          NNNN                            N  NN</text>
<text x="356.15" y="180">    N                     NNNN                    N   NNN N  NN</text>
<text x="356.15" y="184.38">                          NNNN                            N  NN</text>
<text x="356.15" y="188.75">N   N                 NNN NNNN     N   N          NN  NNNNNNNNN</text>
<text x="356.15" y="193.12">                          NNNN                            N  NN</text>
<text x="356.15" y="197.5">    N                     NNNN                    N   NNNNNNNNN</text>
<text x="356.15" y="201.88">                          NNNN                            N  NN</text>
<text x="356.15" y="206.25">                          NNNN                            N  NN</text>
<text x="356.15" y="210.62">                          NNNN                            N  NN</text>
<text x="356.15" y="215">                          NNNN                            N  NN</text>
<text x="356.15" y="219.38">    N                     NNN                             N  NN</text>
<text x="356.15" y="223.75">                          NNN                             N  NN</text>
<text x="356.15" y="228.12">                          NNNN                            N  NN</text>
<text x="356.15" y="232.5">                          NNNN                            N  NN</text>
<text x="356.15" y="236.88">                          NNNN                            N  NN</text>
<text x="356.15" y="241.25">                          NNNN                            N  NN</text>
<text x="356.15" y="245.62">                          NNNN                            N  NN</text>
<text x="356.15" y="250">                          NNNN                            N  NN</text>
<text x="356.15" y="254.38">                          NNNN                        NNNNNNNNN</text>
<text x="356.15" y="258.75">                          NNNN                            N  NN</text>
<text x="356.15" y="263.12">                          NNNN                            N  NN</text>
<text x="356.15" y="267.5">                          NNNN                            N  NN</text>
<text x="356.15" y="271.88">                          NNNN                            N  NN</text>
<text x="356.15" y="276.25">N NNN   N             N   NNNNN        N          NNNNNNNNNNNNN</text>
<text x="356.15" y="280.62">                          NNNN                          NNN  NN</text>
<text x="356.15" y="285">                          NNNN                            N  NN</text>
<text x="356.15" y="289.38">                             N                            N  NN</text>
<text x="356.15" y="293.75">                          NNNN                            N  NN</text>
<text x="356.15" y="298.12">                          NNNN                        NNNNN  NN</text>
<text x="356.15" y="302.5">                          NNNN                        NNNNN  NN</text>
<text x="356.15" y="306.88">                             N                            N  NN</text>
<text x="356.15" y="311.25">                          NNNN                            N  NN</text>
<text x="356.15" y="315.62">                          NNNN                        NNNNNNNNN</text>
<text x="356.15" y="320">                          NNNN                        NNNNN  NN</text>
<text x="356.15" y="324.38">                             N                            N  NN</text>
<text x="356.15" y="328.75">                          NNNN                            N  NN</text>
<text x="356.15" y="333.12">                          NNNN                            N  NN</text>
<text x="356.15" y="337.5">                          NNNN                            N  NN</text>
<text x="356.15" y="341.88">                          NNNN                            N  NN</text>
<text x="356.15" y="346.25">                          NNNN                            N  NN</text>
<text x="356.15" y="350.62">                          NNNN                        NNNNN  NN</text>
<text x="356.15" y="355">                          NNNN                        NNNNN  NN</text>
<text x="356.15" y="359.38">                          NNNN                            N  NN</text>
<text x="356.15" y="363.75">                          NNNN                            N  NN</text>
<text x="356.15" y="368.12">                          NNNN                            N  NN</text>
<text x="356.15" y="372.5">N   N                     NNNN                    N   NNNNNNNNN</text>
<text x="356.15" y="376.88">                          NNNN                            N  NN</text>
<text x="356.15" y="381.25">  N                   NNN                                    NN</text>
<text x="356.15" y="385.62">                      NNN                      N             NN</text>
<text x="356.15" y="390">                   N</text>
<text x="356.15" y="403.12">                                                             N</text>
<text x="356.15" y="407.5">                                                             NN</text>
<text x="356.15" y="411.88">  N                   NNN                                    NN</text>
<text x="356.15" y="416.25">                      N                        N             NN</text>
<text x="356.15" y="420.62">                          NNNN                            N  NN</text>
<text x="356.15" y="425">                          NNNN                            N  NN</text>
<text x="356.15" y="429.38">                          NNNN                            N</text>
<text x="356.15" y="438.12">                          NNN                             N</text>
<text x="356.15" y="442.5">                          NNNN                            N  NN</text>
<text x="356.15" y="446.88">                          NNNN                            N  NN</text>
<text x="356.15" y="451.25">                          NNNN                        NNNNN  NN</text>
<text x="356.15" y="455.62">                          NNNN                        NNNNN  NN</text>
<text x="356.15" y="460">                          NNNN                            N  NN</text>
<text x="356.15" y="464.38">                          NNNN                            N  NN</text>
<text x="356.15" y="468.75">                          NNN                             N  NN</text>
<text x="356.15" y="473.12">                          NNN                             N  NN</text>
<text x="356.15" y="477.5">N   N                                                   N  N</text>
<text x="356.15" y="713.75">                                                  N</text>
<text x="356.15" y="726.88">                          NNN                             N  NN</text>
<text x="356.15" y="731.25">                          NNNN                        NNNNN  NN</text>
<text x="356.15" y="735.62">                          NNNN         N                  N  NN</text>
<text x="356.15" y="740">                          NNN                             N  NN</text>
<text x="356.15" y="748.75">                          NNNN                            N  NN</text>
<text x="356.15" y="753.12">                          NNN                             N  NN</text>
<text x="356.15" y="757.5">                      --- NNN                             N  NN</text>
<text x="356.15" y="788.12">    N    N                                        N      N</text>
<text x="356.15" y="801.25">N   N                                                   N  N</text>
<text x="356.15" y="805.62">N   N                                                   N  N  N</text>
<text x="356.15" y="810">                                                             NN</text>
<text x="356.15" y="814.38">N   N                                                      N NN</text>
<text x="356.15" y="818.75">                                                             NN</text>
<text x="356.15" y="823.12">                                                             NN</text>
<text x="356.15" y="827.5">    N                                                   N    NN</text>
<text x="356.15" y="831.88">    N                              N              N     N  N NN</text>
<text x="356.15" y="836.25">    N                              N                         NN</text>
<text x="356.15" y="840.62">    N                                                   N    NN</text>
<text x="356.15" y="845">                                                             N</text>
<text x="356.15" y="849.38">                                              N   N          N   N</text>
<text x="356.15" y="853.75">  N                  NN N                                    N</text>
<text x="356.15" y="858.12">    N                                                        N</text>
<text x="356.15" y="862.5">N   N                                                        N</text>
<text x="356.15" y="888.75">                                                             N</text>
<text x="356.15" y="893.12">                             N                          N    NN</text>
<text x="356.15" y="897.5">                                                             NN</text>
<text x="356.15" y="901.88">                                                             NN</text>
<text x="356.15" y="906.25">                          NNNN                            N  NN</text>
<text x="356.15" y="910.62">N   N                                                      N NN</text>
<text x="356.15" y="915">                                                             NN</text>
<text x="356.15" y="919.38">                                                             NN</text>
<text x="356.15" y="923.75">N   N                                                        N</text>
<text x="356.15" y="928.12">N   N                                                      N N</text>
<text x="356.15" y="932.5">                                                             NN</text>
<text x="356.15" y="936.88">    N                                                        N</text>
<text x="356.15" y="941.25">    N                                                        N</text>
<text x="356.15" y="945.62">    N                                                        N</text>
<text x="356.15" y="950">                                                             N</text>
<text x="356.15" y="954.38">                                                             NN</text>
<text x="356.15" y="967.5">                                                             N</text>
<text x="356.15" y="971.88">N   N                                                        N</text>
<text x="356.15" y="976.25">                                                          N  NN</text>
<text x="356.15" y="980.62">    N                                                        N</text>
<text x="356.15" y="985">    N                                                        N</text>
<text x="356.15" y="989.38">    N                              N              N     N  N NN</text>
<text x="356.15" y="993.75">    N                                                   N    N</text>
<text x="356.15" y="998.12">                                              N         N        N</text>
<text x="356.15" y="1002.5">                                              N         N        N</text>
<text x="356.15" y="1006.88">                                                        N</text>
<text x="356.15" y="1011.25">                                                        N</text>
<text x="356.15" y="1015.62">                                                        N</text>
<text x="356.15" y="1033.12">                      N                        N             NN</text>
<text x="356.15" y="1037.5">  N                  NN                        N             NN</text>
<text x="356.15" y="1041.88">  N                  NN                        N             NN</text>
<text x="356.15" y="1046.25">    N                                                        N</text>
<text x="356.15" y="1050.62">                                                             NN</text>
<text x="356.15" y="1055">                                                             N</text>
<text x="356.15" y="1059.38">N   N                                                      N N</text>
<text x="356.15" y="1063.75">                                                             N</text>
<text x="356.15" y="1068.12">                                                             N</text>
<text x="356.15" y="1072.5">                                                             NN</text>
<text x="356.15" y="1076.88">N   N         NN                   N                    N  N  N</text>
<text x="356.15" y="1081.25">    N                                                        NN</text>
<text x="356.15" y="1085.62">                          NNNN                            NN NN</text>
<text x="356.15" y="1090">    N                                                      N NN</text>
<text x="356.15" y="1094.38">                          NNNN                            N  N</text>
<text x="356.15" y="1098.75">                                                             N</text>
<text x="356.15" y="1103.12">N   N                                                      N N</text>
<text x="356.15" y="1107.5">                                                             N</text>
<text x="356.15" y="1116.25">N   N         NN                N  N               N    N  N NN</text>
<text x="356.15" y="1120.62">N   N                                                        N</text>
<text x="356.15" y="1125">    N                                                        N</text>
<text x="356.15" y="1129.38">    N                                                        N</text>
<text x="356.15" y="1133.75">                                                             NN</text>
<text x="356.15" y="1138.12">N   N                                                        N</text>
<text x="356.15" y="1142.5">    N                                                        NN</text>
<text x="356.15" y="1146.88">    N                 N                            N    N  N NN</text>
<text x="356.15" y="1151.25">             N  N</text>
<text x="356.15" y="1155.62">N             NN              N                         N</text>
<text x="356.15" y="1160">               N</text>
<text x="356.15" y="1168.75">            NN                   N           N        N         N</text>
<text x="356.15" y="1173.12">          N  N                N                         N</text>
<text x="356.15" y="1177.5">     N             N     N N  N  N     N     N  N       N      N</text>
<text x="356.15" y="1190.62">           N</text>
<text x="356.15" y="1199.38">          N         N            N            N       NN       N</text>
<text x="356.15" y="1203.75">                         N    N                     N  N N    N</text>
<text x="356.15" y="1212.5">             N  N                               NN</text>
<text x="356.15" y="1216.88">                         N                              NN      N</text>
<text x="356.15" y="1221.25">                                                          N  NN</text>
<text x="356.15" y="1225.62">                            N                             N  NN</text>
<text x="356.15" y="1230">                            N                             N  NN</text>
<text x="356.15" y="1234.38">                            N                             N  NN</text>
<text x="356.15" y="1238.75">                          NNN                             N  NN</text>
<text x="356.15" y="1243.12">  N                   N N                                    NN</text>
<text x="356.15" y="1247.5">                      NNN                                     N</text>
<text x="356.15" y="1251.88">                     NN N</text>
<text x="356.15" y="1256.25">                     NN N                                    NN</text>
<text x="356.15" y="1260.62">                      N                        N              N</text>
<text x="356.15" y="1265">  N                  NN                        N              N</text>
<text x="356.15" y="1269.38">                     NN</text>
<text x="356.15" y="1273.75">                     NN                                      NN</text>
<text x="356.15" y="1278.12">                     NN                                      NN</text>
<text x="356.15" y="1282.5">                     NN                                      NN</text>
<text x="356.15" y="1286.88">                      N                                      NN</text>
<text x="356.15" y="1291.25">                     NN                                      NN</text>
<text x="356.15" y="1295.62">                     NN                                      NN</text>
<text x="356.15" y="1300">                     NN                                      N</text>
</g>
<g class="m e" transform="rotate(0.03 516 668)">
<text x="356.15" y="40">                    T</text>
<text x="356.15" y="44.38">                    T         T</text>
<text x="356.15" y="48.75">                    T         T</text>
<text x="356.15" y="53.12">                    T</text>
<text x="356.15" y="57.5">T                   T         T</text>
<text x="356.15" y="61.88">T                   T         T</text>
<text x="356.15" y="66.25">                    T T  T    T</text>
<text x="356.15" y="70.62">                    T T  T    T</text>
<text x="356.15" y="75">                    T T  T    T</text>
<text x="356.15" y="79.38">                    T         T</text>
<text x="356.15" y="83.75">                    T         T</text>
<text x="356.15" y="88.12">                    T         T</text>
<text x="356.15" y="92.5">                    T         T</text>
<text x="356.15" y="96.88">                    T         T</text>
<text x="356.15" y="101.25">                    T         T</text>
<text x="356.15" y="105.62">                    T         T</text>
<text x="356.15" y="110">                    T         T</text>
<text x="356.15" y="114.38">                    T         T</text>
<text x="356.15" y="118.75">                    T         T</text>
<text x="356.15" y="123.12">                    T         T</text>
<text x="356.15" y="127.5">                    T         T</text>
<text x="356.15" y="131.88">                    T         T</text>
<text x="356.15" y="136.25">                    T         T</text>
<text x="356.15" y="140.62">                    T         T</text>
<text x="356.15" y="145">                    T         T</text>
<text x="356.15" y="149.38">                    T         T</text>
<text x="356.15" y="153.75">                    T         T</text>
<text x="356.15" y="158.12">                    T         T</text>
<text x="356.15" y="162.5">                    T         T</text>
<text x="356.15" y="166.88">                    T         T</text>
<text x="356.15" y="171.25">                    T         T</text>
<text x="356.15" y="175.62">                    T         T</text>
<text x="356.15" y="180">                    T         T</text>
<text x="356.15" y="184.38">                    T         T</text>
<text x="356.15" y="188.75">                    T         T</text>
<text x="356.15" y="193.12">                    T         T</text>
<text x="356.15" y="197.5">                    T         T</text>
<text x="356.15" y="201.88">                    T         T</text>
<text x="356.15" y="206.25">                    T         T</text>
<text x="356.15" y="210.62">                    T         T</text>
<text x="356.15" y="215">                    T         T</text>
<text x="356.15" y="219.38">                    T         T</text>
<text x="356.15" y="223.75">                    T         T</text>
<text x="356.15" y="228.12">                    T         T</text>
<text x="356.15" y="232.5">                    T         T</text>
<text x="356.15" y="236.88">                    T         T                  C</text>
<text x="356.15" y="241.25">                    T         T</text>
<text x="356.15" y="245.62">                    T         T</text>
<text x="356.15" y="250">                    T         T</text>
<text x="356.15" y="254.38">                    T         T</text>
<text x="356.15" y="258.75">                    T         T</text>
<text x="356.15" y="263.12">                    T         T</text>
<text x="356.15" y="267.5">                    T         T</text>
<text x="356.15" y="271.88">                    T         T</text>
<text x="356.15" y="276.25">                    T</text>
<text x="356.15" y="280.62">                    T         T</text>
<text x="356.15" y="285">                    T         T</text>
<text x="356.15" y="289.38">                    T         T</text>
<text x="356.15" y="293.75">                    T         T</text>
<text x="356.15" y="298.12">                    T         T</text>
<text x="356.15" y="302.5">                    T         T</text>
<text x="356.15" y="306.88">                    T         T</text>
<text x="356.15" y="311.25">                    T         T</text>
<text x="356.15" y="315.62">                    T         T</text>
<text x="356.15" y="320">                    T         T</text>
<text x="356.15" y="324.38">                    T         T</text>
<text x="356.15" y="328.75">                    T         T</text>
<text x="356.15" y="333.12">                    T         T</text>
<text x="356.15" y="337.5">                    T         T</text>
<text x="356.15" y="341.88">                    T         T</text>
<text x="356.15" y="346.25">                    T         T</text>
<text x="356.15" y="350.62">                    T         T</text>
<text x="356.15" y="355">                    T         T</text>
<text x="356.15" y="359.38">                    T         T</text>
<text x="356.15" y="363.75">                    T         T</text>
<text x="356.15" y="368.12">                    T         T</text>
<text x="356.15" y="372.5">                    T         T</text>
<text x="356.15" y="376.88">                    T         T</text>
<text x="356.15" y="394.38">                                            A       T</text>
<text x="356.15" y="398.75">                                            A       T</text>
<text x="356.15" y="403.12">                                                  T</text>
<text x="356.15" y="407.5">                                                  T</text>
<text x="356.15" y="411.88">     T                          T</text>
<text x="356.15" y="416.25">     T                          T</text>
<text x="356.15" y="486.25">                                          TT               T</text>
<text x="356.15" y="490.62">                                          TT               T</text>
<text x="356.15" y="495">                                          TT               T</text>
<text x="356.15" y="499.38">                                          TT               T</text>
<text x="356.15" y="503.75">                                          TT               T</text>
<text x="356.15" y="508.12">                                          TT               T</text>
<text x="356.15" y="512.5">                                          TT               T</text>
<text x="356.15" y="516.88">                                          TT               T</text>
<text x="356.15" y="521.25">                                          TT               T</text>
<text x="356.15" y="525.62">                                          TT               T</text>
<text x="356.15" y="530">                                          TT               T</text>
<text x="356.15" y="534.38">                                          TT               T</text>
<text x="356.15" y="538.75">                                          TT               T</text>
<text x="356.15" y="543.12">                                          TT               T</text>
<text x="356.15" y="547.5">                                          TT               T</text>
<text x="356.15" y="551.88">                                          TT               T</text>
<text x="356.15" y="556.25">                                          TT               T</text>
<text x="356.15" y="560.62">                                          TT               T</text>
<text x="356.15" y="565">                                          TT               T</text>
<text x="356.15" y="569.38">                                          TT               T</text>
<text x="356.15" y="573.75">                                          TT               T</text>
<text x="356.15" y="578.12">                                          TT               T</text>
<text x="356.15" y="582.5">                                          TT               T</text>
<text x="356.15" y="586.88">                                          TT               T</text>
<text x="356.15" y="591.25">                                          TT               T</text>
<text x="356.15" y="595.62">                                          TT               T</text>
<text x="356.15" y="600">                                          TT               T</text>
<text x="356.15" y="604.38">                                          TT               T</text>
<text x="356.15" y="608.75">                                          TT               T</text>
<text x="356.15" y="613.12">                                          TT               T</text>
<text x="356.15" y="617.5">                                          TT               T</text>
<text x="356.15" y="621.88">                                          TT               T</text>
<text x="356.15" y="626.25">                                          TT               T</text>
<text x="356.15" y="630.62">                                          TT               T</text>
<text x="356.15" y="635">                                          TT               T</text>
<text x="356.15" y="639.38">                                          TT               T</text>
<text x="356.15" y="643.75">                                          TT               T</text>
<text x="356.15" y="648.12">                                          TT               T</text>
<text x="356.15" y="652.5">                                          TT               T</text>
<text x="356.15" y="656.88">                                          TT               T   T</text>
<text x="356.15" y="661.25">                                          TT               T   T</text>
<text x="356.15" y="665.62">                                          TT               T</text>
<text x="356.15" y="670">                                          TT               T</text>
<text x="356.15" y="674.38">                                          TT               T</text>
<text x="356.15" y="678.75"> T                                        TT               T</text>
<text x="356.15" y="683.12"> T                                        TT               T</text>
<text x="356.15" y="687.5">                                          TT         T     T</text>
<text x="356.15" y="691.88">                                          TT         T     T</text>
<text x="356.15" y="696.25">                                          TT               T</text>
<text x="356.15" y="700.62">                                          TT               T</text>
<text x="356.15" y="705">                                          TT               T</text>
<text x="356.15" y="709.38">                                          TT               T</text>
<text x="356.15" y="713.75">                                          TT               T</text>
<text x="356.15" y="718.12">                                          TT               T</text>
<text x="356.15" y="722.5">                                          TT</text>
<text x="356.15" y="726.88">        A       T                   T      T                    A</text>
<text x="356.15" y="731.25">        A       T                   T      T                    A</text>
<text x="356.15" y="735.62">                                           T</text>
<text x="356.15" y="740">                                           T</text>
<text x="356.15" y="744.38">                                           T</text>
<text x="356.15" y="748.75">                                                   A</text>
<text x="356.15" y="753.12">                                                   A</text>
<text x="356.15" y="775">    N</text>
<text x="356.15" y="801.25">                           T       G</text>
<text x="356.15" y="805.62">                           T       G</text>
<text x="356.15" y="810">   T                               G</text>
<text x="356.15" y="814.38">   T                               G</text>
<text x="356.15" y="818.75">                                   G</text>
<text x="356.15" y="823.12">                             G     G             C</text>
<text x="356.15" y="827.5">                             G     G             C</text>
<text x="356.15" y="831.88">              NN  T          G                   C</text>
<text x="356.15" y="836.25">                  T          G                   C</text>
<text x="356.15" y="840.62">                             G     G             C</text>
<text x="356.15" y="845">                             G     G             C</text>
<text x="356.15" y="849.38">               T             G     G             C</text>
<text x="356.15" y="853.75">               T             G     G           G C</text>
<text x="356.15" y="858.12">               T             G     G             C</text>
<text x="356.15" y="862.5">                             G     G             C</text>
<text x="356.15" y="866.88">                             G     G             C</text>
<text x="356.15" y="871.25">                             G     G             C</text>
<text x="356.15" y="875.62">                             G     G             C</text>
<text x="356.15" y="880">                             G     G             C</text>
<text x="356.15" y="884.38">                             G     G             C</text>
<text x="356.15" y="888.75">                             G     G            TC</text>
<text x="356.15" y="893.12">                                   G            TC</text>
<text x="356.15" y="897.5">    A                        G     G A        T  C</text>
<text x="356.15" y="901.88">    A                        G     G A        T  C</text>
<text x="356.15" y="906.25">                   T               G  T          C</text>
<text x="356.15" y="910.62">                   T         G     G  T          C</text>
<text x="356.15" y="915">            T                G     G             C</text>
<text x="356.15" y="919.38">            T                G     G             C</text>
<text x="356.15" y="923.75">                          T  G     G             C</text>
<text x="356.15" y="928.12">                          T  G     G             C</text>
<text x="356.15" y="932.5">                             G     G             C</text>
<text x="356.15" y="936.88">                             G     G             C</text>
<text x="356.15" y="941.25">                             G     G             C</text>
<text x="356.15" y="945.62">                             G     G             C</text>
<text x="356.15" y="950">                            TG     G             C</text>
<text x="356.15" y="954.38">                            TG     G             C</text>
<text x="356.15" y="958.75">                             G     G             C     G</text>
<text x="356.15" y="963.12">                             G     G             C     G</text>
<text x="356.15" y="967.5">                             G     G             C</text>
<text x="356.15" y="971.88">                             G     G             C</text>
<text x="356.15" y="976.25">                             G     G             C</text>
<text x="356.15" y="980.62">                             G     G             C</text>
<text x="356.15" y="985">                             G     G             C</text>
<text x="356.15" y="989.38">              NN             G                   C</text>
<text x="356.15" y="993.75">                             G     G             C</text>
<text x="356.15" y="998.12">                             G     G             C</text>
<text x="356.15" y="1002.5">                             G     G             C</text>
<text x="356.15" y="1006.88">                             G     G             C</text>
<text x="356.15" y="1011.25">                             G     G             C</text>
<text x="356.15" y="1015.62">                             G     G             C</text>
<text x="356.15" y="1020">                             G     G             C</text>
<text x="356.15" y="1024.38">                             G     G             C</text>
<text x="356.15" y="1028.75">                             G     G             C</text>
<text x="356.15" y="1033.12">                             G     G             C</text>
<text x="356.15" y="1037.5">                             G     G             C</text>
<text x="356.15" y="1041.88">                             G     G             C</text>
<text x="356.15" y="1046.25">                             G     G             C</text>
<text x="356.15" y="1050.62">                             G     G             C</text>
<text x="356.15" y="1055">                             G     G             C</text>
<text x="356.15" y="1059.38">                             G     G             C</text>
<text x="356.15" y="1063.75">                             G     G             C</text>
<text x="356.15" y="1068.12">                             G     G             C</text>
<text x="356.15" y="1072.5">                             G     G             C</text>
<text x="356.15" y="1076.88">                             G                   C</text>
<text x="356.15" y="1081.25">                             G     G             C</text>
<text x="356.15" y="1085.62">                                   G             C</text>
<text x="356.15" y="1090">                             G     G             C</text>
<text x="356.15" y="1094.38">                                   G             C</text>
<text x="356.15" y="1098.75">                             G     G             C</text>
<text x="356.15" y="1103.12">                             G     G             C</text>
<text x="356.15" y="1107.5">                             G     G             C</text>
<text x="356.15" y="1111.88">                             G     G             C</text>
<text x="356.15" y="1116.25">                             G                   C</text>
<text x="356.15" y="1120.62">                             G     G             C</text>
<text x="356.15" y="1125">                             G     G             C</text>
<text x="356.15" y="1129.38">                             G     G             C</text>
<text x="356.15" y="1133.75">                             G     G             C</text>
<text x="356.15" y="1138.12">                             G     G             C</text>
<text x="356.15" y="1142.5">                             G     G             C</text>
<text x="356.15" y="1146.88">                             G     G             C</text>
<text x="356.15" y="1151.25">                             G     G             C</text>
<text x="356.15" y="1155.62">                             G     G             C</text>
<text x="356.15" y="1160">                             G     G             C</text>
<text x="356.15" y="1164.38">                             G     G             C</text>
<text x="356.15" y="1168.75">                             G     G             C</text>
<text x="356.15" y="1173.12">                             G     G             C</text>
<text x="356.15" y="1177.5">                             G     G             C</text>
<text x="356.15" y="1181.88">                             G     G             C</text>
<text x="356.15" y="1186.25">                             G     G             C</text>
<text x="356.15" y="1190.62">                             G     G             C</text>
<text x="356.15" y="1195">                             G     G             C</text>
<text x="356.15" y="1199.38">                             G     G             C</text>
<text x="356.15" y="1203.75">                             G     G             C</text>
<text x="356.15" y="1208.12">                             G     G             C</text>
<text x="356.15" y="1212.5">                             G     G</text>
<text x="356.15" y="1216.88">                             G     G             C</text>
<text x="356.15" y="1221.25">                             G     G             C</text>
<text x="356.15" y="1225.62">                             G     G             C</text>
<text x="356.15" y="1230">                             G     G             C</text>
<text x="356.15" y="1234.38">                             G     G             C</text>
<text x="356.15" y="1238.75">                             G     G             C</text>
<text x="356.15" y="1243.12">                     T       G     G           G C</text>
<text x="356.15" y="1247.5">                     T       G     G           G C           T</text>
<text x="356.15" y="1251.88">                             G     G           G C           TC</text>
<text x="356.15" y="1256.25">                             G     G           G C</text>
<text x="356.15" y="1260.62">                             G     G             C           T</text>
<text x="356.15" y="1265">                             G     G             C           T</text>
<text x="356.15" y="1269.38">                             G     G           G C           TC</text>
<text x="356.15" y="1273.75">                             G     G           G C</text>
<text x="356.15" y="1278.12">                             G     G           G C</text>
<text x="356.15" y="1282.5">                             G     G           G C</text>
<text x="356.15" y="1286.88">                             G     G           G C</text>
<text x="356.15" y="1291.25">                             G     G           G C</text>
<text x="356.15" y="1295.62">                             G     G           G C</text>
<text x="356.15" y="1300">                             G     G           G C            C</text>
</g>
<text class="xl" transform="translate(359 1303.9) rotate(-90)">9843</text><text class="xl" transform="translate(363.88 1303.9) rotate(-90)">12987</text><text class="xl" transform="translate(368.77 1303.9) rotate(-90)">15027</text><text class="xl" transform="translate(373.65 1303.9) rotate(-90)">16538</text><text class="xl" transform="translate(378.53 1303.9) rotate(-90)">26243</text><text class="xl" transform="translate(383.42 1303.9) rotate(-90)">30539</text><text class="xl" transform="translate(388.3 1303.9) rotate(-90)">38344</text><text class="xl" transform="translate(393.18 1303.9) rotate(-90)">41818</text><text class="xl" transform="translate(398.06 1303.9) rotate(-90)">49757</text><text class="xl" transform="translate(402.95 1303.9) rotate(-90)">49851</text><text class="xl" transform="translate(407.83 1303.9) rotate(-90)">54887</text><text class="xl" transform="translate(412.71 1303.9) rotate(-90)">55623</text><text class="xl" transform="translate(417.6 1303.9) rotate(-90)">55898</text><text class="xl" transform="translate(422.48 1303.9) rotate(-90)">55995</text><text class="xl" transform="translate(427.36 1303.9) rotate(-90)">57332</text><text class="xl" transform="translate(432.25 1303.9) rotate(-90)">57348</text><text class="xl" transform="translate(437.13 1303.9) rotate(-90)">62663</text><text class="xl" transform="translate(442.01 1303.9) rotate(-90)">69111</text><text class="xl" transform="translate(446.89 1303.9) rotate(-90)">69152</text><text class="xl" transform="translate(451.78 1303.9) rotate(-90)">71751</text><text class="xl" transform="translate(456.66 1303.9) rotate(-90)">77383</text><text class="xl" transform="translate(461.54 1303.9) rotate(-90)">78633</text><text class="xl" transform="translate(466.43 1303.9) rotate(-90)">80764</text><text class="xl" transform="translate(471.31 1303.9) rotate(-90)">81932</text><text class="xl" transform="translate(476.19 1303.9) rotate(-90)">83326</text><text class="xl" transform="translate(481.07 1303.9) rotate(-90)">85638</text><text class="xl" transform="translate(485.96 1303.9) rotate(-90)">86518</text><text class="xl" transform="translate(490.84 1303.9) rotate(-90)">103063</text><text class="xl" transform="translate(495.72 1303.9) rotate(-90)">104607</text><text class="xl" transform="translate(500.61 1303.9) rotate(-90)">106447</text><text class="xl" transform="translate(505.49 1303.9) rotate(-90)">110866</text><text class="xl" transform="translate(510.37 1303.9) rotate(-90)">111366</text><text class="xl" transform="translate(515.26 1303.9) rotate(-90)">116166</text><text class="xl" transform="translate(520.14 1303.9) rotate(-90)">121858</text><text class="xl" transform="translate(525.02 1303.9) rotate(-90)">126818</text><text class="xl" transform="translate(529.9 1303.9) rotate(-90)">133583</text><text class="xl" transform="translate(534.79 1303.9) rotate(-90)">134067</text><text class="xl" transform="translate(539.67 1303.9) rotate(-90)">137387</text><text class="xl" transform="translate(544.55 1303.9) rotate(-90)">137848</text><text class="xl" transform="translate(549.44 1303.9) rotate(-90)">140492</text><text class="xl" transform="translate(554.32 1303.9) rotate(-90)">142797</text><text class="xl" transform="translate(559.2 1303.9) rotate(-90)">143332</text><text class="xl" transform="translate(564.09 1303.9) rotate(-90)">145723</text><text class="xl" transform="translate(568.97 1303.9) rotate(-90)">151403</text><text class="xl" transform="translate(573.85 1303.9) rotate(-90)">152889</text><text class="xl" transform="translate(578.74 1303.9) rotate(-90)">153013</text><text class="xl" transform="translate(583.62 1303.9) rotate(-90)">155813</text><text class="xl" transform="translate(588.5 1303.9) rotate(-90)">158411</text><text class="xl" transform="translate(593.38 1303.9) rotate(-90)">160139</text><text class="xl" transform="translate(598.27 1303.9) rotate(-90)">161651</text><text class="xl" transform="translate(603.15 1303.9) rotate(-90)">162331</text><text class="xl" transform="translate(608.03 1303.9) rotate(-90)">163213</text><text class="xl" transform="translate(612.92 1303.9) rotate(-90)">165253</text><text class="xl" transform="translate(617.8 1303.9) rotate(-90)">165972</text><text class="xl" transform="translate(622.68 1303.9) rotate(-90)">169928</text><text class="xl" transform="translate(627.57 1303.9) rotate(-90)">170262</text><text class="xl" transform="translate(632.45 1303.9) rotate(-90)">170558</text><text class="xl" transform="translate(637.33 1303.9) rotate(-90)">171119</text><text class="xl" transform="translate(642.21 1303.9) rotate(-90)">175138</text><text class="xl" transform="translate(647.1 1303.9) rotate(-90)">175967</text><text class="xl" transform="translate(651.98 1303.9) rotate(-90)">176311</text><text class="xl" transform="translate(656.86 1303.9) rotate(-90)">179053</text><text class="xl" transform="translate(661.75 1303.9) rotate(-90)">183519</text><text class="xl" transform="translate(666.63 1303.9) rotate(-90)">187223</text><text class="xl" transform="translate(671.51 1303.9) rotate(-90)">190660</text><text class="xl" transform="translate(676.39 1303.9) rotate(-90)">194149</text>
</g>
<text x="354.2" y="13.2" font-size="15.1px" fill="#000">Linking mutations</text>
<rect x="356" y="20.8" width="10" height="9.4" fill="#fff" stroke="#000" stroke-width="1.5"/>
<text x="370.2" y="29.6" font-size="10.1px" fill="#000">APOBEC3 like mutations</text>
<text x="517" y="1329.2" font-size="12.6px" fill="#000" text-anchor="middle">Position in alignment</text>
</svg>
</body></html>
